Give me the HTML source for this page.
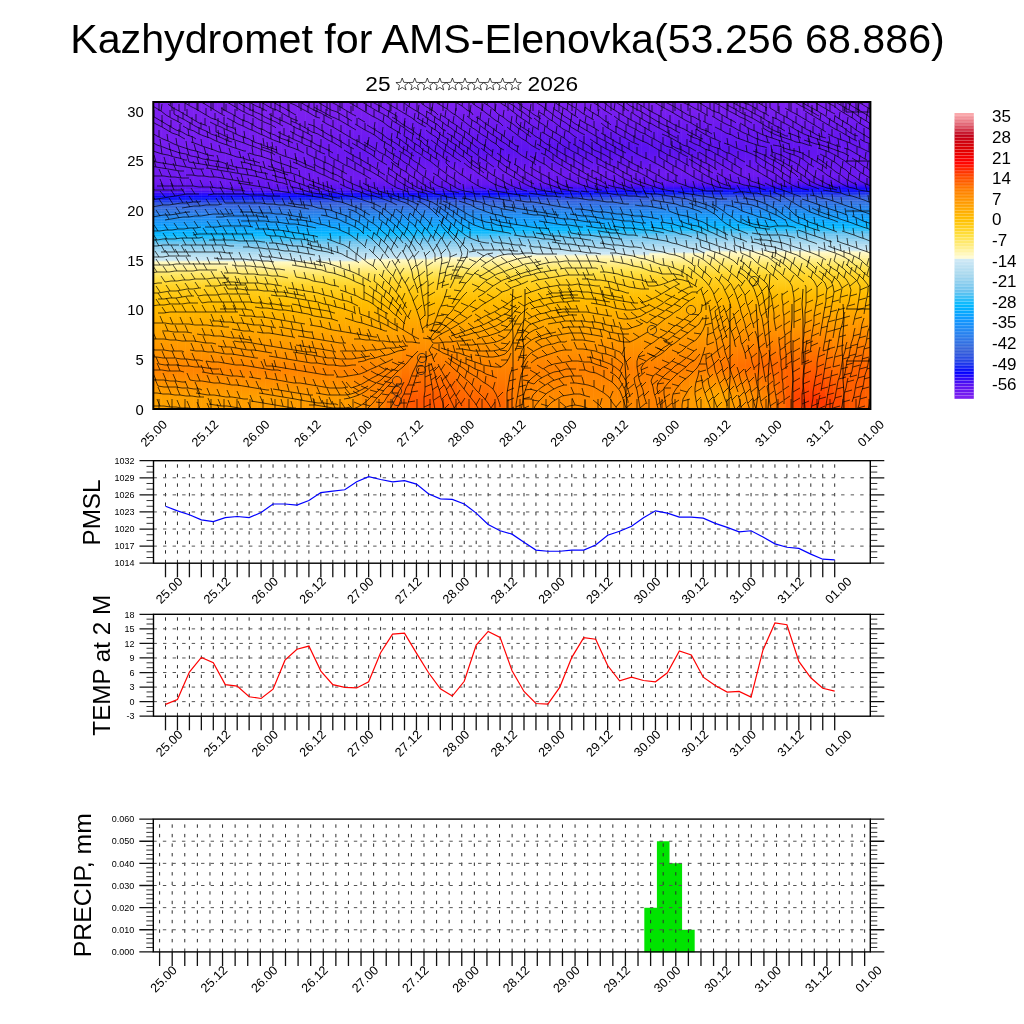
<!DOCTYPE html><html><head><meta charset="utf-8"><style>html,body{margin:0;padding:0;background:#fff;overflow:hidden}svg{display:block;will-change:transform;font-family:"Liberation Sans",sans-serif}</style></head><body><svg width="1024" height="1024" viewBox="0 0 1024 1024" font-family="Liberation Sans, sans-serif"><rect width="1024" height="1024" fill="#fff"/><text x="507.5" y="52.7" text-anchor="middle" font-size="41.2">Kazhydromet for AMS-Elenovka(53.256 68.886)</text><g transform="translate(365.3 91.3) scale(1.12 1)"><text x="0" y="0" font-size="20.3">25</text></g><g transform="translate(527.5 91.3) scale(1.12 1)"><text x="0" y="0" font-size="20.3">2026</text></g><g fill="#fff" stroke="#000" stroke-width="0.7"><polygon points="402.2,78 403.83,82.36 408.48,82.56 404.84,85.46 406.08,89.94 402.2,87.37 398.32,89.94 399.56,85.46 395.92,82.56 400.57,82.36"/><polygon points="414.75,78 416.38,82.36 421.03,82.56 417.39,85.46 418.63,89.94 414.75,87.37 410.87,89.94 412.11,85.46 408.47,82.56 413.12,82.36"/><polygon points="427.3,78 428.93,82.36 433.58,82.56 429.94,85.46 431.18,89.94 427.3,87.37 423.42,89.94 424.66,85.46 421.02,82.56 425.67,82.36"/><polygon points="439.85,78 441.48,82.36 446.13,82.56 442.49,85.46 443.73,89.94 439.85,87.37 435.97,89.94 437.21,85.46 433.57,82.56 438.22,82.36"/><polygon points="452.4,78 454.03,82.36 458.68,82.56 455.04,85.46 456.28,89.94 452.4,87.37 448.52,89.94 449.76,85.46 446.12,82.56 450.77,82.36"/><polygon points="464.95,78 466.58,82.36 471.23,82.56 467.59,85.46 468.83,89.94 464.95,87.37 461.07,89.94 462.31,85.46 458.67,82.56 463.32,82.36"/><polygon points="477.5,78 479.13,82.36 483.78,82.56 480.14,85.46 481.38,89.94 477.5,87.37 473.62,89.94 474.86,85.46 471.22,82.56 475.87,82.36"/><polygon points="490.05,78 491.68,82.36 496.33,82.56 492.69,85.46 493.93,89.94 490.05,87.37 486.17,89.94 487.41,85.46 483.77,82.56 488.42,82.36"/><polygon points="502.6,78 504.23,82.36 508.88,82.56 505.24,85.46 506.48,89.94 502.6,87.37 498.72,89.94 499.96,85.46 496.32,82.56 500.97,82.36"/><polygon points="515.15,78 516.78,82.36 521.43,82.56 517.79,85.46 519.03,89.94 515.15,87.37 511.27,89.94 512.51,85.46 508.87,82.56 513.52,82.36"/></g><defs><linearGradient id="c0" x2="0" y2="1"><stop offset=".000" stop-color="#7f21f0"/><stop offset=".261" stop-color="#701bf0"/><stop offset=".287" stop-color="#5b12f0"/><stop offset=".300" stop-color="#2f09f7"/><stop offset=".306" stop-color="#1204fc"/><stop offset=".313" stop-color="#060bfb"/><stop offset=".326" stop-color="#2446e5"/><stop offset=".339" stop-color="#3a65d9"/><stop offset=".404" stop-color="#0c9fff"/><stop offset=".430" stop-color="#02b4ff"/><stop offset=".436" stop-color="#09b9fe"/><stop offset=".463" stop-color="#75c6ee"/><stop offset=".502" stop-color="#bae0f1"/><stop offset=".515" stop-color="#cbe7f5"/><stop offset=".521" stop-color="#fff9c5"/><stop offset=".567" stop-color="#ffe559"/><stop offset=".599" stop-color="#ffd326"/><stop offset=".658" stop-color="#ffbe00"/><stop offset=".873" stop-color="#ff8400"/><stop offset=".958" stop-color="#ffa200"/><stop offset=".997" stop-color="#ffa000"/></linearGradient><linearGradient id="c1" x2="0" y2="1"><stop offset=".000" stop-color="#7f21f0"/><stop offset=".261" stop-color="#701bf0"/><stop offset=".287" stop-color="#5b12f0"/><stop offset=".300" stop-color="#2e09f7"/><stop offset=".306" stop-color="#1103fc"/><stop offset=".313" stop-color="#060cfb"/><stop offset=".326" stop-color="#2446e5"/><stop offset=".339" stop-color="#3965d9"/><stop offset=".404" stop-color="#0ca0ff"/><stop offset=".430" stop-color="#02b4ff"/><stop offset=".436" stop-color="#09b9fe"/><stop offset=".463" stop-color="#75c6ee"/><stop offset=".502" stop-color="#bae0f1"/><stop offset=".515" stop-color="#cbe7f5"/><stop offset=".521" stop-color="#fff9c5"/><stop offset=".567" stop-color="#ffe559"/><stop offset=".599" stop-color="#ffd326"/><stop offset=".658" stop-color="#ffbe00"/><stop offset=".873" stop-color="#ff8400"/><stop offset=".964" stop-color="#ffa200"/><stop offset=".997" stop-color="#ffa000"/></linearGradient><linearGradient id="c2" x2="0" y2="1"><stop offset=".000" stop-color="#7f21f0"/><stop offset=".261" stop-color="#701bf0"/><stop offset=".287" stop-color="#5b12f0"/><stop offset=".300" stop-color="#2d09f8"/><stop offset=".306" stop-color="#1003fc"/><stop offset=".313" stop-color="#070dfa"/><stop offset=".332" stop-color="#3259dd"/><stop offset=".345" stop-color="#356cde"/><stop offset=".410" stop-color="#0aa5ff"/><stop offset=".430" stop-color="#02b5ff"/><stop offset=".436" stop-color="#09b9fe"/><stop offset=".463" stop-color="#75c6ee"/><stop offset=".502" stop-color="#bae0f1"/><stop offset=".515" stop-color="#cbe7f5"/><stop offset=".521" stop-color="#fff9c5"/><stop offset=".567" stop-color="#ffe559"/><stop offset=".599" stop-color="#ffd326"/><stop offset=".658" stop-color="#ffbe00"/><stop offset=".873" stop-color="#ff8400"/><stop offset=".964" stop-color="#ffa100"/><stop offset=".997" stop-color="#ffa000"/></linearGradient><linearGradient id="c3" x2="0" y2="1"><stop offset=".000" stop-color="#7f21f0"/><stop offset=".261" stop-color="#6f1bf0"/><stop offset=".287" stop-color="#5a12f0"/><stop offset=".300" stop-color="#2c09f8"/><stop offset=".306" stop-color="#0f03fc"/><stop offset=".313" stop-color="#070efa"/><stop offset=".332" stop-color="#3259dd"/><stop offset=".345" stop-color="#356cde"/><stop offset=".410" stop-color="#0aa5ff"/><stop offset=".430" stop-color="#02b5ff"/><stop offset=".436" stop-color="#0ab9fe"/><stop offset=".463" stop-color="#75c6ee"/><stop offset=".502" stop-color="#bae0f1"/><stop offset=".515" stop-color="#cbe7f5"/><stop offset=".521" stop-color="#fff9c5"/><stop offset=".567" stop-color="#ffe559"/><stop offset=".599" stop-color="#ffd326"/><stop offset=".658" stop-color="#ffbe00"/><stop offset=".873" stop-color="#ff8400"/><stop offset=".964" stop-color="#ffa100"/><stop offset=".997" stop-color="#ffa000"/></linearGradient><linearGradient id="c4" x2="0" y2="1"><stop offset=".000" stop-color="#7f21f0"/><stop offset=".261" stop-color="#6f1bf0"/><stop offset=".287" stop-color="#5a12f0"/><stop offset=".306" stop-color="#0e03fd"/><stop offset=".313" stop-color="#080ffa"/><stop offset=".332" stop-color="#335adc"/><stop offset=".352" stop-color="#3173e4"/><stop offset=".410" stop-color="#09a5ff"/><stop offset=".430" stop-color="#02b5ff"/><stop offset=".436" stop-color="#0ab9fd"/><stop offset=".463" stop-color="#75c6ee"/><stop offset=".502" stop-color="#bae0f1"/><stop offset=".515" stop-color="#cbe7f5"/><stop offset=".521" stop-color="#fff9c5"/><stop offset=".567" stop-color="#ffe559"/><stop offset=".599" stop-color="#ffd326"/><stop offset=".658" stop-color="#ffbe00"/><stop offset=".873" stop-color="#ff8400"/><stop offset=".964" stop-color="#ffa100"/><stop offset=".997" stop-color="#ff9f00"/></linearGradient><linearGradient id="c5" x2="0" y2="1"><stop offset=".000" stop-color="#7f21f0"/><stop offset=".261" stop-color="#6f1bf0"/><stop offset=".287" stop-color="#5a12f0"/><stop offset=".306" stop-color="#0d03fd"/><stop offset=".313" stop-color="#0810f9"/><stop offset=".332" stop-color="#335bdc"/><stop offset=".352" stop-color="#3173e4"/><stop offset=".410" stop-color="#09a5ff"/><stop offset=".430" stop-color="#02b5ff"/><stop offset=".436" stop-color="#0bb9fd"/><stop offset=".463" stop-color="#76c6ee"/><stop offset=".502" stop-color="#bae0f1"/><stop offset=".515" stop-color="#cbe7f5"/><stop offset=".521" stop-color="#fff9c5"/><stop offset=".567" stop-color="#ffe559"/><stop offset=".599" stop-color="#ffd326"/><stop offset=".658" stop-color="#ffbe00"/><stop offset=".873" stop-color="#ff8400"/><stop offset=".964" stop-color="#ffa100"/><stop offset=".997" stop-color="#ff9f00"/></linearGradient><linearGradient id="c6" x2="0" y2="1"><stop offset=".000" stop-color="#7f21f0"/><stop offset=".261" stop-color="#6f1bf0"/><stop offset=".287" stop-color="#5912f0"/><stop offset=".306" stop-color="#0c02fd"/><stop offset=".313" stop-color="#0911f9"/><stop offset=".332" stop-color="#345bdc"/><stop offset=".358" stop-color="#2e7ae9"/><stop offset=".410" stop-color="#09a5ff"/><stop offset=".430" stop-color="#02b5ff"/><stop offset=".436" stop-color="#0bb9fd"/><stop offset=".463" stop-color="#76c6ee"/><stop offset=".502" stop-color="#bae0f1"/><stop offset=".515" stop-color="#cbe7f5"/><stop offset=".521" stop-color="#fff9c5"/><stop offset=".567" stop-color="#ffe559"/><stop offset=".599" stop-color="#ffd326"/><stop offset=".658" stop-color="#ffbe00"/><stop offset=".873" stop-color="#ff8400"/><stop offset=".964" stop-color="#ffa000"/><stop offset=".997" stop-color="#ff9f00"/></linearGradient><linearGradient id="c7" x2="0" y2="1"><stop offset=".000" stop-color="#7f21f0"/><stop offset=".261" stop-color="#6f1af0"/><stop offset=".287" stop-color="#5912f0"/><stop offset=".306" stop-color="#0b02fd"/><stop offset=".313" stop-color="#0912f9"/><stop offset=".332" stop-color="#345cdc"/><stop offset=".365" stop-color="#2a80ee"/><stop offset=".417" stop-color="#07aaff"/><stop offset=".430" stop-color="#02b5ff"/><stop offset=".436" stop-color="#0bb9fd"/><stop offset=".463" stop-color="#76c6ee"/><stop offset=".502" stop-color="#bae0f1"/><stop offset=".515" stop-color="#cbe7f5"/><stop offset=".521" stop-color="#fff9c5"/><stop offset=".567" stop-color="#ffe559"/><stop offset=".599" stop-color="#ffd326"/><stop offset=".658" stop-color="#ffbe00"/><stop offset=".873" stop-color="#ff8400"/><stop offset=".964" stop-color="#ffa000"/><stop offset=".997" stop-color="#ff9f00"/></linearGradient><linearGradient id="c8" x2="0" y2="1"><stop offset=".000" stop-color="#7f21f0"/><stop offset=".267" stop-color="#6d1af0"/><stop offset=".287" stop-color="#5812f0"/><stop offset=".306" stop-color="#0a02fd"/><stop offset=".313" stop-color="#0913f8"/><stop offset=".332" stop-color="#345cdc"/><stop offset=".365" stop-color="#2a80ee"/><stop offset=".417" stop-color="#07abff"/><stop offset=".430" stop-color="#02b5ff"/><stop offset=".436" stop-color="#0cb9fd"/><stop offset=".463" stop-color="#76c6ee"/><stop offset=".502" stop-color="#bae0f1"/><stop offset=".515" stop-color="#cbe7f5"/><stop offset=".521" stop-color="#fff9c5"/><stop offset=".567" stop-color="#ffe559"/><stop offset=".599" stop-color="#ffd326"/><stop offset=".658" stop-color="#ffbe00"/><stop offset=".873" stop-color="#ff8400"/><stop offset=".964" stop-color="#ffa000"/><stop offset=".997" stop-color="#ff9e00"/></linearGradient><linearGradient id="c9" x2="0" y2="1"><stop offset=".000" stop-color="#7f21f0"/><stop offset=".267" stop-color="#6d1af0"/><stop offset=".287" stop-color="#5812f0"/><stop offset=".306" stop-color="#0a02fd"/><stop offset=".313" stop-color="#0a14f8"/><stop offset=".332" stop-color="#355ddb"/><stop offset=".371" stop-color="#2485f2"/><stop offset=".423" stop-color="#04b0ff"/><stop offset=".436" stop-color="#0cb9fd"/><stop offset=".463" stop-color="#76c6ee"/><stop offset=".502" stop-color="#bae0f1"/><stop offset=".515" stop-color="#cbe7f5"/><stop offset=".521" stop-color="#fff9c5"/><stop offset=".567" stop-color="#ffe559"/><stop offset=".599" stop-color="#ffd326"/><stop offset=".658" stop-color="#ffbe00"/><stop offset=".873" stop-color="#ff8400"/><stop offset=".964" stop-color="#ffa000"/><stop offset=".997" stop-color="#ff9e00"/></linearGradient><linearGradient id="c10" x2="0" y2="1"><stop offset=".000" stop-color="#7f21f0"/><stop offset=".267" stop-color="#6d1af0"/><stop offset=".287" stop-color="#5711f0"/><stop offset=".306" stop-color="#0902fe"/><stop offset=".319" stop-color="#1932ed"/><stop offset=".332" stop-color="#355ddb"/><stop offset=".384" stop-color="#198ff9"/><stop offset=".430" stop-color="#01b5ff"/><stop offset=".436" stop-color="#0cb9fd"/><stop offset=".463" stop-color="#76c6ee"/><stop offset=".502" stop-color="#bae0f1"/><stop offset=".515" stop-color="#cbe7f5"/><stop offset=".521" stop-color="#fff9c5"/><stop offset=".567" stop-color="#ffe559"/><stop offset=".599" stop-color="#ffd326"/><stop offset=".658" stop-color="#ffbe00"/><stop offset=".873" stop-color="#ff8400"/><stop offset=".964" stop-color="#ff9f00"/><stop offset=".997" stop-color="#ff9e00"/></linearGradient><linearGradient id="c11" x2="0" y2="1"><stop offset=".000" stop-color="#7f21f0"/><stop offset=".267" stop-color="#6d1af0"/><stop offset=".287" stop-color="#5711f1"/><stop offset=".306" stop-color="#0802fe"/><stop offset=".319" stop-color="#1933ed"/><stop offset=".332" stop-color="#355edb"/><stop offset=".391" stop-color="#1495fd"/><stop offset=".430" stop-color="#01b5ff"/><stop offset=".436" stop-color="#0db9fd"/><stop offset=".463" stop-color="#76c6ee"/><stop offset=".502" stop-color="#bae0f1"/><stop offset=".515" stop-color="#cbe7f5"/><stop offset=".521" stop-color="#fff9c5"/><stop offset=".567" stop-color="#ffe559"/><stop offset=".599" stop-color="#ffd326"/><stop offset=".658" stop-color="#ffbe00"/><stop offset=".873" stop-color="#ff8400"/><stop offset=".964" stop-color="#ff9f00"/><stop offset=".997" stop-color="#ff9e00"/></linearGradient><linearGradient id="c12" x2="0" y2="1"><stop offset=".000" stop-color="#7f21f0"/><stop offset=".267" stop-color="#6d1af0"/><stop offset=".287" stop-color="#5611f1"/><stop offset=".306" stop-color="#0701fe"/><stop offset=".326" stop-color="#294ce3"/><stop offset=".339" stop-color="#3867da"/><stop offset=".404" stop-color="#0ca1ff"/><stop offset=".430" stop-color="#01b5ff"/><stop offset=".436" stop-color="#0db9fd"/><stop offset=".463" stop-color="#76c6ee"/><stop offset=".502" stop-color="#bae0f1"/><stop offset=".515" stop-color="#cbe7f5"/><stop offset=".521" stop-color="#fff9c5"/><stop offset=".567" stop-color="#ffe559"/><stop offset=".599" stop-color="#ffd326"/><stop offset=".658" stop-color="#ffbe00"/><stop offset=".873" stop-color="#ff8400"/><stop offset=".964" stop-color="#ff9f00"/><stop offset=".997" stop-color="#ff9d00"/></linearGradient><linearGradient id="c13" x2="0" y2="1"><stop offset=".000" stop-color="#7f21f0"/><stop offset=".208" stop-color="#761df0"/><stop offset=".274" stop-color="#6617f0"/><stop offset=".287" stop-color="#5511f1"/><stop offset=".306" stop-color="#0601fe"/><stop offset=".332" stop-color="#365edb"/><stop offset=".410" stop-color="#09a6ff"/><stop offset=".430" stop-color="#01b5ff"/><stop offset=".436" stop-color="#0db9fd"/><stop offset=".463" stop-color="#76c6ee"/><stop offset=".502" stop-color="#bae0f1"/><stop offset=".515" stop-color="#cbe7f5"/><stop offset=".521" stop-color="#fff9c5"/><stop offset=".567" stop-color="#ffe559"/><stop offset=".599" stop-color="#ffd326"/><stop offset=".658" stop-color="#ffbe00"/><stop offset=".873" stop-color="#ff8400"/><stop offset=".964" stop-color="#ff9f00"/><stop offset=".997" stop-color="#ff9d00"/></linearGradient><linearGradient id="c14" x2="0" y2="1"><stop offset=".000" stop-color="#7f21f0"/><stop offset=".202" stop-color="#761df0"/><stop offset=".274" stop-color="#6617f0"/><stop offset=".287" stop-color="#5511f1"/><stop offset=".306" stop-color="#0501fe"/><stop offset=".332" stop-color="#365fda"/><stop offset=".410" stop-color="#09a6ff"/><stop offset=".430" stop-color="#01b5ff"/><stop offset=".436" stop-color="#0eb9fd"/><stop offset=".463" stop-color="#77c6ee"/><stop offset=".502" stop-color="#bae0f1"/><stop offset=".515" stop-color="#cbe7f5"/><stop offset=".521" stop-color="#fff9c5"/><stop offset=".567" stop-color="#ffe559"/><stop offset=".599" stop-color="#ffd326"/><stop offset=".658" stop-color="#ffbe00"/><stop offset=".873" stop-color="#ff8400"/><stop offset=".964" stop-color="#ff9e00"/><stop offset=".997" stop-color="#ff9d00"/></linearGradient><linearGradient id="c15" x2="0" y2="1"><stop offset=".000" stop-color="#7f21f0"/><stop offset=".189" stop-color="#741cf0"/><stop offset=".267" stop-color="#6d1af0"/><stop offset=".287" stop-color="#5411f1"/><stop offset=".306" stop-color="#0401fe"/><stop offset=".332" stop-color="#365fda"/><stop offset=".404" stop-color="#0ca1ff"/><stop offset=".430" stop-color="#01b5ff"/><stop offset=".436" stop-color="#0ebafd"/><stop offset=".463" stop-color="#77c6ee"/><stop offset=".502" stop-color="#bae0f1"/><stop offset=".515" stop-color="#cbe7f5"/><stop offset=".521" stop-color="#fff9c5"/><stop offset=".567" stop-color="#ffe559"/><stop offset=".599" stop-color="#ffd326"/><stop offset=".658" stop-color="#ffbe00"/><stop offset=".873" stop-color="#ff8400"/><stop offset=".964" stop-color="#ff9e00"/><stop offset=".997" stop-color="#ff9d00"/></linearGradient><linearGradient id="c16" x2="0" y2="1"><stop offset=".000" stop-color="#7f21f0"/><stop offset=".189" stop-color="#741cf0"/><stop offset=".267" stop-color="#6d1af0"/><stop offset=".287" stop-color="#5411f1"/><stop offset=".306" stop-color="#0301ff"/><stop offset=".326" stop-color="#2a4ee2"/><stop offset=".339" stop-color="#3868db"/><stop offset=".404" stop-color="#0ca1ff"/><stop offset=".430" stop-color="#01b6ff"/><stop offset=".436" stop-color="#0ebafd"/><stop offset=".463" stop-color="#77c6ee"/><stop offset=".502" stop-color="#bae0f1"/><stop offset=".515" stop-color="#cbe7f5"/><stop offset=".521" stop-color="#fff9c5"/><stop offset=".567" stop-color="#ffe559"/><stop offset=".599" stop-color="#ffd326"/><stop offset=".658" stop-color="#ffbe00"/><stop offset=".873" stop-color="#ff8400"/><stop offset=".964" stop-color="#ff9e00"/><stop offset=".997" stop-color="#ff9c00"/></linearGradient><linearGradient id="c17" x2="0" y2="1"><stop offset=".000" stop-color="#7f21f0"/><stop offset=".182" stop-color="#721cf0"/><stop offset=".267" stop-color="#6d19f0"/><stop offset=".287" stop-color="#5311f1"/><stop offset=".306" stop-color="#0200ff"/><stop offset=".326" stop-color="#2b4fe1"/><stop offset=".339" stop-color="#3868db"/><stop offset=".404" stop-color="#0ba1ff"/><stop offset=".430" stop-color="#01b6ff"/><stop offset=".436" stop-color="#0fbafd"/><stop offset=".463" stop-color="#77c6ee"/><stop offset=".502" stop-color="#bae0f1"/><stop offset=".515" stop-color="#cbe7f5"/><stop offset=".521" stop-color="#fff9c5"/><stop offset=".567" stop-color="#ffe559"/><stop offset=".599" stop-color="#ffd326"/><stop offset=".658" stop-color="#ffbe00"/><stop offset=".873" stop-color="#ff8400"/><stop offset=".964" stop-color="#ff9e00"/><stop offset=".997" stop-color="#ff9c00"/></linearGradient><linearGradient id="c18" x2="0" y2="1"><stop offset=".000" stop-color="#7f21f0"/><stop offset=".176" stop-color="#711bf0"/><stop offset=".261" stop-color="#6e1af0"/><stop offset=".287" stop-color="#5311f1"/><stop offset=".306" stop-color="#0100ff"/><stop offset=".326" stop-color="#2b4fe1"/><stop offset=".339" stop-color="#3868db"/><stop offset=".404" stop-color="#0ba1ff"/><stop offset=".430" stop-color="#01b6ff"/><stop offset=".436" stop-color="#0fbafd"/><stop offset=".463" stop-color="#77c7ee"/><stop offset=".502" stop-color="#bae0f1"/><stop offset=".515" stop-color="#cbe7f5"/><stop offset=".521" stop-color="#fff9c5"/><stop offset=".567" stop-color="#ffe559"/><stop offset=".599" stop-color="#ffd326"/><stop offset=".658" stop-color="#ffbe00"/><stop offset=".873" stop-color="#ff8400"/><stop offset=".964" stop-color="#ff9d00"/><stop offset=".997" stop-color="#ff9c00"/></linearGradient><linearGradient id="c19" x2="0" y2="1"><stop offset=".000" stop-color="#7f21f0"/><stop offset=".176" stop-color="#701bf0"/><stop offset=".261" stop-color="#6e1af0"/><stop offset=".287" stop-color="#5210f1"/><stop offset=".306" stop-color="#0000ff"/><stop offset=".326" stop-color="#2b50e1"/><stop offset=".339" stop-color="#3868db"/><stop offset=".404" stop-color="#0ba1ff"/><stop offset=".430" stop-color="#01b6ff"/><stop offset=".443" stop-color="#2cbdf8"/><stop offset=".463" stop-color="#77c7ee"/><stop offset=".502" stop-color="#bae0f1"/><stop offset=".515" stop-color="#cbe7f5"/><stop offset=".521" stop-color="#fff9c5"/><stop offset=".567" stop-color="#ffe559"/><stop offset=".599" stop-color="#ffd326"/><stop offset=".658" stop-color="#ffbe00"/><stop offset=".873" stop-color="#ff8400"/><stop offset=".964" stop-color="#ff9d00"/><stop offset=".997" stop-color="#ff9b00"/></linearGradient><linearGradient id="c20" x2="0" y2="1"><stop offset=".000" stop-color="#7f21f0"/><stop offset=".176" stop-color="#6f1bf0"/><stop offset=".254" stop-color="#701bf0"/><stop offset=".280" stop-color="#5e13f0"/><stop offset=".293" stop-color="#390bf6"/><stop offset=".306" stop-color="#0001ff"/><stop offset=".326" stop-color="#2c50e1"/><stop offset=".339" stop-color="#3769dc"/><stop offset=".404" stop-color="#0ba1ff"/><stop offset=".430" stop-color="#01b6ff"/><stop offset=".443" stop-color="#2cbdf8"/><stop offset=".463" stop-color="#77c7ee"/><stop offset=".502" stop-color="#bae0f1"/><stop offset=".515" stop-color="#cbe7f5"/><stop offset=".521" stop-color="#fff9c5"/><stop offset=".567" stop-color="#ffe559"/><stop offset=".599" stop-color="#ffd326"/><stop offset=".658" stop-color="#ffbe00"/><stop offset=".873" stop-color="#ff8400"/><stop offset=".964" stop-color="#ff9d00"/><stop offset=".997" stop-color="#ff9b00"/></linearGradient><linearGradient id="c21" x2="0" y2="1"><stop offset=".000" stop-color="#7f21f0"/><stop offset=".169" stop-color="#6d1af0"/><stop offset=".254" stop-color="#701bf0"/><stop offset=".280" stop-color="#5d13f0"/><stop offset=".293" stop-color="#380bf6"/><stop offset=".306" stop-color="#0102fe"/><stop offset=".319" stop-color="#1f3ee9"/><stop offset=".332" stop-color="#3861d9"/><stop offset=".404" stop-color="#0ba1ff"/><stop offset=".430" stop-color="#01b6ff"/><stop offset=".443" stop-color="#2cbdf8"/><stop offset=".463" stop-color="#77c7ee"/><stop offset=".502" stop-color="#bae0f1"/><stop offset=".515" stop-color="#cbe7f5"/><stop offset=".521" stop-color="#fff9c5"/><stop offset=".567" stop-color="#ffe559"/><stop offset=".599" stop-color="#ffd326"/><stop offset=".658" stop-color="#ffbe00"/><stop offset=".873" stop-color="#ff8400"/><stop offset=".964" stop-color="#ff9d00"/><stop offset=".997" stop-color="#ff9b00"/></linearGradient><linearGradient id="c22" x2="0" y2="1"><stop offset=".000" stop-color="#7f21f0"/><stop offset=".169" stop-color="#6d19f0"/><stop offset=".248" stop-color="#711bf0"/><stop offset=".280" stop-color="#5d13f0"/><stop offset=".293" stop-color="#370bf6"/><stop offset=".306" stop-color="#0103fe"/><stop offset=".319" stop-color="#203fe8"/><stop offset=".332" stop-color="#3861d9"/><stop offset=".404" stop-color="#0ba2ff"/><stop offset=".430" stop-color="#01b6ff"/><stop offset=".443" stop-color="#2dbdf8"/><stop offset=".463" stop-color="#78c7ee"/><stop offset=".502" stop-color="#bbe0f2"/><stop offset=".515" stop-color="#cbe7f5"/><stop offset=".521" stop-color="#fff9c5"/><stop offset=".573" stop-color="#ffe24a"/><stop offset=".599" stop-color="#ffd326"/><stop offset=".658" stop-color="#ffbe00"/><stop offset=".873" stop-color="#ff8400"/><stop offset=".964" stop-color="#ff9c00"/><stop offset=".997" stop-color="#ff9b00"/></linearGradient><linearGradient id="c23" x2="0" y2="1"><stop offset=".000" stop-color="#7f21f0"/><stop offset=".169" stop-color="#6c19f0"/><stop offset=".248" stop-color="#711bf0"/><stop offset=".280" stop-color="#5d13f0"/><stop offset=".293" stop-color="#360bf6"/><stop offset=".306" stop-color="#0204fe"/><stop offset=".319" stop-color="#2040e8"/><stop offset=".332" stop-color="#3862d9"/><stop offset=".404" stop-color="#0ba2ff"/><stop offset=".430" stop-color="#01b6ff"/><stop offset=".463" stop-color="#79c7ee"/><stop offset=".502" stop-color="#bce0f2"/><stop offset=".515" stop-color="#cce7f5"/><stop offset=".521" stop-color="#fff8c2"/><stop offset=".573" stop-color="#ffe248"/><stop offset=".606" stop-color="#ffd020"/><stop offset=".658" stop-color="#ffbd00"/><stop offset=".873" stop-color="#ff8300"/><stop offset=".964" stop-color="#ff9c00"/><stop offset=".997" stop-color="#ff9a00"/></linearGradient><linearGradient id="c24" x2="0" y2="1"><stop offset=".000" stop-color="#7f21f0"/><stop offset=".163" stop-color="#6918f0"/><stop offset=".248" stop-color="#711bf0"/><stop offset=".280" stop-color="#5d13f0"/><stop offset=".293" stop-color="#350bf6"/><stop offset=".306" stop-color="#0205fd"/><stop offset=".319" stop-color="#2141e8"/><stop offset=".332" stop-color="#3962d9"/><stop offset=".404" stop-color="#0ba2ff"/><stop offset=".430" stop-color="#01b7ff"/><stop offset=".456" stop-color="#6bc3ef"/><stop offset=".495" stop-color="#b4ddf0"/><stop offset=".515" stop-color="#cde8f5"/><stop offset=".521" stop-color="#fff8c0"/><stop offset=".573" stop-color="#ffe147"/><stop offset=".606" stop-color="#ffd020"/><stop offset=".658" stop-color="#ffbd00"/><stop offset=".873" stop-color="#ff8300"/><stop offset=".964" stop-color="#ff9c00"/><stop offset=".997" stop-color="#ff9a00"/></linearGradient><linearGradient id="c25" x2="0" y2="1"><stop offset=".000" stop-color="#7f21f0"/><stop offset=".163" stop-color="#6818f0"/><stop offset=".248" stop-color="#711bf0"/><stop offset=".280" stop-color="#5c13f0"/><stop offset=".293" stop-color="#340af6"/><stop offset=".306" stop-color="#0306fd"/><stop offset=".319" stop-color="#2142e7"/><stop offset=".332" stop-color="#3963d9"/><stop offset=".404" stop-color="#0ba3ff"/><stop offset=".430" stop-color="#00b7ff"/><stop offset=".456" stop-color="#6dc4ee"/><stop offset=".495" stop-color="#b5def0"/><stop offset=".515" stop-color="#cee8f5"/><stop offset=".521" stop-color="#fff8be"/><stop offset=".573" stop-color="#ffe145"/><stop offset=".606" stop-color="#ffd01f"/><stop offset=".658" stop-color="#ffbd00"/><stop offset=".873" stop-color="#ff8300"/><stop offset=".977" stop-color="#ff9500"/><stop offset=".997" stop-color="#ff9400"/></linearGradient><linearGradient id="c26" x2="0" y2="1"><stop offset=".000" stop-color="#7f21f0"/><stop offset=".163" stop-color="#6717f0"/><stop offset=".248" stop-color="#711bf0"/><stop offset=".280" stop-color="#5c13f0"/><stop offset=".293" stop-color="#330af6"/><stop offset=".306" stop-color="#0307fd"/><stop offset=".319" stop-color="#2242e7"/><stop offset=".332" stop-color="#3963d8"/><stop offset=".404" stop-color="#0aa3ff"/><stop offset=".430" stop-color="#00b8ff"/><stop offset=".456" stop-color="#70c4ee"/><stop offset=".495" stop-color="#b6def1"/><stop offset=".508" stop-color="#c7e5f4"/><stop offset=".515" stop-color="#ffface"/><stop offset=".560" stop-color="#ffe65f"/><stop offset=".593" stop-color="#ffd428"/><stop offset=".658" stop-color="#ffbd00"/><stop offset=".879" stop-color="#ff8300"/><stop offset=".997" stop-color="#ff8e00"/></linearGradient><linearGradient id="c27" x2="0" y2="1"><stop offset=".000" stop-color="#7f21f0"/><stop offset=".163" stop-color="#6617f0"/><stop offset=".241" stop-color="#721cf0"/><stop offset=".280" stop-color="#5c13f0"/><stop offset=".293" stop-color="#320af7"/><stop offset=".306" stop-color="#0408fc"/><stop offset=".319" stop-color="#2243e7"/><stop offset=".332" stop-color="#3a64d8"/><stop offset=".404" stop-color="#0aa3ff"/><stop offset=".430" stop-color="#01b8ff"/><stop offset=".456" stop-color="#71c4ee"/><stop offset=".495" stop-color="#b7def1"/><stop offset=".508" stop-color="#c8e6f4"/><stop offset=".515" stop-color="#fffacc"/><stop offset=".560" stop-color="#ffe65e"/><stop offset=".593" stop-color="#ffd428"/><stop offset=".658" stop-color="#ffbc00"/><stop offset=".879" stop-color="#ff8200"/><stop offset=".997" stop-color="#ff8700"/></linearGradient><linearGradient id="c28" x2="0" y2="1"><stop offset=".000" stop-color="#7f21f0"/><stop offset=".117" stop-color="#6717f0"/><stop offset=".189" stop-color="#6d1af0"/><stop offset=".254" stop-color="#6f1af0"/><stop offset=".280" stop-color="#5c13f0"/><stop offset=".293" stop-color="#310af7"/><stop offset=".306" stop-color="#0409fc"/><stop offset=".319" stop-color="#2344e6"/><stop offset=".332" stop-color="#3a64d8"/><stop offset=".404" stop-color="#0aa4ff"/><stop offset=".430" stop-color="#03b8fe"/><stop offset=".456" stop-color="#72c5ee"/><stop offset=".495" stop-color="#b8dff1"/><stop offset=".508" stop-color="#c9e6f4"/><stop offset=".515" stop-color="#fffaca"/><stop offset=".560" stop-color="#ffe65c"/><stop offset=".593" stop-color="#ffd427"/><stop offset=".658" stop-color="#ffbc00"/><stop offset=".886" stop-color="#ff8100"/><stop offset=".997" stop-color="#ff8000"/></linearGradient><linearGradient id="c29" x2="0" y2="1"><stop offset=".000" stop-color="#7f21f0"/><stop offset=".111" stop-color="#6818f0"/><stop offset=".176" stop-color="#6818f0"/><stop offset=".248" stop-color="#711bf0"/><stop offset=".280" stop-color="#5c13f0"/><stop offset=".293" stop-color="#300af7"/><stop offset=".306" stop-color="#050afc"/><stop offset=".319" stop-color="#2344e6"/><stop offset=".332" stop-color="#3a64d8"/><stop offset=".397" stop-color="#0d9fff"/><stop offset=".430" stop-color="#06b9fe"/><stop offset=".456" stop-color="#74c5ee"/><stop offset=".495" stop-color="#b9dff1"/><stop offset=".508" stop-color="#c9e6f4"/><stop offset=".515" stop-color="#fff9c8"/><stop offset=".560" stop-color="#ffe55a"/><stop offset=".593" stop-color="#ffd327"/><stop offset=".658" stop-color="#ffbc00"/><stop offset=".899" stop-color="#ff7d00"/><stop offset=".997" stop-color="#ff7300"/></linearGradient><linearGradient id="c30" x2="0" y2="1"><stop offset=".000" stop-color="#7f21f0"/><stop offset=".104" stop-color="#6918f0"/><stop offset=".163" stop-color="#6316f0"/><stop offset=".241" stop-color="#721bf0"/><stop offset=".274" stop-color="#6215f0"/><stop offset=".287" stop-color="#4c0ff2"/><stop offset=".300" stop-color="#1304fc"/><stop offset=".306" stop-color="#050bfb"/><stop offset=".319" stop-color="#2445e6"/><stop offset=".332" stop-color="#3a65d8"/><stop offset=".397" stop-color="#0c9fff"/><stop offset=".423" stop-color="#02b4ff"/><stop offset=".430" stop-color="#08b9fe"/><stop offset=".456" stop-color="#75c6ee"/><stop offset=".495" stop-color="#bae0f1"/><stop offset=".508" stop-color="#cae7f5"/><stop offset=".515" stop-color="#fff9c6"/><stop offset=".560" stop-color="#ffe559"/><stop offset=".593" stop-color="#ffd326"/><stop offset=".651" stop-color="#ffbe00"/><stop offset=".984" stop-color="#ff6400"/><stop offset=".997" stop-color="#ff6500"/></linearGradient><linearGradient id="c31" x2="0" y2="1"><stop offset=".000" stop-color="#7f21f0"/><stop offset=".104" stop-color="#6918f0"/><stop offset=".163" stop-color="#6215f0"/><stop offset=".241" stop-color="#721bf0"/><stop offset=".274" stop-color="#6215f0"/><stop offset=".287" stop-color="#4b0ff3"/><stop offset=".300" stop-color="#1103fc"/><stop offset=".306" stop-color="#060cfb"/><stop offset=".319" stop-color="#2446e5"/><stop offset=".332" stop-color="#3965d9"/><stop offset=".397" stop-color="#0ca0ff"/><stop offset=".423" stop-color="#02b5ff"/><stop offset=".430" stop-color="#0bb9fd"/><stop offset=".456" stop-color="#76c6ee"/><stop offset=".495" stop-color="#bbe0f2"/><stop offset=".508" stop-color="#cbe7f5"/><stop offset=".515" stop-color="#fff9c3"/><stop offset=".567" stop-color="#ffe249"/><stop offset=".599" stop-color="#ffd021"/><stop offset=".651" stop-color="#ffbe00"/><stop offset=".925" stop-color="#ff6700"/><stop offset=".997" stop-color="#ff5d00"/></linearGradient><linearGradient id="c32" x2="0" y2="1"><stop offset=".000" stop-color="#7f21f0"/><stop offset=".104" stop-color="#6818f0"/><stop offset=".163" stop-color="#6215f0"/><stop offset=".241" stop-color="#711bf0"/><stop offset=".274" stop-color="#6215f0"/><stop offset=".287" stop-color="#490ff3"/><stop offset=".300" stop-color="#1003fc"/><stop offset=".306" stop-color="#070efa"/><stop offset=".326" stop-color="#325add"/><stop offset=".339" stop-color="#356cdf"/><stop offset=".397" stop-color="#0ca0ff"/><stop offset=".423" stop-color="#01b5ff"/><stop offset=".430" stop-color="#0eb9fd"/><stop offset=".456" stop-color="#77c7ee"/><stop offset=".495" stop-color="#bce0f2"/><stop offset=".508" stop-color="#cce8f5"/><stop offset=".515" stop-color="#fff8c1"/><stop offset=".567" stop-color="#ffe248"/><stop offset=".599" stop-color="#ffd020"/><stop offset=".651" stop-color="#ffbd00"/><stop offset=".912" stop-color="#ff6c00"/><stop offset=".977" stop-color="#ff5700"/><stop offset=".997" stop-color="#ff5900"/></linearGradient><linearGradient id="c33" x2="0" y2="1"><stop offset=".000" stop-color="#7f21f0"/><stop offset=".104" stop-color="#6818f0"/><stop offset=".163" stop-color="#6115f0"/><stop offset=".241" stop-color="#711bf0"/><stop offset=".274" stop-color="#6115f0"/><stop offset=".287" stop-color="#470ef3"/><stop offset=".300" stop-color="#0e03fd"/><stop offset=".306" stop-color="#080ffa"/><stop offset=".326" stop-color="#335bdc"/><stop offset=".345" stop-color="#3174e4"/><stop offset=".404" stop-color="#09a6ff"/><stop offset=".423" stop-color="#01b6ff"/><stop offset=".436" stop-color="#2dbdf8"/><stop offset=".456" stop-color="#79c7ee"/><stop offset=".495" stop-color="#bde1f2"/><stop offset=".508" stop-color="#cde8f5"/><stop offset=".515" stop-color="#fff8bf"/><stop offset=".567" stop-color="#ffe146"/><stop offset=".599" stop-color="#ffd020"/><stop offset=".651" stop-color="#ffbd00"/><stop offset=".912" stop-color="#ff6b00"/><stop offset=".977" stop-color="#ff5500"/><stop offset=".997" stop-color="#ff5700"/></linearGradient><linearGradient id="c34" x2="0" y2="1"><stop offset=".000" stop-color="#7f21f0"/><stop offset=".098" stop-color="#6b19f0"/><stop offset=".156" stop-color="#5f14f0"/><stop offset=".241" stop-color="#711bf0"/><stop offset=".274" stop-color="#6115f0"/><stop offset=".287" stop-color="#460ef3"/><stop offset=".300" stop-color="#0d03fd"/><stop offset=".306" stop-color="#0811f9"/><stop offset=".326" stop-color="#345cdc"/><stop offset=".358" stop-color="#2a80ee"/><stop offset=".410" stop-color="#06acff"/><stop offset=".423" stop-color="#01b6ff"/><stop offset=".436" stop-color="#30bdf8"/><stop offset=".450" stop-color="#69c3ef"/><stop offset=".489" stop-color="#b5def0"/><stop offset=".508" stop-color="#cee8f5"/><stop offset=".515" stop-color="#fff8bd"/><stop offset=".567" stop-color="#ffe144"/><stop offset=".606" stop-color="#ffcd1a"/><stop offset=".651" stop-color="#ffbd00"/><stop offset=".906" stop-color="#ff6e00"/><stop offset=".977" stop-color="#ff5500"/><stop offset=".997" stop-color="#ff5700"/></linearGradient><linearGradient id="c35" x2="0" y2="1"><stop offset=".000" stop-color="#7f21f0"/><stop offset=".098" stop-color="#6b19f0"/><stop offset=".156" stop-color="#5f14f0"/><stop offset=".241" stop-color="#711bf0"/><stop offset=".274" stop-color="#6115f0"/><stop offset=".287" stop-color="#440ef4"/><stop offset=".300" stop-color="#0b02fd"/><stop offset=".306" stop-color="#0912f8"/><stop offset=".326" stop-color="#355ddb"/><stop offset=".371" stop-color="#1e8bf6"/><stop offset=".423" stop-color="#01b7ff"/><stop offset=".450" stop-color="#6cc4ef"/><stop offset=".489" stop-color="#b6def1"/><stop offset=".502" stop-color="#c7e5f4"/><stop offset=".508" stop-color="#fffacd"/><stop offset=".554" stop-color="#ffe65f"/><stop offset=".586" stop-color="#ffd428"/><stop offset=".651" stop-color="#ffbc00"/><stop offset=".912" stop-color="#ff6b00"/><stop offset=".984" stop-color="#ff5700"/><stop offset=".997" stop-color="#ff5700"/></linearGradient><linearGradient id="c36" x2="0" y2="1"><stop offset=".000" stop-color="#7f21f0"/><stop offset=".098" stop-color="#6a19f0"/><stop offset=".156" stop-color="#5f14f0"/><stop offset=".235" stop-color="#721cf0"/><stop offset=".274" stop-color="#6014f0"/><stop offset=".287" stop-color="#430df4"/><stop offset=".300" stop-color="#0a02fd"/><stop offset=".306" stop-color="#0a14f8"/><stop offset=".326" stop-color="#365edb"/><stop offset=".397" stop-color="#0ba2ff"/><stop offset=".423" stop-color="#00b7ff"/><stop offset=".450" stop-color="#6fc4ee"/><stop offset=".489" stop-color="#b7def1"/><stop offset=".502" stop-color="#c8e6f4"/><stop offset=".508" stop-color="#fffacb"/><stop offset=".554" stop-color="#ffe65d"/><stop offset=".586" stop-color="#ffd427"/><stop offset=".651" stop-color="#ffbc00"/><stop offset=".912" stop-color="#ff6c00"/><stop offset=".990" stop-color="#ff5a00"/><stop offset=".997" stop-color="#ff5a00"/></linearGradient><linearGradient id="c37" x2="0" y2="1"><stop offset=".000" stop-color="#7f21f0"/><stop offset=".098" stop-color="#6a18f0"/><stop offset=".156" stop-color="#5e14f0"/><stop offset=".235" stop-color="#721cf0"/><stop offset=".267" stop-color="#6717f0"/><stop offset=".280" stop-color="#5711f1"/><stop offset=".300" stop-color="#0802fe"/><stop offset=".313" stop-color="#1a34ec"/><stop offset=".326" stop-color="#365fda"/><stop offset=".397" stop-color="#0ba2ff"/><stop offset=".423" stop-color="#00b8ff"/><stop offset=".450" stop-color="#71c4ee"/><stop offset=".489" stop-color="#b8dff1"/><stop offset=".502" stop-color="#c9e6f4"/><stop offset=".508" stop-color="#fff9c9"/><stop offset=".554" stop-color="#ffe55b"/><stop offset=".586" stop-color="#ffd327"/><stop offset=".651" stop-color="#ffbc00"/><stop offset=".932" stop-color="#ff6500"/><stop offset=".997" stop-color="#ff5d00"/></linearGradient><linearGradient id="c38" x2="0" y2="1"><stop offset=".000" stop-color="#7f21f0"/><stop offset=".098" stop-color="#6a18f0"/><stop offset=".156" stop-color="#5e14f0"/><stop offset=".235" stop-color="#721bf0"/><stop offset=".267" stop-color="#6617f0"/><stop offset=".280" stop-color="#5611f1"/><stop offset=".300" stop-color="#0701fe"/><stop offset=".326" stop-color="#375fda"/><stop offset=".397" stop-color="#0ba3ff"/><stop offset=".423" stop-color="#01b8ff"/><stop offset=".450" stop-color="#72c5ee"/><stop offset=".489" stop-color="#b9dff1"/><stop offset=".502" stop-color="#cae7f4"/><stop offset=".508" stop-color="#fff9c7"/><stop offset=".554" stop-color="#ffe55a"/><stop offset=".586" stop-color="#ffd326"/><stop offset=".645" stop-color="#ffbe00"/><stop offset=".984" stop-color="#ff5f00"/><stop offset=".997" stop-color="#ff5f00"/></linearGradient><linearGradient id="c39" x2="0" y2="1"><stop offset=".000" stop-color="#7f21f0"/><stop offset=".098" stop-color="#6a18f0"/><stop offset=".156" stop-color="#5e13f0"/><stop offset=".235" stop-color="#721bf0"/><stop offset=".267" stop-color="#6617f0"/><stop offset=".280" stop-color="#5511f1"/><stop offset=".300" stop-color="#0501fe"/><stop offset=".319" stop-color="#2b4fe1"/><stop offset=".332" stop-color="#3768dc"/><stop offset=".397" stop-color="#0aa3ff"/><stop offset=".423" stop-color="#03b8fe"/><stop offset=".450" stop-color="#74c5ee"/><stop offset=".489" stop-color="#bae0f1"/><stop offset=".502" stop-color="#cbe7f5"/><stop offset=".508" stop-color="#fff9c5"/><stop offset=".560" stop-color="#ffe24a"/><stop offset=".586" stop-color="#ffd326"/><stop offset=".645" stop-color="#ffbe00"/><stop offset=".984" stop-color="#ff6100"/><stop offset=".997" stop-color="#ff6000"/></linearGradient><linearGradient id="c40" x2="0" y2="1"><stop offset=".000" stop-color="#7f21f0"/><stop offset=".098" stop-color="#6a18f0"/><stop offset=".156" stop-color="#5d13f0"/><stop offset=".235" stop-color="#711bf0"/><stop offset=".267" stop-color="#6617f0"/><stop offset=".280" stop-color="#5411f1"/><stop offset=".300" stop-color="#0401fe"/><stop offset=".319" stop-color="#2b50e1"/><stop offset=".332" stop-color="#3769dc"/><stop offset=".397" stop-color="#0aa4ff"/><stop offset=".423" stop-color="#06b9fe"/><stop offset=".450" stop-color="#75c6ee"/><stop offset=".489" stop-color="#bbe0f2"/><stop offset=".502" stop-color="#cce7f5"/><stop offset=".508" stop-color="#fff8c2"/><stop offset=".560" stop-color="#ffe248"/><stop offset=".593" stop-color="#ffd020"/><stop offset=".645" stop-color="#ffbd00"/><stop offset=".984" stop-color="#ff6200"/><stop offset=".997" stop-color="#ff6100"/></linearGradient><linearGradient id="c41" x2="0" y2="1"><stop offset=".000" stop-color="#7f21f0"/><stop offset=".098" stop-color="#6918f0"/><stop offset=".156" stop-color="#5d13f0"/><stop offset=".235" stop-color="#711bf0"/><stop offset=".267" stop-color="#6516f0"/><stop offset=".280" stop-color="#5311f1"/><stop offset=".300" stop-color="#0200ff"/><stop offset=".319" stop-color="#2c51e0"/><stop offset=".332" stop-color="#3769dc"/><stop offset=".397" stop-color="#0aa4ff"/><stop offset=".417" stop-color="#02b4ff"/><stop offset=".423" stop-color="#09b9fe"/><stop offset=".450" stop-color="#76c6ee"/><stop offset=".489" stop-color="#bce0f2"/><stop offset=".502" stop-color="#cde8f5"/><stop offset=".508" stop-color="#fff8c0"/><stop offset=".560" stop-color="#ffe147"/><stop offset=".593" stop-color="#ffd020"/><stop offset=".645" stop-color="#ffbd00"/><stop offset=".984" stop-color="#ff6300"/><stop offset=".997" stop-color="#ff6200"/></linearGradient><linearGradient id="c42" x2="0" y2="1"><stop offset=".000" stop-color="#7f21f0"/><stop offset=".098" stop-color="#6918f0"/><stop offset=".156" stop-color="#5d13f0"/><stop offset=".235" stop-color="#711bf0"/><stop offset=".267" stop-color="#6516f0"/><stop offset=".280" stop-color="#5210f1"/><stop offset=".300" stop-color="#0000ff"/><stop offset=".313" stop-color="#1f3fe8"/><stop offset=".326" stop-color="#3962d9"/><stop offset=".397" stop-color="#0aa5ff"/><stop offset=".417" stop-color="#02b5ff"/><stop offset=".423" stop-color="#0bb9fd"/><stop offset=".450" stop-color="#78c7ee"/><stop offset=".489" stop-color="#bde1f2"/><stop offset=".502" stop-color="#cee8f5"/><stop offset=".508" stop-color="#fff8be"/><stop offset=".560" stop-color="#ffe145"/><stop offset=".593" stop-color="#ffd01f"/><stop offset=".645" stop-color="#ffbd00"/><stop offset=".984" stop-color="#ff6400"/><stop offset=".997" stop-color="#ff6300"/></linearGradient><linearGradient id="c43" x2="0" y2="1"><stop offset=".000" stop-color="#7f21f0"/><stop offset=".098" stop-color="#6918f0"/><stop offset=".156" stop-color="#5d13f0"/><stop offset=".235" stop-color="#711bf0"/><stop offset=".267" stop-color="#6416f0"/><stop offset=".280" stop-color="#5110f1"/><stop offset=".300" stop-color="#0102fe"/><stop offset=".313" stop-color="#2040e8"/><stop offset=".326" stop-color="#3963d9"/><stop offset=".391" stop-color="#0ca0ff"/><stop offset=".417" stop-color="#01b5ff"/><stop offset=".423" stop-color="#0eb9fd"/><stop offset=".443" stop-color="#66c3f0"/><stop offset=".482" stop-color="#b5def0"/><stop offset=".495" stop-color="#c6e5f4"/><stop offset=".502" stop-color="#ffface"/><stop offset=".547" stop-color="#ffe660"/><stop offset=".580" stop-color="#ffd428"/><stop offset=".645" stop-color="#ffbd00"/><stop offset=".977" stop-color="#ff6700"/><stop offset=".997" stop-color="#ff6500"/></linearGradient><linearGradient id="c44" x2="0" y2="1"><stop offset=".000" stop-color="#7f21f0"/><stop offset=".098" stop-color="#6918f0"/><stop offset=".156" stop-color="#5c13f0"/><stop offset=".235" stop-color="#711bf0"/><stop offset=".267" stop-color="#6416f0"/><stop offset=".280" stop-color="#5010f2"/><stop offset=".300" stop-color="#0203fe"/><stop offset=".313" stop-color="#2141e7"/><stop offset=".326" stop-color="#3a63d8"/><stop offset=".391" stop-color="#0ca0ff"/><stop offset=".417" stop-color="#01b5ff"/><stop offset=".423" stop-color="#10bafd"/><stop offset=".443" stop-color="#68c3ef"/><stop offset=".482" stop-color="#b5def1"/><stop offset=".495" stop-color="#c7e5f4"/><stop offset=".502" stop-color="#fffacd"/><stop offset=".547" stop-color="#ffe65f"/><stop offset=".580" stop-color="#ffd428"/><stop offset=".645" stop-color="#ffbc00"/><stop offset=".886" stop-color="#ff7e00"/><stop offset=".997" stop-color="#ff7000"/></linearGradient><linearGradient id="c45" x2="0" y2="1"><stop offset=".000" stop-color="#7f21f0"/><stop offset=".098" stop-color="#6918f0"/><stop offset=".156" stop-color="#5c13f0"/><stop offset=".235" stop-color="#711bf0"/><stop offset=".267" stop-color="#6416f0"/><stop offset=".280" stop-color="#4f10f2"/><stop offset=".300" stop-color="#0205fd"/><stop offset=".313" stop-color="#2242e7"/><stop offset=".326" stop-color="#3a64d8"/><stop offset=".391" stop-color="#0ca0ff"/><stop offset=".417" stop-color="#01b6ff"/><stop offset=".430" stop-color="#2ebdf8"/><stop offset=".443" stop-color="#69c3ef"/><stop offset=".482" stop-color="#b6def1"/><stop offset=".495" stop-color="#c7e5f4"/><stop offset=".502" stop-color="#fffacc"/><stop offset=".547" stop-color="#ffe65e"/><stop offset=".580" stop-color="#ffd428"/><stop offset=".645" stop-color="#ffbc00"/><stop offset=".873" stop-color="#ff8000"/><stop offset=".997" stop-color="#ff7b00"/></linearGradient><linearGradient id="c46" x2="0" y2="1"><stop offset=".000" stop-color="#7f21f0"/><stop offset=".098" stop-color="#6918f0"/><stop offset=".156" stop-color="#5c13f0"/><stop offset=".235" stop-color="#711bf0"/><stop offset=".267" stop-color="#6316f0"/><stop offset=".280" stop-color="#4e10f2"/><stop offset=".300" stop-color="#0306fd"/><stop offset=".313" stop-color="#2343e6"/><stop offset=".326" stop-color="#3a64d8"/><stop offset=".391" stop-color="#0ca1ff"/><stop offset=".417" stop-color="#01b6ff"/><stop offset=".430" stop-color="#30bdf8"/><stop offset=".443" stop-color="#6bc3ef"/><stop offset=".482" stop-color="#b6def1"/><stop offset=".495" stop-color="#c8e6f4"/><stop offset=".502" stop-color="#fffacb"/><stop offset=".547" stop-color="#ffe65d"/><stop offset=".580" stop-color="#ffd428"/><stop offset=".645" stop-color="#ffbc00"/><stop offset=".873" stop-color="#ff8100"/><stop offset=".997" stop-color="#ff8300"/></linearGradient><linearGradient id="c47" x2="0" y2="1"><stop offset=".000" stop-color="#7f21f0"/><stop offset=".098" stop-color="#6818f0"/><stop offset=".156" stop-color="#5c13f0"/><stop offset=".235" stop-color="#711bf0"/><stop offset=".267" stop-color="#6316f0"/><stop offset=".280" stop-color="#4d0ff2"/><stop offset=".300" stop-color="#0408fc"/><stop offset=".313" stop-color="#2344e6"/><stop offset=".326" stop-color="#3a65d9"/><stop offset=".391" stop-color="#0ca1ff"/><stop offset=".417" stop-color="#01b6ff"/><stop offset=".436" stop-color="#4fc0f3"/><stop offset=".450" stop-color="#7cc8ee"/><stop offset=".489" stop-color="#bfe2f2"/><stop offset=".495" stop-color="#c8e6f4"/><stop offset=".502" stop-color="#fffaca"/><stop offset=".547" stop-color="#ffe65d"/><stop offset=".580" stop-color="#ffd427"/><stop offset=".645" stop-color="#ffbc00"/><stop offset=".873" stop-color="#ff8100"/><stop offset=".997" stop-color="#ff8800"/></linearGradient><linearGradient id="c48" x2="0" y2="1"><stop offset=".000" stop-color="#7f21f0"/><stop offset=".098" stop-color="#6818f0"/><stop offset=".156" stop-color="#5c13f0"/><stop offset=".235" stop-color="#711bf0"/><stop offset=".267" stop-color="#6315f0"/><stop offset=".280" stop-color="#4c0ff2"/><stop offset=".293" stop-color="#1404fc"/><stop offset=".300" stop-color="#050afc"/><stop offset=".313" stop-color="#2445e6"/><stop offset=".326" stop-color="#3965d9"/><stop offset=".391" stop-color="#0ba1ff"/><stop offset=".417" stop-color="#01b7ff"/><stop offset=".443" stop-color="#6ec4ee"/><stop offset=".482" stop-color="#b7dff1"/><stop offset=".495" stop-color="#c8e6f4"/><stop offset=".502" stop-color="#fffac9"/><stop offset=".547" stop-color="#ffe65c"/><stop offset=".580" stop-color="#ffd427"/><stop offset=".645" stop-color="#ffbc00"/><stop offset=".866" stop-color="#ff8100"/><stop offset=".997" stop-color="#ff8d00"/></linearGradient><linearGradient id="c49" x2="0" y2="1"><stop offset=".000" stop-color="#7f21f0"/><stop offset=".091" stop-color="#6c19f0"/><stop offset=".150" stop-color="#5a12f0"/><stop offset=".235" stop-color="#711bf0"/><stop offset=".267" stop-color="#6215f0"/><stop offset=".280" stop-color="#4b0ff2"/><stop offset=".293" stop-color="#1204fc"/><stop offset=".300" stop-color="#060bfb"/><stop offset=".313" stop-color="#2546e5"/><stop offset=".326" stop-color="#3965d9"/><stop offset=".391" stop-color="#0ba1ff"/><stop offset=".417" stop-color="#01b7ff"/><stop offset=".443" stop-color="#6fc4ee"/><stop offset=".482" stop-color="#b8dff1"/><stop offset=".495" stop-color="#c9e6f4"/><stop offset=".502" stop-color="#fff9c8"/><stop offset=".547" stop-color="#ffe55b"/><stop offset=".580" stop-color="#ffd327"/><stop offset=".645" stop-color="#ffbc00"/><stop offset=".866" stop-color="#ff8100"/><stop offset=".997" stop-color="#ff8d00"/></linearGradient><linearGradient id="c50" x2="0" y2="1"><stop offset=".000" stop-color="#7f21f0"/><stop offset=".091" stop-color="#6b19f0"/><stop offset=".150" stop-color="#5a12f0"/><stop offset=".235" stop-color="#701bf0"/><stop offset=".267" stop-color="#6215f0"/><stop offset=".280" stop-color="#4a0ff3"/><stop offset=".293" stop-color="#1103fc"/><stop offset=".300" stop-color="#060dfa"/><stop offset=".313" stop-color="#2547e5"/><stop offset=".326" stop-color="#3966d9"/><stop offset=".391" stop-color="#0ba2ff"/><stop offset=".417" stop-color="#00b7ff"/><stop offset=".443" stop-color="#70c4ee"/><stop offset=".482" stop-color="#b8dff1"/><stop offset=".495" stop-color="#c9e6f4"/><stop offset=".502" stop-color="#fff9c7"/><stop offset=".547" stop-color="#ffe55a"/><stop offset=".580" stop-color="#ffd327"/><stop offset=".645" stop-color="#ffbc00"/><stop offset=".866" stop-color="#ff8100"/><stop offset=".997" stop-color="#ff8d00"/></linearGradient><linearGradient id="c51" x2="0" y2="1"><stop offset=".000" stop-color="#7f21f0"/><stop offset=".091" stop-color="#6b19f0"/><stop offset=".150" stop-color="#5a12f0"/><stop offset=".235" stop-color="#701bf0"/><stop offset=".267" stop-color="#6115f0"/><stop offset=".280" stop-color="#480ef3"/><stop offset=".293" stop-color="#0f03fc"/><stop offset=".300" stop-color="#070efa"/><stop offset=".319" stop-color="#345bdc"/><stop offset=".345" stop-color="#2d7bea"/><stop offset=".397" stop-color="#08a7ff"/><stop offset=".417" stop-color="#00b7ff"/><stop offset=".443" stop-color="#71c4ee"/><stop offset=".482" stop-color="#b9dff1"/><stop offset=".495" stop-color="#cae7f4"/><stop offset=".502" stop-color="#fff9c7"/><stop offset=".547" stop-color="#ffe55a"/><stop offset=".580" stop-color="#ffd326"/><stop offset=".638" stop-color="#ffbe00"/><stop offset=".866" stop-color="#ff8100"/><stop offset=".997" stop-color="#ff8d00"/></linearGradient><linearGradient id="c52" x2="0" y2="1"><stop offset=".000" stop-color="#7f21f0"/><stop offset=".091" stop-color="#6b19f0"/><stop offset=".150" stop-color="#5912f0"/><stop offset=".235" stop-color="#701bf0"/><stop offset=".267" stop-color="#6115f0"/><stop offset=".280" stop-color="#470ef3"/><stop offset=".293" stop-color="#0e03fd"/><stop offset=".300" stop-color="#0810f9"/><stop offset=".319" stop-color="#345cdb"/><stop offset=".358" stop-color="#2386f2"/><stop offset=".417" stop-color="#00b8ff"/><stop offset=".443" stop-color="#72c5ee"/><stop offset=".482" stop-color="#b9dff1"/><stop offset=".495" stop-color="#cae7f5"/><stop offset=".502" stop-color="#fff9c6"/><stop offset=".547" stop-color="#ffe559"/><stop offset=".580" stop-color="#ffd326"/><stop offset=".638" stop-color="#ffbe00"/><stop offset=".866" stop-color="#ff8100"/><stop offset=".997" stop-color="#ff8d00"/></linearGradient><linearGradient id="c53" x2="0" y2="1"><stop offset=".000" stop-color="#7f21f0"/><stop offset=".091" stop-color="#6b19f0"/><stop offset=".150" stop-color="#5912f0"/><stop offset=".235" stop-color="#701bf0"/><stop offset=".267" stop-color="#6115f0"/><stop offset=".280" stop-color="#450ef3"/><stop offset=".293" stop-color="#0c02fd"/><stop offset=".300" stop-color="#0912f9"/><stop offset=".319" stop-color="#355ddb"/><stop offset=".371" stop-color="#1891fa"/><stop offset=".417" stop-color="#00b8ff"/><stop offset=".443" stop-color="#73c5ee"/><stop offset=".482" stop-color="#bae0f1"/><stop offset=".495" stop-color="#cbe7f5"/><stop offset=".502" stop-color="#fff9c5"/><stop offset=".554" stop-color="#ffe24a"/><stop offset=".580" stop-color="#ffd326"/><stop offset=".638" stop-color="#ffbe00"/><stop offset=".866" stop-color="#ff8100"/><stop offset=".997" stop-color="#ff8d00"/></linearGradient><linearGradient id="c54" x2="0" y2="1"><stop offset=".000" stop-color="#7f21f0"/><stop offset=".091" stop-color="#6b19f0"/><stop offset=".150" stop-color="#5912f0"/><stop offset=".235" stop-color="#701bf0"/><stop offset=".267" stop-color="#6015f0"/><stop offset=".280" stop-color="#440ef4"/><stop offset=".293" stop-color="#0b02fd"/><stop offset=".300" stop-color="#0a13f8"/><stop offset=".319" stop-color="#365edb"/><stop offset=".391" stop-color="#0ba3ff"/><stop offset=".417" stop-color="#02b8ff"/><stop offset=".443" stop-color="#73c5ee"/><stop offset=".482" stop-color="#bae0f1"/><stop offset=".495" stop-color="#cbe7f5"/><stop offset=".502" stop-color="#fff9c4"/><stop offset=".554" stop-color="#ffe249"/><stop offset=".586" stop-color="#ffd021"/><stop offset=".638" stop-color="#ffbe00"/><stop offset=".866" stop-color="#ff8100"/><stop offset=".997" stop-color="#ff8d00"/></linearGradient><linearGradient id="c55" x2="0" y2="1"><stop offset=".000" stop-color="#7f21f0"/><stop offset=".091" stop-color="#6b19f0"/><stop offset=".150" stop-color="#5912f0"/><stop offset=".235" stop-color="#701bf0"/><stop offset=".267" stop-color="#6014f0"/><stop offset=".280" stop-color="#420df4"/><stop offset=".293" stop-color="#0902fd"/><stop offset=".306" stop-color="#1a33ed"/><stop offset=".319" stop-color="#365fda"/><stop offset=".391" stop-color="#0aa3ff"/><stop offset=".417" stop-color="#03b8fe"/><stop offset=".443" stop-color="#74c5ee"/><stop offset=".482" stop-color="#bbe0f2"/><stop offset=".495" stop-color="#cce7f5"/><stop offset=".502" stop-color="#fff8c3"/><stop offset=".554" stop-color="#ffe249"/><stop offset=".586" stop-color="#ffd021"/><stop offset=".638" stop-color="#ffbd00"/><stop offset=".866" stop-color="#ff8100"/><stop offset=".997" stop-color="#ff8d00"/></linearGradient><linearGradient id="c56" x2="0" y2="1"><stop offset=".000" stop-color="#7f21f0"/><stop offset=".091" stop-color="#6b19f0"/><stop offset=".150" stop-color="#5912f0"/><stop offset=".235" stop-color="#701bf0"/><stop offset=".267" stop-color="#6014f0"/><stop offset=".280" stop-color="#410df4"/><stop offset=".293" stop-color="#0802fe"/><stop offset=".306" stop-color="#1a35ec"/><stop offset=".319" stop-color="#375fda"/><stop offset=".391" stop-color="#0aa3ff"/><stop offset=".417" stop-color="#05b9fe"/><stop offset=".443" stop-color="#75c6ee"/><stop offset=".482" stop-color="#bbe0f2"/><stop offset=".495" stop-color="#cce7f5"/><stop offset=".502" stop-color="#fff8c2"/><stop offset=".554" stop-color="#ffe248"/><stop offset=".586" stop-color="#ffd020"/><stop offset=".638" stop-color="#ffbd00"/><stop offset=".866" stop-color="#ff8100"/><stop offset=".997" stop-color="#ff8d00"/></linearGradient><linearGradient id="c57" x2="0" y2="1"><stop offset=".000" stop-color="#7f21f0"/><stop offset=".091" stop-color="#6b19f0"/><stop offset=".150" stop-color="#5912f0"/><stop offset=".235" stop-color="#701bf0"/><stop offset=".267" stop-color="#5f14f0"/><stop offset=".280" stop-color="#3f0df4"/><stop offset=".293" stop-color="#0601fe"/><stop offset=".319" stop-color="#3760da"/><stop offset=".391" stop-color="#0aa4ff"/><stop offset=".417" stop-color="#07b9fe"/><stop offset=".443" stop-color="#75c6ee"/><stop offset=".482" stop-color="#bbe0f2"/><stop offset=".495" stop-color="#cde8f5"/><stop offset=".502" stop-color="#fff8c1"/><stop offset=".554" stop-color="#ffe147"/><stop offset=".586" stop-color="#ffd020"/><stop offset=".638" stop-color="#ffbd00"/><stop offset=".866" stop-color="#ff8100"/><stop offset=".997" stop-color="#ff8d00"/></linearGradient><linearGradient id="c58" x2="0" y2="1"><stop offset=".000" stop-color="#7f21f0"/><stop offset=".091" stop-color="#6b19f0"/><stop offset=".150" stop-color="#5912f0"/><stop offset=".235" stop-color="#701bf0"/><stop offset=".267" stop-color="#5f14f0"/><stop offset=".280" stop-color="#3e0cf5"/><stop offset=".293" stop-color="#0501fe"/><stop offset=".313" stop-color="#2b4fe1"/><stop offset=".326" stop-color="#3769dc"/><stop offset=".391" stop-color="#0aa4ff"/><stop offset=".417" stop-color="#08b9fe"/><stop offset=".443" stop-color="#76c6ee"/><stop offset=".482" stop-color="#bce1f2"/><stop offset=".495" stop-color="#cde8f5"/><stop offset=".502" stop-color="#fff8c0"/><stop offset=".554" stop-color="#ffe147"/><stop offset=".586" stop-color="#ffd020"/><stop offset=".638" stop-color="#ffbd00"/><stop offset=".866" stop-color="#ff8100"/><stop offset=".997" stop-color="#ff8d00"/></linearGradient><linearGradient id="c59" x2="0" y2="1"><stop offset=".000" stop-color="#7f21f0"/><stop offset=".091" stop-color="#6b19f0"/><stop offset=".150" stop-color="#5912f0"/><stop offset=".235" stop-color="#701bf0"/><stop offset=".267" stop-color="#5e14f0"/><stop offset=".280" stop-color="#3c0cf5"/><stop offset=".293" stop-color="#0301fe"/><stop offset=".313" stop-color="#2c50e1"/><stop offset=".326" stop-color="#3769dc"/><stop offset=".391" stop-color="#0aa4ff"/><stop offset=".410" stop-color="#02b4ff"/><stop offset=".417" stop-color="#0ab9fe"/><stop offset=".443" stop-color="#77c6ee"/><stop offset=".482" stop-color="#bce1f2"/><stop offset=".495" stop-color="#cee8f5"/><stop offset=".502" stop-color="#fff8bf"/><stop offset=".554" stop-color="#ffe146"/><stop offset=".586" stop-color="#ffd020"/><stop offset=".638" stop-color="#ffbd00"/><stop offset=".866" stop-color="#ff8000"/><stop offset=".997" stop-color="#ff8a00"/></linearGradient><linearGradient id="c60" x2="0" y2="1"><stop offset=".000" stop-color="#7f21f0"/><stop offset=".091" stop-color="#6b19f0"/><stop offset=".150" stop-color="#5912f0"/><stop offset=".235" stop-color="#701bf0"/><stop offset=".267" stop-color="#5e14f0"/><stop offset=".280" stop-color="#3b0cf5"/><stop offset=".293" stop-color="#0100ff"/><stop offset=".313" stop-color="#2d51e0"/><stop offset=".326" stop-color="#376adc"/><stop offset=".391" stop-color="#0aa5ff"/><stop offset=".410" stop-color="#02b5ff"/><stop offset=".417" stop-color="#0bb9fd"/><stop offset=".443" stop-color="#78c7ee"/><stop offset=".482" stop-color="#bde1f2"/><stop offset=".495" stop-color="#cee8f5"/><stop offset=".502" stop-color="#fff8be"/><stop offset=".554" stop-color="#ffe145"/><stop offset=".586" stop-color="#ffd01f"/><stop offset=".638" stop-color="#ffbd00"/><stop offset=".866" stop-color="#ff8000"/><stop offset=".997" stop-color="#ff8800"/></linearGradient><linearGradient id="c61" x2="0" y2="1"><stop offset=".000" stop-color="#7f21f0"/><stop offset=".091" stop-color="#6b19f0"/><stop offset=".150" stop-color="#5a12f0"/><stop offset=".235" stop-color="#6f1bf0"/><stop offset=".267" stop-color="#5e13f0"/><stop offset=".280" stop-color="#390bf5"/><stop offset=".293" stop-color="#0000ff"/><stop offset=".306" stop-color="#203fe8"/><stop offset=".319" stop-color="#3962d9"/><stop offset=".384" stop-color="#0c9fff"/><stop offset=".410" stop-color="#02b5ff"/><stop offset=".417" stop-color="#0db9fd"/><stop offset=".436" stop-color="#65c3f0"/><stop offset=".476" stop-color="#b5ddf0"/><stop offset=".495" stop-color="#cee8f5"/><stop offset=".502" stop-color="#fff7bd"/><stop offset=".554" stop-color="#ffe144"/><stop offset=".593" stop-color="#ffcd1a"/><stop offset=".638" stop-color="#ffbd00"/><stop offset=".866" stop-color="#ff8000"/><stop offset=".997" stop-color="#ff8500"/></linearGradient><linearGradient id="c62" x2="0" y2="1"><stop offset=".000" stop-color="#7f21f0"/><stop offset=".098" stop-color="#6818f0"/><stop offset=".156" stop-color="#5b13f0"/><stop offset=".235" stop-color="#6f1bf0"/><stop offset=".267" stop-color="#5d13f0"/><stop offset=".280" stop-color="#380bf6"/><stop offset=".293" stop-color="#0102fe"/><stop offset=".306" stop-color="#2141e8"/><stop offset=".319" stop-color="#3963d8"/><stop offset=".384" stop-color="#0ca0ff"/><stop offset=".410" stop-color="#01b5ff"/><stop offset=".417" stop-color="#0fbafd"/><stop offset=".436" stop-color="#67c3ef"/><stop offset=".476" stop-color="#b5def1"/><stop offset=".489" stop-color="#c7e5f4"/><stop offset=".495" stop-color="#fffacd"/><stop offset=".541" stop-color="#ffe65f"/><stop offset=".573" stop-color="#ffd428"/><stop offset=".638" stop-color="#ffbc00"/><stop offset=".866" stop-color="#ff8000"/><stop offset=".997" stop-color="#ff8300"/></linearGradient><linearGradient id="c63" x2="0" y2="1"><stop offset=".000" stop-color="#7f21f0"/><stop offset=".098" stop-color="#6818f0"/><stop offset=".156" stop-color="#5b13f0"/><stop offset=".235" stop-color="#6f1bf0"/><stop offset=".267" stop-color="#5d13f0"/><stop offset=".280" stop-color="#360bf6"/><stop offset=".293" stop-color="#0204fe"/><stop offset=".306" stop-color="#2142e7"/><stop offset=".319" stop-color="#3a64d8"/><stop offset=".384" stop-color="#0ca0ff"/><stop offset=".410" stop-color="#01b6ff"/><stop offset=".423" stop-color="#30bdf8"/><stop offset=".436" stop-color="#6bc3ef"/><stop offset=".476" stop-color="#b7def1"/><stop offset=".489" stop-color="#c8e6f4"/><stop offset=".495" stop-color="#fffacb"/><stop offset=".541" stop-color="#ffe65d"/><stop offset=".573" stop-color="#ffd427"/><stop offset=".638" stop-color="#ffbc00"/><stop offset=".866" stop-color="#ff8000"/><stop offset=".997" stop-color="#ff8200"/></linearGradient><linearGradient id="c64" x2="0" y2="1"><stop offset=".000" stop-color="#7f21f0"/><stop offset=".098" stop-color="#6818f0"/><stop offset=".156" stop-color="#5c13f0"/><stop offset=".228" stop-color="#701bf0"/><stop offset=".261" stop-color="#6316f0"/><stop offset=".274" stop-color="#4f10f2"/><stop offset=".293" stop-color="#0305fd"/><stop offset=".306" stop-color="#2243e7"/><stop offset=".319" stop-color="#3a64d8"/><stop offset=".384" stop-color="#0ca1ff"/><stop offset=".410" stop-color="#01b7ff"/><stop offset=".436" stop-color="#6ec4ee"/><stop offset=".476" stop-color="#b8dff1"/><stop offset=".489" stop-color="#c9e6f4"/><stop offset=".495" stop-color="#fff9c8"/><stop offset=".541" stop-color="#ffe55b"/><stop offset=".573" stop-color="#ffd327"/><stop offset=".638" stop-color="#ffbc00"/><stop offset=".866" stop-color="#ff8000"/><stop offset=".997" stop-color="#ff8800"/></linearGradient><linearGradient id="c65" x2="0" y2="1"><stop offset=".000" stop-color="#7f21f0"/><stop offset=".098" stop-color="#6818f0"/><stop offset=".156" stop-color="#5c13f0"/><stop offset=".228" stop-color="#701bf0"/><stop offset=".261" stop-color="#6316f0"/><stop offset=".274" stop-color="#4e10f2"/><stop offset=".293" stop-color="#0307fd"/><stop offset=".306" stop-color="#2344e6"/><stop offset=".319" stop-color="#3a65d9"/><stop offset=".384" stop-color="#0ba1ff"/><stop offset=".410" stop-color="#00b7ff"/><stop offset=".436" stop-color="#71c4ee"/><stop offset=".476" stop-color="#b9dff1"/><stop offset=".489" stop-color="#cae7f5"/><stop offset=".495" stop-color="#fff9c6"/><stop offset=".541" stop-color="#ffe559"/><stop offset=".573" stop-color="#ffd326"/><stop offset=".632" stop-color="#ffbe00"/><stop offset=".866" stop-color="#ff8000"/><stop offset=".997" stop-color="#ff8e00"/></linearGradient><linearGradient id="c66" x2="0" y2="1"><stop offset=".000" stop-color="#7f21f0"/><stop offset=".098" stop-color="#6918f0"/><stop offset=".156" stop-color="#5c13f0"/><stop offset=".228" stop-color="#701bf0"/><stop offset=".261" stop-color="#6315f0"/><stop offset=".274" stop-color="#4d0ff2"/><stop offset=".287" stop-color="#1504fb"/><stop offset=".293" stop-color="#0409fc"/><stop offset=".306" stop-color="#2445e6"/><stop offset=".319" stop-color="#3965d9"/><stop offset=".384" stop-color="#0ba2ff"/><stop offset=".410" stop-color="#00b8ff"/><stop offset=".436" stop-color="#72c5ee"/><stop offset=".476" stop-color="#bae0f1"/><stop offset=".489" stop-color="#cbe7f5"/><stop offset=".495" stop-color="#fff9c3"/><stop offset=".547" stop-color="#ffe249"/><stop offset=".580" stop-color="#ffd021"/><stop offset=".632" stop-color="#ffbd00"/><stop offset=".860" stop-color="#ff8000"/><stop offset=".977" stop-color="#ff9500"/><stop offset=".997" stop-color="#ff9500"/></linearGradient><linearGradient id="c67" x2="0" y2="1"><stop offset=".000" stop-color="#7f21f0"/><stop offset=".098" stop-color="#6918f0"/><stop offset=".156" stop-color="#5c13f0"/><stop offset=".228" stop-color="#701bf0"/><stop offset=".261" stop-color="#6215f0"/><stop offset=".274" stop-color="#4c0ff2"/><stop offset=".287" stop-color="#1404fc"/><stop offset=".293" stop-color="#050afb"/><stop offset=".306" stop-color="#2546e5"/><stop offset=".319" stop-color="#3966d9"/><stop offset=".384" stop-color="#0ba2ff"/><stop offset=".410" stop-color="#01b8ff"/><stop offset=".436" stop-color="#74c5ee"/><stop offset=".476" stop-color="#bbe0f2"/><stop offset=".489" stop-color="#cde8f5"/><stop offset=".495" stop-color="#fff8c0"/><stop offset=".547" stop-color="#ffe147"/><stop offset=".580" stop-color="#ffd020"/><stop offset=".632" stop-color="#ffbd00"/><stop offset=".860" stop-color="#ff8000"/><stop offset=".964" stop-color="#ff9c00"/><stop offset=".997" stop-color="#ff9b00"/></linearGradient><linearGradient id="c68" x2="0" y2="1"><stop offset=".000" stop-color="#7f21f0"/><stop offset=".098" stop-color="#6918f0"/><stop offset=".156" stop-color="#5c13f0"/><stop offset=".228" stop-color="#701bf0"/><stop offset=".261" stop-color="#6215f0"/><stop offset=".274" stop-color="#4b0ff2"/><stop offset=".287" stop-color="#1204fc"/><stop offset=".293" stop-color="#060cfb"/><stop offset=".306" stop-color="#2548e5"/><stop offset=".319" stop-color="#3966da"/><stop offset=".384" stop-color="#0ba3ff"/><stop offset=".410" stop-color="#05b8fe"/><stop offset=".436" stop-color="#76c6ee"/><stop offset=".476" stop-color="#bce1f2"/><stop offset=".489" stop-color="#cee8f5"/><stop offset=".495" stop-color="#fff8be"/><stop offset=".547" stop-color="#ffe145"/><stop offset=".580" stop-color="#ffd01f"/><stop offset=".632" stop-color="#ffbd00"/><stop offset=".860" stop-color="#ff7f00"/><stop offset=".964" stop-color="#ffa200"/><stop offset=".997" stop-color="#ffa100"/></linearGradient><linearGradient id="c69" x2="0" y2="1"><stop offset=".000" stop-color="#7f21f0"/><stop offset=".098" stop-color="#6918f0"/><stop offset=".156" stop-color="#5d13f0"/><stop offset=".228" stop-color="#701bf0"/><stop offset=".261" stop-color="#6215f0"/><stop offset=".274" stop-color="#4a0ff3"/><stop offset=".287" stop-color="#1103fc"/><stop offset=".293" stop-color="#060dfa"/><stop offset=".306" stop-color="#2648e4"/><stop offset=".319" stop-color="#3966da"/><stop offset=".384" stop-color="#0aa3ff"/><stop offset=".410" stop-color="#07b9fe"/><stop offset=".436" stop-color="#77c7ee"/><stop offset=".476" stop-color="#bee1f2"/><stop offset=".482" stop-color="#c6e5f4"/><stop offset=".489" stop-color="#fffacd"/><stop offset=".534" stop-color="#ffe65f"/><stop offset=".567" stop-color="#ffd428"/><stop offset=".632" stop-color="#ffbc00"/><stop offset=".860" stop-color="#ff7d00"/><stop offset=".958" stop-color="#ffa700"/><stop offset=".997" stop-color="#ffa600"/></linearGradient><linearGradient id="c70" x2="0" y2="1"><stop offset=".000" stop-color="#7f21f0"/><stop offset=".098" stop-color="#6918f0"/><stop offset=".156" stop-color="#5d13f0"/><stop offset=".228" stop-color="#701bf0"/><stop offset=".261" stop-color="#6215f0"/><stop offset=".274" stop-color="#4a0ff3"/><stop offset=".287" stop-color="#1103fc"/><stop offset=".293" stop-color="#070dfa"/><stop offset=".313" stop-color="#345cdc"/><stop offset=".345" stop-color="#2882ef"/><stop offset=".391" stop-color="#07a9ff"/><stop offset=".404" stop-color="#02b4ff"/><stop offset=".410" stop-color="#0ab9fd"/><stop offset=".430" stop-color="#65c3f0"/><stop offset=".463" stop-color="#addaef"/><stop offset=".482" stop-color="#c8e6f4"/><stop offset=".489" stop-color="#fffacb"/><stop offset=".534" stop-color="#ffe65d"/><stop offset=".567" stop-color="#ffd427"/><stop offset=".632" stop-color="#ffbc00"/><stop offset=".860" stop-color="#ff7a00"/><stop offset=".958" stop-color="#ffa900"/><stop offset=".997" stop-color="#ffa800"/></linearGradient><linearGradient id="c71" x2="0" y2="1"><stop offset=".000" stop-color="#7f21f0"/><stop offset=".098" stop-color="#6918f0"/><stop offset=".156" stop-color="#5d13f0"/><stop offset=".235" stop-color="#6f1af0"/><stop offset=".267" stop-color="#5a12f0"/><stop offset=".280" stop-color="#2d09f8"/><stop offset=".287" stop-color="#1003fc"/><stop offset=".293" stop-color="#070efa"/><stop offset=".313" stop-color="#355ddb"/><stop offset=".352" stop-color="#2287f3"/><stop offset=".397" stop-color="#04afff"/><stop offset=".410" stop-color="#0bb9fd"/><stop offset=".430" stop-color="#66c3f0"/><stop offset=".463" stop-color="#aedaef"/><stop offset=".482" stop-color="#c8e6f4"/><stop offset=".489" stop-color="#fffaca"/><stop offset=".534" stop-color="#ffe65c"/><stop offset=".567" stop-color="#ffd427"/><stop offset=".632" stop-color="#ffbc00"/><stop offset=".860" stop-color="#ff7700"/><stop offset=".958" stop-color="#ffa300"/><stop offset=".997" stop-color="#ffa200"/></linearGradient><linearGradient id="c72" x2="0" y2="1"><stop offset=".000" stop-color="#7f21f0"/><stop offset=".098" stop-color="#6918f0"/><stop offset=".156" stop-color="#5d13f0"/><stop offset=".235" stop-color="#6f1af0"/><stop offset=".267" stop-color="#5a12f0"/><stop offset=".280" stop-color="#2c09f8"/><stop offset=".287" stop-color="#0f03fc"/><stop offset=".293" stop-color="#070ffa"/><stop offset=".313" stop-color="#355ddb"/><stop offset=".358" stop-color="#1c8df7"/><stop offset=".404" stop-color="#02b5ff"/><stop offset=".410" stop-color="#0cb9fd"/><stop offset=".430" stop-color="#66c3ef"/><stop offset=".463" stop-color="#aedaef"/><stop offset=".482" stop-color="#c8e6f4"/><stop offset=".489" stop-color="#fffaca"/><stop offset=".534" stop-color="#ffe65c"/><stop offset=".567" stop-color="#ffd427"/><stop offset=".632" stop-color="#ffbc00"/><stop offset=".860" stop-color="#ff7400"/><stop offset=".958" stop-color="#ff9d00"/><stop offset=".997" stop-color="#ff9c00"/></linearGradient><linearGradient id="c73" x2="0" y2="1"><stop offset=".000" stop-color="#7f21f0"/><stop offset=".098" stop-color="#6a18f0"/><stop offset=".156" stop-color="#5e13f0"/><stop offset=".235" stop-color="#6f1af0"/><stop offset=".267" stop-color="#5a12f0"/><stop offset=".287" stop-color="#0f03fd"/><stop offset=".293" stop-color="#080ff9"/><stop offset=".313" stop-color="#355ddb"/><stop offset=".365" stop-color="#1692fb"/><stop offset=".404" stop-color="#02b5ff"/><stop offset=".410" stop-color="#0cb9fd"/><stop offset=".430" stop-color="#66c3ef"/><stop offset=".463" stop-color="#aedaef"/><stop offset=".482" stop-color="#c8e6f4"/><stop offset=".489" stop-color="#fffaca"/><stop offset=".534" stop-color="#ffe65c"/><stop offset=".567" stop-color="#ffd427"/><stop offset=".632" stop-color="#ffbc00"/><stop offset=".860" stop-color="#ff7000"/><stop offset=".958" stop-color="#ff9700"/><stop offset=".997" stop-color="#ff9600"/></linearGradient><linearGradient id="c74" x2="0" y2="1"><stop offset=".000" stop-color="#7f21f0"/><stop offset=".098" stop-color="#6a18f0"/><stop offset=".156" stop-color="#5e14f0"/><stop offset=".235" stop-color="#6f1af0"/><stop offset=".267" stop-color="#5a12f0"/><stop offset=".287" stop-color="#0e03fd"/><stop offset=".293" stop-color="#0810f9"/><stop offset=".313" stop-color="#365edb"/><stop offset=".365" stop-color="#1692fb"/><stop offset=".404" stop-color="#02b5ff"/><stop offset=".410" stop-color="#0cb9fd"/><stop offset=".430" stop-color="#67c3ef"/><stop offset=".463" stop-color="#aedaef"/><stop offset=".482" stop-color="#c8e6f4"/><stop offset=".489" stop-color="#fffaca"/><stop offset=".534" stop-color="#ffe65c"/><stop offset=".567" stop-color="#ffd427"/><stop offset=".632" stop-color="#ffbc00"/><stop offset=".860" stop-color="#ff6d00"/><stop offset=".958" stop-color="#ff9100"/><stop offset=".997" stop-color="#ff9100"/></linearGradient><linearGradient id="c75" x2="0" y2="1"><stop offset=".000" stop-color="#7f21f0"/><stop offset=".098" stop-color="#6a18f0"/><stop offset=".156" stop-color="#5e14f0"/><stop offset=".235" stop-color="#6f1af0"/><stop offset=".267" stop-color="#5a12f0"/><stop offset=".287" stop-color="#0d03fd"/><stop offset=".293" stop-color="#0811f9"/><stop offset=".313" stop-color="#365edb"/><stop offset=".365" stop-color="#1692fb"/><stop offset=".404" stop-color="#02b5ff"/><stop offset=".410" stop-color="#0db9fd"/><stop offset=".430" stop-color="#67c3ef"/><stop offset=".463" stop-color="#aedaef"/><stop offset=".482" stop-color="#c8e6f4"/><stop offset=".489" stop-color="#fffaca"/><stop offset=".534" stop-color="#ffe65c"/><stop offset=".567" stop-color="#ffd427"/><stop offset=".632" stop-color="#ffbc00"/><stop offset=".860" stop-color="#ff6a00"/><stop offset=".958" stop-color="#ff8c00"/><stop offset=".997" stop-color="#ff8b00"/></linearGradient><linearGradient id="c76" x2="0" y2="1"><stop offset=".000" stop-color="#7f21f0"/><stop offset=".098" stop-color="#6a19f0"/><stop offset=".156" stop-color="#5f14f0"/><stop offset=".235" stop-color="#6f1af0"/><stop offset=".267" stop-color="#5912f0"/><stop offset=".287" stop-color="#0d03fd"/><stop offset=".293" stop-color="#0912f9"/><stop offset=".313" stop-color="#365edb"/><stop offset=".384" stop-color="#0aa4ff"/><stop offset=".404" stop-color="#02b5ff"/><stop offset=".410" stop-color="#0db9fd"/><stop offset=".430" stop-color="#67c3ef"/><stop offset=".463" stop-color="#aedaef"/><stop offset=".482" stop-color="#c8e6f4"/><stop offset=".489" stop-color="#fffaca"/><stop offset=".534" stop-color="#ffe65c"/><stop offset=".567" stop-color="#ffd427"/><stop offset=".632" stop-color="#ffbc00"/><stop offset=".860" stop-color="#ff6800"/><stop offset=".958" stop-color="#ff8600"/><stop offset=".997" stop-color="#ff8500"/></linearGradient><linearGradient id="c77" x2="0" y2="1"><stop offset=".000" stop-color="#7f21f0"/><stop offset=".104" stop-color="#6817f0"/><stop offset=".163" stop-color="#6115f0"/><stop offset=".235" stop-color="#6f1af0"/><stop offset=".267" stop-color="#5912f0"/><stop offset=".287" stop-color="#0c02fd"/><stop offset=".293" stop-color="#0912f8"/><stop offset=".313" stop-color="#365fda"/><stop offset=".384" stop-color="#0aa4ff"/><stop offset=".404" stop-color="#02b5ff"/><stop offset=".410" stop-color="#0db9fd"/><stop offset=".430" stop-color="#67c3ef"/><stop offset=".463" stop-color="#aedaef"/><stop offset=".482" stop-color="#c8e6f4"/><stop offset=".489" stop-color="#fffaca"/><stop offset=".534" stop-color="#ffe65c"/><stop offset=".567" stop-color="#ffd427"/><stop offset=".632" stop-color="#ffbc00"/><stop offset=".860" stop-color="#ff6700"/><stop offset=".971" stop-color="#ff7c00"/><stop offset=".997" stop-color="#ff7c00"/></linearGradient><linearGradient id="c78" x2="0" y2="1"><stop offset=".000" stop-color="#7f21f0"/><stop offset=".104" stop-color="#6818f0"/><stop offset=".163" stop-color="#6115f0"/><stop offset=".235" stop-color="#6f1af0"/><stop offset=".267" stop-color="#5812f0"/><stop offset=".287" stop-color="#0b02fd"/><stop offset=".293" stop-color="#0a13f8"/><stop offset=".313" stop-color="#365fda"/><stop offset=".384" stop-color="#0aa4ff"/><stop offset=".404" stop-color="#02b5ff"/><stop offset=".410" stop-color="#0db9fd"/><stop offset=".430" stop-color="#67c3ef"/><stop offset=".463" stop-color="#aedaef"/><stop offset=".482" stop-color="#c8e6f4"/><stop offset=".489" stop-color="#fffaca"/><stop offset=".534" stop-color="#ffe65c"/><stop offset=".567" stop-color="#ffd427"/><stop offset=".632" stop-color="#ffbc00"/><stop offset=".860" stop-color="#ff6600"/><stop offset=".997" stop-color="#ff6c00"/></linearGradient><linearGradient id="c79" x2="0" y2="1"><stop offset=".000" stop-color="#7f21f0"/><stop offset=".104" stop-color="#6818f0"/><stop offset=".163" stop-color="#6115f0"/><stop offset=".235" stop-color="#6f1af0"/><stop offset=".267" stop-color="#5812f0"/><stop offset=".287" stop-color="#0b02fd"/><stop offset=".293" stop-color="#0a14f8"/><stop offset=".313" stop-color="#365fda"/><stop offset=".384" stop-color="#0aa5ff"/><stop offset=".404" stop-color="#01b5ff"/><stop offset=".410" stop-color="#0eb9fd"/><stop offset=".430" stop-color="#68c3ef"/><stop offset=".463" stop-color="#aedaef"/><stop offset=".482" stop-color="#c8e6f4"/><stop offset=".489" stop-color="#fffaca"/><stop offset=".534" stop-color="#ffe65c"/><stop offset=".567" stop-color="#ffd427"/><stop offset=".632" stop-color="#ffbc00"/><stop offset=".866" stop-color="#ff6500"/><stop offset=".997" stop-color="#ff5b00"/></linearGradient><linearGradient id="c80" x2="0" y2="1"><stop offset=".000" stop-color="#7f21f0"/><stop offset=".104" stop-color="#6818f0"/><stop offset=".163" stop-color="#6215f0"/><stop offset=".235" stop-color="#6f1af0"/><stop offset=".261" stop-color="#6014f0"/><stop offset=".274" stop-color="#430df4"/><stop offset=".287" stop-color="#0a02fd"/><stop offset=".293" stop-color="#0a14f8"/><stop offset=".313" stop-color="#375fda"/><stop offset=".384" stop-color="#0aa5ff"/><stop offset=".404" stop-color="#01b5ff"/><stop offset=".410" stop-color="#0eb9fd"/><stop offset=".430" stop-color="#68c3ef"/><stop offset=".463" stop-color="#aedaef"/><stop offset=".482" stop-color="#c8e6f4"/><stop offset=".489" stop-color="#fffaca"/><stop offset=".534" stop-color="#ffe65c"/><stop offset=".567" stop-color="#ffd427"/><stop offset=".632" stop-color="#ffbc00"/><stop offset=".958" stop-color="#ff4600"/><stop offset=".997" stop-color="#ff4800"/></linearGradient><linearGradient id="c81" x2="0" y2="1"><stop offset=".000" stop-color="#7f21f0"/><stop offset=".104" stop-color="#6918f0"/><stop offset=".163" stop-color="#6215f0"/><stop offset=".235" stop-color="#6f1af0"/><stop offset=".261" stop-color="#6014f0"/><stop offset=".274" stop-color="#420df4"/><stop offset=".287" stop-color="#0902fd"/><stop offset=".293" stop-color="#0b15f7"/><stop offset=".313" stop-color="#375fda"/><stop offset=".384" stop-color="#0aa5ff"/><stop offset=".404" stop-color="#01b5ff"/><stop offset=".410" stop-color="#0ebafd"/><stop offset=".430" stop-color="#68c3ef"/><stop offset=".463" stop-color="#aedbef"/><stop offset=".482" stop-color="#c8e6f4"/><stop offset=".489" stop-color="#fffaca"/><stop offset=".534" stop-color="#ffe65c"/><stop offset=".567" stop-color="#ffd427"/><stop offset=".632" stop-color="#ffbc00"/><stop offset=".919" stop-color="#ff4b00"/><stop offset=".977" stop-color="#ff3700"/><stop offset=".997" stop-color="#ff3c00"/></linearGradient><linearGradient id="c82" x2="0" y2="1"><stop offset=".000" stop-color="#7f21f0"/><stop offset=".104" stop-color="#6918f0"/><stop offset=".163" stop-color="#6315f0"/><stop offset=".235" stop-color="#6f1af0"/><stop offset=".261" stop-color="#6014f0"/><stop offset=".274" stop-color="#420df4"/><stop offset=".287" stop-color="#0902fe"/><stop offset=".300" stop-color="#1a35ec"/><stop offset=".313" stop-color="#3760da"/><stop offset=".384" stop-color="#0aa5ff"/><stop offset=".404" stop-color="#01b5ff"/><stop offset=".410" stop-color="#0ebafd"/><stop offset=".430" stop-color="#68c3ef"/><stop offset=".463" stop-color="#aedbef"/><stop offset=".482" stop-color="#c8e6f4"/><stop offset=".489" stop-color="#fffaca"/><stop offset=".534" stop-color="#ffe65c"/><stop offset=".567" stop-color="#ffd427"/><stop offset=".632" stop-color="#ffbc00"/><stop offset=".912" stop-color="#ff4e00"/><stop offset=".971" stop-color="#ff3300"/><stop offset=".997" stop-color="#ff3a00"/></linearGradient><linearGradient id="c83" x2="0" y2="1"><stop offset=".000" stop-color="#7f21f0"/><stop offset=".104" stop-color="#6918f0"/><stop offset=".169" stop-color="#6516f0"/><stop offset=".235" stop-color="#6f1af0"/><stop offset=".261" stop-color="#6014f0"/><stop offset=".274" stop-color="#410df4"/><stop offset=".287" stop-color="#0802fe"/><stop offset=".300" stop-color="#1b36ec"/><stop offset=".313" stop-color="#3760da"/><stop offset=".384" stop-color="#0aa5ff"/><stop offset=".404" stop-color="#01b5ff"/><stop offset=".410" stop-color="#0fbafd"/><stop offset=".430" stop-color="#68c3ef"/><stop offset=".463" stop-color="#aedbef"/><stop offset=".482" stop-color="#c8e6f4"/><stop offset=".489" stop-color="#fffaca"/><stop offset=".534" stop-color="#ffe65c"/><stop offset=".567" stop-color="#ffd427"/><stop offset=".632" stop-color="#ffbc00"/><stop offset=".912" stop-color="#ff5000"/><stop offset=".977" stop-color="#ff3800"/><stop offset=".997" stop-color="#ff3d00"/></linearGradient><linearGradient id="c84" x2="0" y2="1"><stop offset=".000" stop-color="#7f21f0"/><stop offset=".111" stop-color="#6717f0"/><stop offset=".176" stop-color="#6717f0"/><stop offset=".241" stop-color="#6e1af0"/><stop offset=".267" stop-color="#5611f1"/><stop offset=".287" stop-color="#0701fe"/><stop offset=".300" stop-color="#1b36eb"/><stop offset=".313" stop-color="#3760da"/><stop offset=".384" stop-color="#0aa5ff"/><stop offset=".404" stop-color="#01b5ff"/><stop offset=".410" stop-color="#0fbafd"/><stop offset=".430" stop-color="#69c3ef"/><stop offset=".463" stop-color="#aedbef"/><stop offset=".482" stop-color="#c8e6f4"/><stop offset=".489" stop-color="#fffaca"/><stop offset=".534" stop-color="#ffe65c"/><stop offset=".567" stop-color="#ffd427"/><stop offset=".632" stop-color="#ffbc00"/><stop offset=".977" stop-color="#ff4100"/><stop offset=".997" stop-color="#ff4500"/></linearGradient><linearGradient id="c85" x2="0" y2="1"><stop offset=".000" stop-color="#7f21f0"/><stop offset=".111" stop-color="#6717f0"/><stop offset=".176" stop-color="#6817f0"/><stop offset=".241" stop-color="#6e1af0"/><stop offset=".267" stop-color="#5611f1"/><stop offset=".287" stop-color="#0701fe"/><stop offset=".313" stop-color="#3760da"/><stop offset=".384" stop-color="#0aa5ff"/><stop offset=".404" stop-color="#01b5ff"/><stop offset=".410" stop-color="#0fbafd"/><stop offset=".430" stop-color="#69c3ef"/><stop offset=".469" stop-color="#b7def1"/><stop offset=".482" stop-color="#c8e6f4"/><stop offset=".489" stop-color="#fffaca"/><stop offset=".534" stop-color="#ffe65c"/><stop offset=".567" stop-color="#ffd427"/><stop offset=".632" stop-color="#ffbc00"/><stop offset=".971" stop-color="#ff4b00"/><stop offset=".997" stop-color="#ff4d00"/></linearGradient><linearGradient id="c86" x2="0" y2="1"><stop offset=".000" stop-color="#7f21f0"/><stop offset=".111" stop-color="#6818f0"/><stop offset=".176" stop-color="#6818f0"/><stop offset=".248" stop-color="#6c19f0"/><stop offset=".267" stop-color="#5511f1"/><stop offset=".287" stop-color="#0601fe"/><stop offset=".306" stop-color="#2b4fe1"/><stop offset=".319" stop-color="#3769dc"/><stop offset=".378" stop-color="#0ca0ff"/><stop offset=".404" stop-color="#01b5ff"/><stop offset=".410" stop-color="#10bafd"/><stop offset=".430" stop-color="#69c3ef"/><stop offset=".469" stop-color="#b7def1"/><stop offset=".482" stop-color="#c8e6f4"/><stop offset=".489" stop-color="#fffaca"/><stop offset=".534" stop-color="#ffe65c"/><stop offset=".567" stop-color="#ffd327"/><stop offset=".632" stop-color="#ffbb00"/><stop offset=".899" stop-color="#ff6100"/><stop offset=".997" stop-color="#ff5300"/></linearGradient><linearGradient id="c87" x2="0" y2="1"><stop offset=".000" stop-color="#7f21f0"/><stop offset=".117" stop-color="#6617f0"/><stop offset=".189" stop-color="#6c19f0"/><stop offset=".248" stop-color="#6c19f0"/><stop offset=".267" stop-color="#5511f1"/><stop offset=".287" stop-color="#0501fe"/><stop offset=".306" stop-color="#2b50e1"/><stop offset=".319" stop-color="#3769dc"/><stop offset=".378" stop-color="#0ca0ff"/><stop offset=".404" stop-color="#01b5ff"/><stop offset=".410" stop-color="#10bafd"/><stop offset=".430" stop-color="#69c3ef"/><stop offset=".469" stop-color="#b7def1"/><stop offset=".482" stop-color="#c8e6f4"/><stop offset=".489" stop-color="#fffaca"/><stop offset=".534" stop-color="#ffe65c"/><stop offset=".567" stop-color="#ffd327"/><stop offset=".625" stop-color="#ffbd00"/><stop offset=".873" stop-color="#ff6400"/><stop offset=".997" stop-color="#ff5800"/></linearGradient><linearGradient id="c88" x2="0" y2="1"><stop offset=".000" stop-color="#7f21f0"/><stop offset=".117" stop-color="#6617f0"/><stop offset=".189" stop-color="#6d19f0"/><stop offset=".248" stop-color="#6c19f0"/><stop offset=".267" stop-color="#5411f1"/><stop offset=".287" stop-color="#0501fe"/><stop offset=".306" stop-color="#2c50e1"/><stop offset=".319" stop-color="#3769dc"/><stop offset=".378" stop-color="#0ca0ff"/><stop offset=".404" stop-color="#01b5ff"/><stop offset=".410" stop-color="#10bafd"/><stop offset=".430" stop-color="#69c3ef"/><stop offset=".469" stop-color="#b7def1"/><stop offset=".482" stop-color="#c8e6f4"/><stop offset=".489" stop-color="#fffaca"/><stop offset=".534" stop-color="#ffe65c"/><stop offset=".567" stop-color="#ffd326"/><stop offset=".625" stop-color="#ffbd00"/><stop offset=".866" stop-color="#ff6200"/><stop offset=".997" stop-color="#ff5b00"/></linearGradient><linearGradient id="c89" x2="0" y2="1"><stop offset=".000" stop-color="#7f21f0"/><stop offset=".163" stop-color="#6517f0"/><stop offset=".235" stop-color="#6f1af0"/><stop offset=".261" stop-color="#5f14f0"/><stop offset=".274" stop-color="#3d0cf5"/><stop offset=".287" stop-color="#0401fe"/><stop offset=".306" stop-color="#2c51e1"/><stop offset=".319" stop-color="#376adc"/><stop offset=".378" stop-color="#0ca0ff"/><stop offset=".404" stop-color="#01b6ff"/><stop offset=".410" stop-color="#10bafd"/><stop offset=".430" stop-color="#6ac3ef"/><stop offset=".469" stop-color="#b7def1"/><stop offset=".482" stop-color="#c8e6f4"/><stop offset=".489" stop-color="#fffaca"/><stop offset=".534" stop-color="#ffe65c"/><stop offset=".567" stop-color="#ffd327"/><stop offset=".625" stop-color="#ffbd00"/><stop offset=".866" stop-color="#ff6500"/><stop offset=".997" stop-color="#ff6000"/></linearGradient><clipPath id="fc"><rect x="153.3" y="102.0" width="717.0999999999999" height="307.0"/></clipPath></defs><g clip-path="url(#fc)"><rect x="153.3" y="102.0" width="8.6" height="307" fill="url(#c0)"/><rect x="161.3" y="102.0" width="8.6" height="307" fill="url(#c1)"/><rect x="169.3" y="102.0" width="8.6" height="307" fill="url(#c2)"/><rect x="177.3" y="102.0" width="8.6" height="307" fill="url(#c3)"/><rect x="185.3" y="102.0" width="8.6" height="307" fill="url(#c4)"/><rect x="193.3" y="102.0" width="8.6" height="307" fill="url(#c5)"/><rect x="201.3" y="102.0" width="8.6" height="307" fill="url(#c6)"/><rect x="209.3" y="102.0" width="8.6" height="307" fill="url(#c7)"/><rect x="217.3" y="102.0" width="8.6" height="307" fill="url(#c8)"/><rect x="225.3" y="102.0" width="8.6" height="307" fill="url(#c9)"/><rect x="233.3" y="102.0" width="8.6" height="307" fill="url(#c10)"/><rect x="241.3" y="102.0" width="8.6" height="307" fill="url(#c11)"/><rect x="249.3" y="102.0" width="8.6" height="307" fill="url(#c12)"/><rect x="257.3" y="102.0" width="8.6" height="307" fill="url(#c13)"/><rect x="265.3" y="102.0" width="8.6" height="307" fill="url(#c14)"/><rect x="273.3" y="102.0" width="8.6" height="307" fill="url(#c15)"/><rect x="281.3" y="102.0" width="8.6" height="307" fill="url(#c16)"/><rect x="289.3" y="102.0" width="8.6" height="307" fill="url(#c17)"/><rect x="297.3" y="102.0" width="8.6" height="307" fill="url(#c18)"/><rect x="305.3" y="102.0" width="8.6" height="307" fill="url(#c19)"/><rect x="313.3" y="102.0" width="8.6" height="307" fill="url(#c20)"/><rect x="321.3" y="102.0" width="8.6" height="307" fill="url(#c21)"/><rect x="329.3" y="102.0" width="8.6" height="307" fill="url(#c22)"/><rect x="337.3" y="102.0" width="8.6" height="307" fill="url(#c23)"/><rect x="345.3" y="102.0" width="8.6" height="307" fill="url(#c24)"/><rect x="353.3" y="102.0" width="8.6" height="307" fill="url(#c25)"/><rect x="361.3" y="102.0" width="8.6" height="307" fill="url(#c26)"/><rect x="369.3" y="102.0" width="8.6" height="307" fill="url(#c27)"/><rect x="377.3" y="102.0" width="8.6" height="307" fill="url(#c28)"/><rect x="385.3" y="102.0" width="8.6" height="307" fill="url(#c29)"/><rect x="393.3" y="102.0" width="8.6" height="307" fill="url(#c30)"/><rect x="401.3" y="102.0" width="8.6" height="307" fill="url(#c31)"/><rect x="409.3" y="102.0" width="8.6" height="307" fill="url(#c32)"/><rect x="417.3" y="102.0" width="8.6" height="307" fill="url(#c33)"/><rect x="425.3" y="102.0" width="8.6" height="307" fill="url(#c34)"/><rect x="433.3" y="102.0" width="8.6" height="307" fill="url(#c35)"/><rect x="441.3" y="102.0" width="8.6" height="307" fill="url(#c36)"/><rect x="449.3" y="102.0" width="8.6" height="307" fill="url(#c37)"/><rect x="457.3" y="102.0" width="8.6" height="307" fill="url(#c38)"/><rect x="465.3" y="102.0" width="8.6" height="307" fill="url(#c39)"/><rect x="473.3" y="102.0" width="8.6" height="307" fill="url(#c40)"/><rect x="481.3" y="102.0" width="8.6" height="307" fill="url(#c41)"/><rect x="489.3" y="102.0" width="8.6" height="307" fill="url(#c42)"/><rect x="497.3" y="102.0" width="8.6" height="307" fill="url(#c43)"/><rect x="505.3" y="102.0" width="8.6" height="307" fill="url(#c44)"/><rect x="513.3" y="102.0" width="8.6" height="307" fill="url(#c45)"/><rect x="521.3" y="102.0" width="8.6" height="307" fill="url(#c46)"/><rect x="529.3" y="102.0" width="8.6" height="307" fill="url(#c47)"/><rect x="537.3" y="102.0" width="8.6" height="307" fill="url(#c48)"/><rect x="545.3" y="102.0" width="8.6" height="307" fill="url(#c49)"/><rect x="553.3" y="102.0" width="8.6" height="307" fill="url(#c50)"/><rect x="561.3" y="102.0" width="8.6" height="307" fill="url(#c51)"/><rect x="569.3" y="102.0" width="8.6" height="307" fill="url(#c52)"/><rect x="577.3" y="102.0" width="8.6" height="307" fill="url(#c53)"/><rect x="585.3" y="102.0" width="8.6" height="307" fill="url(#c54)"/><rect x="593.3" y="102.0" width="8.6" height="307" fill="url(#c55)"/><rect x="601.3" y="102.0" width="8.6" height="307" fill="url(#c56)"/><rect x="609.3" y="102.0" width="8.6" height="307" fill="url(#c57)"/><rect x="617.3" y="102.0" width="8.6" height="307" fill="url(#c58)"/><rect x="625.3" y="102.0" width="8.6" height="307" fill="url(#c59)"/><rect x="633.3" y="102.0" width="8.6" height="307" fill="url(#c60)"/><rect x="641.3" y="102.0" width="8.6" height="307" fill="url(#c61)"/><rect x="649.3" y="102.0" width="8.6" height="307" fill="url(#c62)"/><rect x="657.3" y="102.0" width="8.6" height="307" fill="url(#c63)"/><rect x="665.3" y="102.0" width="8.6" height="307" fill="url(#c64)"/><rect x="673.3" y="102.0" width="8.6" height="307" fill="url(#c65)"/><rect x="681.3" y="102.0" width="8.6" height="307" fill="url(#c66)"/><rect x="689.3" y="102.0" width="8.6" height="307" fill="url(#c67)"/><rect x="697.3" y="102.0" width="8.6" height="307" fill="url(#c68)"/><rect x="705.3" y="102.0" width="8.6" height="307" fill="url(#c69)"/><rect x="713.3" y="102.0" width="8.6" height="307" fill="url(#c70)"/><rect x="721.3" y="102.0" width="8.6" height="307" fill="url(#c71)"/><rect x="729.3" y="102.0" width="8.6" height="307" fill="url(#c72)"/><rect x="737.3" y="102.0" width="8.6" height="307" fill="url(#c73)"/><rect x="745.3" y="102.0" width="8.6" height="307" fill="url(#c74)"/><rect x="753.3" y="102.0" width="8.6" height="307" fill="url(#c75)"/><rect x="761.3" y="102.0" width="8.6" height="307" fill="url(#c76)"/><rect x="769.3" y="102.0" width="8.6" height="307" fill="url(#c77)"/><rect x="777.3" y="102.0" width="8.6" height="307" fill="url(#c78)"/><rect x="785.3" y="102.0" width="8.6" height="307" fill="url(#c79)"/><rect x="793.3" y="102.0" width="8.6" height="307" fill="url(#c80)"/><rect x="801.3" y="102.0" width="8.6" height="307" fill="url(#c81)"/><rect x="809.3" y="102.0" width="8.6" height="307" fill="url(#c82)"/><rect x="817.3" y="102.0" width="8.6" height="307" fill="url(#c83)"/><rect x="825.3" y="102.0" width="8.6" height="307" fill="url(#c84)"/><rect x="833.3" y="102.0" width="8.6" height="307" fill="url(#c85)"/><rect x="841.3" y="102.0" width="8.6" height="307" fill="url(#c86)"/><rect x="849.3" y="102.0" width="8.6" height="307" fill="url(#c87)"/><rect x="857.3" y="102.0" width="8.6" height="307" fill="url(#c88)"/><rect x="865.3" y="102.0" width="8.6" height="307" fill="url(#c89)"/><path d="M153 190.0H871M153 192.6H871M153 195.2H871M153 197.8H871M153 200.4H871M153 203.0H871M153 205.6H871M153 208.2H871M153 210.8H871M153 213.4H871M153 216.0H871M153 218.6H871M153 221.2H871M153 223.8H871M153 226.4H871M153 229.0H871M153 231.6H871M153 234.2H871M153 236.8H871M153 239.4H871M153 242.0H871M153 244.6H871M153 247.2H871M153 249.8H871M153 252.4H871M153 255.0H871M153 257.6H871" stroke="#fff" stroke-opacity="0.16" stroke-width="0.8"/><g fill="none" stroke="#222" stroke-width="0.8"><path d="M512 409L512 394L513 379L513 364L513 349L513 334L512 319L512 304L513 289M524 409L523 394L522 379L523 364L524 349L522 334L524 319L525 304L525 289M627 409L626 394L626 379L625 364L624 349L623 334M729 409L729 394L730 379L730 364L730 349L730 334L730 319L730 304M756 409L758 394L758 379L759 364L759 349L758 334L757 319L756 304M768 409L769 394L768 379L769 364L770 349L769 334L768 319L769 304L769 289L770 274M792 409L792 394L793 379L792 364L791 349L791 334L792 319L792 304M805 409L804 394L803 379L804 364L803 349L803 334L803 319L802 304L803 289M844 409L844 394L843 379L843 364L842 349L843 334L844 319L843 304M846 161H871M846 211H871M846 309H871M846 361H871M846 112H871M846 102V112M858 102V112" fill="none" stroke="#000" stroke-width="0.8"/><circle cx="397" cy="381" r="4.6"/><circle cx="397" cy="391" r="4.6"/><circle cx="397" cy="401" r="4.6"/><circle cx="422" cy="358" r="4.6"/><circle cx="421" cy="370" r="4.6"/><circle cx="652" cy="330" r="4.6"/><circle cx="691" cy="310" r="4.6"/><circle cx="754" cy="281" r="4.6"/></g><path d="M314 107l5 3 6 3 5 3 5 2 6 3 5 3 5 3 5 3M321 111l0-7M330 116l0-7M339 120l0-7M348 125l0-7M817 262l4 4 5 4 4 4 5 4 4 4 3 6-1 6-1 5 0 4M821 266l2-7M829 273l2-7M837 279l2-7M842 288l6-4M841 297l7-2M296 277l6 1 6 1 5 2 6 1 6 1 6 2 6 1 2 1M296 277l-2-7M306 279l-2-7M315 281l-2-7M325 283l-2-7M335 286l-1-7M805 111l5 3 5 3 5 3 5 3 5 3 5 3 6 3 5 3 5 3 6 3M812 115l0-7M820 120l1-7M829 125l1-7M837 130l0-7M846 135l0-7M855 140l0-7M811 410l1-6 1-6 0-6 1-6 1-6 1-5 1-6 0-6 1-6 1-6 1-4M812 406l7-3M813 396l7-3M814 386l7-3M815 377l7-3M817 367l7-3M818 357l7-3M452 304l3-5 3-5 4-5 3-5 4-4 4-5 4-4 2-1M455 299l-7-1M461 291l-7-1M466 283l-7-1M473 275l-7-2M278 132l6 3 5 2 6 3 5 2 5 3 6 2 5 3 6 3 3 1M284 135l0-7M293 139l0-7M302 143l0-7M311 147l0-7M320 152l0-7M833 367l1-6 1-6 2-6 1-6 1-6 1-6 2-6 1-5 1-6 1-2M833 367l7-2M835 357l7-2M837 347l7-2M839 337l7-2M841 327l7-2M843 318l7-2M687 134l5 3 6 2 5 3 6 3 5 2 6 2 5 3 6 2 5 3 5 3 4 2M692 137l0-7M701 141l0-7M711 145l-1-7M720 149l-1-7M729 153l0-7M738 158l0-7M221 99l6 3 5 3 5 3 5 3 6 3 5 2 5 3 6 3 5 2 6 3 1 1M227 102l0-7M235 107l0-7M244 112l0-7M253 116l0-7M262 121l0-7M271 125l0-7M151 273l6-1 6 0 6 0 6-1 6 0 6 0 6 0 6-1 6 0 6 0 6 0M157 272l-4-6M167 272l-4-6M177 271l-4-6M187 271l-4-6M197 270l-4-7M207 270l-4-7M340 184l6 3 5 2 6 2 6 2 5 2 6 1 6 2 6 2 5 2 6 3M344 186l-1-7M353 190l-1-7M363 193l-2-7M372 196l-2-7M382 198l-1-7M391 202l0-7M182 245l6 0 6 0 6 0 6 0 6 0 6 0 6 0 6 1 4 0M186 245l-4-7M196 245l-4-7M206 245l-3-7M216 245l-3-7M226 245l-3-7M771 265l4 4 5 4 4 4 5 4 3 5 1 6 1 6 0 6 0 6 0 6 0 6 0 6M775 269l2-7M783 275l2-7M790 282l4-7M793 292l6-4M794 302l7-4M794 312l7-3M794 322l7-3M466 99l5 3 5 4 5 3 5 4 4 3 5 4 5 3 3 3M466 99l1-7M474 105l1-7M482 111l1-7M490 116l1-7M498 122l1-7M575 209l6 0 6 1 6 1 6 1 6 0 6 1 6 1 6 0 6 1 6 1 6 0 6 1 6 1 6 1M583 210l-3-7M593 211l-3-7M603 212l-3-7M613 213l-3-7M623 214l-3-7M633 216l-3-7M643 217l-3-7M653 218l-2-7M392 117l5 3 5 4 5 3 5 3 5 4 5 3 5 4 1 1M395 119l1-7M404 125l1-7M412 130l1-7M420 136l1-7M432 347l6 3 5 3 5 2 6 3 5 3 5 2 6 3 5 3 6 2 5 3 6 2 5 2M439 351l0-7M448 355l0-7M457 360l0-7M466 364l0-7M475 369l0-7M484 373l0-7M493 377l-1-7M255 229l6 0 6 0 6 1 6 0 6 1 6 1 6 1 6 1 6 1 6 1 3 1M259 229l-3-7M269 230l-3-7M279 230l-3-7M289 232l-3-7M299 233l-2-7M309 235l-2-7M289 219l6 1 6 0 6 1 6 1 6 2 6 1 5 2 6 1 6 3 5 2 5 3 5 4 5 4 4 4M291 219l-3-7M301 220l-2-7M311 222l-2-7M321 224l-2-7M330 227l-1-7M340 230l-1-7M349 234l0-7M357 240l1-7M365 246l2-7M151 393l6 0 6 1 6 0 6 1 5 0 6 1 6 0 6 1 6 0M151 393l-3-7M161 394l-3-7M171 394l-3-7M180 395l-3-7M190 396l-3-7M200 397l-3-7M673 180l5 3 6 2 5 2 6 1 6 2 6 1 6 0 6 0 4 0M676 182l0-7M686 186l-1-7M695 188l-2-7M705 190l-3-7M715 191l-3-7M152 217l6-1 6-1 6 0 6-1 6-1 6-1 2 0M160 216l-4-6M170 215l-4-6M180 213l-4-6M669 211l5 2 6 2 6 1 6 2 5 2 6 2 5 3 6 3 5 2 5 3 4 2M669 211l-2-7M678 214l-2-7M688 217l-1-7M697 220l-1-7M707 224l0-7M715 228l0-7M724 233l0-7M524 306l5-3 6-2 6-2 6-1 6-1 6-1 6-1 5 0 6 0 2 0M524 306l-6-4M533 302l-5-5M543 299l-5-6M553 297l-5-6M563 296l-4-6M572 295l-4-7M424 252l2 6 0 6 1 6 0 6 1 6 0 6 0 6 0 6 0 6 0 6 0 6-1 6 0 4M425 256l5-5M427 266l6-4M427 276l6-4M428 286l6-4M428 296l7-4M428 306l7-3M428 316l7-3M427 326l7-3M674 412l-1-6-1-6 1-6 3-5 4-5 4-4 5-4 4-4 4-4 3-5 2-6 2-6 1-4M673 404l6-4M673 394l7-1M679 386l-7-2M686 379l-7-3M693 372l-7-2M699 364l7 0M703 355l7-2M357 99l5 3 5 3 5 3 5 3 6 3 5 3 5 4 5 3 5 3 5 4 5 3 1 1M362 102l0-7M371 107l0-7M379 112l0-7M388 117l1-7M396 123l1-7M404 128l1-7M413 134l1-7M266 366l6 0 6 1 6 1 6 1 6 1 6 1 6 1 6 1 6 1 6 1 6 0 2 0M266 366l-2-7M276 367l-2-7M286 369l-2-7M296 370l-2-7M306 372l-2-7M316 373l-3-7M326 375l-3-7M784 205l5 4 4 4 5 4 6 2 5 3 6 2 5 2 6 2 6 2 5 2M789 209l2-7M796 216l0-7M805 220l-1-7M815 224l-1-7M824 227l-1-7M834 231l-1-7M472 312l5-3 5-4 5-3 5-3 5-3 5-4 6-2 5-3 6-2 5-2 4-2M477 309l-7-3M486 303l-7-4M494 298l-7-4M502 292l-6-4M511 288l-6-5M521 284l-6-5M650 330l5-3 5-4 5-4 5-3 5-4 5-3 4-4 5-4 5-3 1-1M657 325l-7-3M665 319l-7-3M673 313l-7-3M681 307l-7-3M689 301l-7-3M793 340l0 6 0 6 0 6 0 6 0 6 0 6 0 6 0 6 0 6 0 6 0 6 0 6M793 342l7-4M793 352l7-4M793 362l7-4M793 372l7-4M793 382l7-4M793 392l7-4M793 402l7-4M397 99l6 3 5 4 5 3 5 3 5 3 5 4 5 3 5 3 4 4 4 2M401 101l0-7M409 107l1-7M418 112l1-7M426 118l1-7M434 123l1-7M442 129l1-7M255 307l6 1 6 0 6 1 6 1 6 0 6 1 6 1 5 1 6 1 6 2 6 1 6 1 6 1 6 2M263 308l-3-7M273 309l-3-7M283 310l-3-7M293 312l-2-7M302 313l-2-7M312 315l-2-7M322 317l-2-7M332 319l-2-7M825 411l1-6 1-6 1-6 1-5 1-6 1-6 1-6M826 405l7-2M827 395l7-2M829 386l7-2M831 376l7-2M152 133l5 3 6 3 5 2 6 3 5 2 6 2 6 2 5 1 6 2 6 2 6 1M159 137l0-7M168 141l-1-7M177 145l-1-7M187 148l-1-7M196 151l-2-7M206 154l-2-7M537 144l5 3 5 3 5 3 5 4 5 3 5 3 5 3 6 3 5 3 5 3 5 3 6 2 5 3 2 1M540 146l1-7M549 151l1-7M557 157l0-7M566 162l0-7M574 167l0-7M583 172l0-7M592 177l0-7M601 181l0-7M516 411l0-6 1-6 1-6 1-6 1-6 1-6 2-5 3-6 2-3M516 407l7-3M517 397l7-3M519 387l7-2M521 377l7-2M524 368l7 0M755 373l1 6 1 6 2 6 1 6 1 6 2 6 0 2M757 381l6-5M759 391l6-5M761 401l6-5M835 116l6 4 5 3 5 3 5 4 5 3 5 3 5 3 2 1M839 119l1-7M847 124l1-7M856 130l1-7M864 135l0-7M154 231l6 0 6-1 6 0 6-1 6 0 6-1 6 0 5-1M158 231l-4-6M168 230l-4-6M178 229l-4-6M188 228l-4-6M198 227l-4-6M755 331l2 5 1 6 1 6 2 6 1 6 1 6 1 6 1 6 1 4M757 338l6-5M759 348l6-5M761 358l6-5M763 368l6-5M765 378l6-5M150 115l6 3 5 3 5 3 5 3 5 3 6 2 5 3 6 2 3 2M154 117l0-7M162 122l0-7M171 127l0-7M180 131l0-7M189 136l-1-7M309 184l5 2 6 2 5 2 6 2 6 1 6 2 6 1 5 1 6 2 6 2 6 2 5 2 4 2M314 186l-1-7M324 189l-1-7M333 192l-2-7M343 195l-2-7M353 197l-2-7M362 199l-1-7M372 203l-1-7M388 168l5 3 5 4 5 3 5 4 5 3 5 3 6 2 6 2 5 2 6 1 6 2 6 1 4 1M392 170l1-7M400 176l1-7M408 182l1-7M417 187l0-7M426 191l-1-7M435 194l-2-7M445 196l-2-7M455 199l-2-7M834 261l5 4 5 4 4 4 5 4 4 4 3 5 0 6-1 6-1 6-1 6-2 6-1 5-1 4M834 261l2-7M842 268l2-7M850 274l2-7M857 281l3-7M860 290l7-3M859 300l7-2M857 310l7-2M855 319l7-2M340 351l6 0 6 0 6 0 6 0 6-1 6 0 6-1 6-1 6 0 6-1 6-1 2 0M346 351l-3-7M356 351l-4-7M366 351l-4-6M376 350l-4-6M386 348l-4-6M396 347l-4-6M406 346l-4-6M543 369l5-3 6-2 6-1 6-1 6-1 6 0 6 1 6 0 5 2 6 2 6 2 1 1M543 369l-6-4M552 365l-5-5M562 362l-5-6M572 361l-4-6M582 361l-3-7M592 363l-2-7M601 366l-1-7M210 122l6 3 5 2 6 3 5 2 6 3 5 2 6 2 5 3 6 2 5 2 6 2 6 2M218 125l0-7M227 130l0-7M236 134l-1-7M245 138l-1-7M254 142l-1-7M264 145l-1-7M273 149l-1-7M514 164l5 3 5 4 5 3 5 3 5 3 5 3 6 2 6 2 5 2 6 1 6 1 6 1M515 165l1-7M524 171l1-7M532 176l0-7M541 181l0-7M550 185l-1-7M559 188l-2-7M569 191l-2-7M802 365l0-6 0-6 1-6 0-6 1-6 0-6 1-6 0-6 0-6 1-6 0-6 0-6 0-6-1-2M802 363l7-3M802 353l7-3M803 343l7-3M804 333l7-3M805 323l7-3M805 313l7-3M806 303l7-3M806 293l6-4M724 143l6 2 6 3 5 2 6 2 5 2 6 3 5 3 5 3 5 3 5 3 5 4 5 3 3 2M728 145l-1-7M737 148l-1-7M747 152l-1-7M756 156l0-7M765 161l0-7M773 166l1-7M781 172l1-7M790 177l1-7M409 195l6 1 5 2 6 2 6 2 5 3 5 4 4 3 5 4 5 4 5 4 5 3 5 3M409 195l-2-7M419 198l-1-7M428 201l-1-7M437 205l1-7M445 211l1-7M453 217l1-7M461 224l1-7M469 229l0-7M658 394l-1-6 1-5 4-5 4-4 5-4 4-4 5-3 5-4 5-4 4-4 3-2M658 394l6-5M657 384l7-1M663 377l-7-3M671 370l-7-3M679 364l-7-3M686 358l-7-3M694 351l-7-3M227 118l6 3 5 3 5 2 6 3 5 2 6 3 5 2 6 3 5 2 6 2 5 3 6 2 5 2 6 3M234 122l0-7M243 126l0-7M252 130l0-7M262 135l-1-7M271 139l-1-7M280 143l-1-7M289 146l-1-7M298 150l-1-7M536 233l6 1 6 1 5 1 6 0 6 1 6 1 6 0 6 1 6 1 2 0M542 234l-3-7M551 235l-3-7M561 237l-3-7M571 238l-3-7M581 239l-3-7M481 267l5-4 5-3 5-3 6-2 6-1 5 0 6 0 6-1 6 0 6 1 6 0 6 0 6 0 2 0M486 263l-6-4M494 258l-6-4M504 255l-5-6M513 254l-4-6M523 253l-4-7M533 254l-3-7M543 254l-3-7M553 254l-3-7M518 361l2-5 2-6 3-5 5-4 5-3 6-2 5-2 6-1 4-1M520 356l7-1M524 347l-7-1M531 340l-6-4M541 336l-5-5M550 333l-5-6M345 318l6 2 6 2 5 1 6 2 6 2 6 2 5 2 2 0M353 320l-1-7M362 323l-1-7M372 326l-1-7M381 330l-1-7M742 219l5 3 6 2 6 1 5 1 6 1 6-1 6 0 6 0 6 1 2 1M749 223l-1-7M759 225l-2-7M768 227l-3-7M778 226l-4-6M788 226l-3-7M720 360l2 6 1 6 2 6 2 5 2 6 2 6 1 5 2 6 2 6M720 362l5-5M723 372l5-5M726 381l5-5M729 391l5-5M732 400l5-5M735 410l5-5M441 115l5 3 5 4 5 3 5 4 5 3 5 4 4 3 5 4 5 3 5 4 3 2M445 117l1-7M453 123l1-7M461 129l1-7M469 135l1-7M477 141l1-7M485 146l1-7M193 235l6-1 6 0 6 0 6 0 6 0 6 0 6 0 6 0 6 0 6 0M197 234l-4-6M207 234l-4-6M217 234l-4-7M227 234l-4-7M237 234l-3-7M247 234l-3-7M779 337l0 5 1 6 0 6 1 6 0 6 1 6 0 6 1 6 0 6 1 6 0 6 0 2M779 340l6-4M780 350l6-4M781 360l6-4M782 370l6-4M782 380l6-4M783 390l6-4M784 400l6-4M570 383l6 0 6 1 6 1 6 2 5 3 5 3 5 4 3 5 4 5 1 3M574 383l-3-7M584 384l-2-7M594 387l0-7M603 392l1-7M610 398l3-7M616 407l5-6M615 126l6 3 5 3 5 3 5 3 6 3 5 2 5 3 5 3 6 3 5 3 5 2 6 3 5 3 5 3M617 127l0-7M626 132l0-7M635 137l0-7M643 142l0-7M652 146l0-7M661 151l0-7M670 156l0-7M679 160l0-7M687 165l0-7M346 101l6 3 5 3 5 3 5 3 5 3 6 3 5 3 5 4 5 3 5 3 3 2M348 102l0-7M357 107l0-7M366 112l0-7M374 117l0-7M383 122l1-7M391 128l1-7M399 133l1-7M442 288l1-6 2-6 1-6 2-5 2-6 0-6-3-6-3-5-3-5-4-4-3-3M442 286l7-2M445 276l7-2M447 267l7-1M450 257l7-3M447 247l4-6M442 239l3-7M436 231l3-7M671 145l5 3 6 2 5 3 5 3 6 3 5 3 5 2 5 3 4 3M671 145l0-7M680 149l0-7M689 154l0-7M698 159l0-7M706 163l0-7M715 169l0-7M752 233l6 1 6 1 6 0 6 0 6 0 6 1 5 1 2 1M758 234l-3-7M768 235l-3-7M778 235l-3-7M788 236l-2-7M541 153l6 3 5 4 5 3 5 3 5 3 5 3 5 3 6 3 5 2 6 3 5 2 6 2 4 1M545 155l1-7M553 161l0-7M562 166l0-7M571 171l0-7M579 176l0-7M588 180l0-7M597 184l-1-7M607 188l-2-7M746 165l6 3 5 3 5 3 5 3 5 3 5 3 6 3 4 1M750 167l0-7M758 172l0-7M767 177l0-7M776 182l0-7M785 187l-1-7M392 260l3 5 3 5 3 6 3 5 3 5 2 5 3 6 2 6 2 5 2 6 2 6 1 5 2 6 0 2M395 265l4-6M400 274l4-6M405 283l4-6M409 291l5-6M413 301l5-6M417 310l5-5M420 320l5-5M422 329l6-5M294 193l6 1 6 1 6 1 5 1 6 1 6 1 6 2 6 1 6 2 5 2 6 2 5 3 5 3 2 1M294 193l-2-7M304 195l-2-7M313 197l-2-7M323 198l-2-7M333 200l-2-7M343 203l-2-7M352 206l-1-7M361 210l0-7M546 295l6-2 6 0 6-1 6 0 6-1 6 1 6 0 6 1 6 1 6 1 6 1 6 1 4 1M552 293l-5-6M562 292l-4-6M572 292l-4-7M582 292l-3-7M592 292l-3-7M602 294l-2-7M612 296l-2-7M740 260l5 4 4 4 5 4 4 4 5 4 4 4 2 6 2 5 1 6 1 6 1 6 0 6 1 6 1 6M741 262l2-7M749 268l2-7M757 274l2-7M764 281l3-7M769 290l5-5M772 299l6-5M773 309l6-4M774 319l6-4M776 329l6-4M733 193l6-1 6 0 6 1 6 0 6 2 6 1 5 2 6 3 1 1M741 192l-4-7M751 193l-3-7M761 194l-2-7M771 197l-1-7M780 201l1-7M259 393l6 1 6 1 6 1 6 1 6 1 6 1 5 1 6 1 6 1 6 1 6 0 6 1 6 0 2 1M263 394l-3-7M273 395l-2-7M283 397l-2-7M293 399l-2-7M302 400l-2-7M312 402l-2-7M322 403l-3-7M332 404l-3-7M610 253l6 0 5 1 6 1 6 1 6 2 6 1 6 2 5 2 6 2 6 1 6 2 5 2 5 3 5 3 4 3M616 253l-3-7M625 255l-2-7M635 257l-2-7M645 259l-1-7M654 262l-1-7M664 265l-1-7M674 268l-2-7M683 272l1-7M691 278l1-7M384 148l5 4 5 3 5 3 5 4 5 3 5 4 4 3 5 4 5 3 5 4 5 3 6 2 5 3 6 1 4 1M384 148l1-7M392 154l1-7M400 160l1-7M409 165l1-7M417 171l1-7M425 177l1-7M433 183l1-7M442 188l0-7M451 191l-1-7M462 198l6 1 6 2 6 1 5 2 6 2 6 1 6 2 6 1 5 1 2 1M466 199l-2-7M476 201l-2-7M485 204l-2-7M495 207l-2-7M505 209l-2-7M514 211l-2-7M416 138l5 3 4 4 5 3 5 4 5 3 5 4 5 3M419 140l1-7M427 146l1-7M435 152l1-7M443 158l1-7M432 99l5 4 5 3 5 3 5 4 5 3 5 4 4 3 5 4 5 3 5 4 5 3 5 4 5 3 4 4 4 2M439 104l1-7M447 109l1-7M455 115l1-7M463 121l1-7M471 127l1-7M479 133l1-7M487 138l1-7M496 144l1-7M763 128l5 3 6 3 5 2 6 2 6 2 5 2 6 1 6 2 4 1M763 128l0-7M772 133l0-7M781 137l-1-7M791 140l-1-7M800 143l-2-7M810 145l-2-7M525 294l6-2 6-2 6-2 5-1 6-1 6-1 6 0 6 0 6-1 6 1 6 0 6 1 4 0M531 292l-5-5M541 289l-5-6M550 287l-5-6M560 285l-4-6M570 285l-4-6M580 285l-3-7M590 285l-3-7M637 103l5 3 5 3 5 3 6 3 5 3 5 3 5 3 6 3 5 2 5 3 6 3 5 3 3 1M644 107l0-7M652 112l0-7M661 117l0-7M670 122l0-7M679 127l0-7M687 131l0-7M696 136l0-7M617 161l5 3 6 3 5 3 5 2 6 3 5 3 5 3 6 2 3 2M621 163l0-7M629 168l0-7M638 172l0-7M647 177l0-7M656 182l0-7M344 150l5 3 5 3 6 3 5 3 5 3 5 3 5 4 5 3M351 154l0-7M360 159l0-7M368 164l0-7M377 169l1-7M396 209l5 4 4 4 4 4 5 4 4 5 4 4 3 5 4 5 3 5 3 5 0 6 0 2M401 213l2-7M408 220l2-7M415 227l2-7M422 234l3-7M428 242l3-7M433 251l4-6M435 260l7-3M158 313l6 0 6-1 6 0 6 0 6 0 6 0 6 0 6 0 6 0 6 0 6 0 6 0 6 0 2 0M166 313l-4-6M176 312l-4-7M186 312l-4-7M196 312l-4-7M206 312l-4-7M216 312l-3-7M226 312l-3-7M236 312l-3-7M152 265l6 0 6 0 6 0 6-1 6 0 6 0 6 0 6 0 6 0 6 0 6 0 6 0 4 0M160 265l-4-6M170 265l-4-6M180 264l-4-7M190 264l-4-7M200 264l-4-7M210 264l-3-7M220 264l-3-7M798 230l6 2 5 2 6 2 6 2 5 2 6 2M806 232l-1-7M815 236l-1-7M825 239l-1-7M722 276l5 4 4 4 3 6 2 5 2 6 2 6 1 5 2 6 2 6 1 6 2 5 1 6M728 281l3-7M734 290l5-6M737 299l5-5M740 308l5-5M743 318l5-5M746 328l5-5M748 337l5-5M355 124l5 3 5 3 6 3 5 3 5 4 5 3 5 3 5 4M357 125l0-7M365 130l0-7M374 135l1-7M382 141l1-7M391 146l1-7M183 126l5 3 6 2 5 3 5 2 6 2 6 3 5 2 6 2 5 2 6 2 6 2 2 0M190 129l0-7M199 134l0-7M208 138l-1-7M217 141l-1-7M227 145l-1-7M236 148l-1-7M377 411l3-5 4-4 3-5 4-5 4-5 2-3M377 411l-7-1M383 403l-7-1M389 395l-7-1M395 387l-7-1M197 100l6 3 5 3 5 3 5 3 5 3 2 1M204 104l0-7M213 109l0-7M222 114l0-7M515 200l6 1 6 1 6 0 6 1 6 1 5 1 6 1 6 1 6 1 4 0M521 201l-2-7M531 202l-2-7M541 204l-3-7M550 205l-3-7M560 206l-3-7M570 208l-3-7M677 354l5-3 4-4 5-4 5-3 4-5 3-5 2-5 1-6 0-4M679 353l-7-3M686 347l-7-3M694 341l-7-3M701 334l-7-1M705 325l7-2M438 364l3 6 3 5 3 5 3 5 3 5 3 6 3 5 3 5M441 370l4-6M446 378l4-6M451 387l4-6M456 396l4-6M461 404l4-6M735 245l5 2 6 2 6 2 5 2 6 2 5 2 5 4 5 4 3 2M735 245l-1-7M744 249l-1-7M753 252l-1-7M763 255l-1-7M772 259l1-7M779 266l2-7M696 238l5 2 6 2 6 2 5 2 6 2 6 2 5 2 2 1M698 239l-1-7M707 242l-1-7M717 245l-1-7M726 249l-1-7M735 252l-1-7M206 168l6 1 6 1 6 1 6 1 6 1 6 1 6 1 6 1 5 1 6 2 6 1 6 2 6 1 5 2M208 168l-3-7M218 170l-2-7M228 171l-2-7M238 173l-2-7M248 175l-2-7M257 177l-2-7M267 179l-2-7M277 182l-2-7M287 184l-2-7M532 99l5 4 5 3 5 4 4 3 5 4 5 3 5 3 5 4 5 3 5 3 4 2M537 103l1-7M545 109l1-7M553 114l1-7M561 120l1-7M570 126l1-7M578 131l1-7M594 192l6 1 6 0 6 1 6 1 5 0 6 1 6 0 6 1 6 0 2 1M598 192l-3-7M608 194l-3-7M618 195l-3-7M627 195l-3-7M637 196l-3-7M647 197l-3-7M269 356l6 1 6 1 6 1 6 1 6 1 6 1 6 1 6 0 6 1 5 1 6 0 6 1 6 0 6-1 4 0M277 357l-2-7M287 359l-2-7M297 360l-2-7M307 362l-2-7M317 363l-3-7M326 365l-3-7M336 366l-3-7M346 366l-4-6M715 311l1 6 2 6 1 6 2 5 1 6 2 6 1 6 2 6 2 5 1 6 2 6 2 5 2 6 2 6M715 311l6-5M717 321l6-5M720 331l6-5M722 340l5-5M725 350l5-5M728 359l5-5M730 369l5-5M733 379l5-5M736 388l5-5M433 343l6 0 6-1 6 0 6-1 6 0 6-1 2 0M433 343l-4-6M443 343l-4-6M453 342l-4-6M463 341l-4-6M507 411l0-6 0-6 0-6 1-6 1-6 1-6 2-6 0-2M507 411l7-4M507 401l7-3M507 391l7-3M509 381l7-2M511 371l7-2M738 272l5 3 4 4 4 5 3 5 2 6 2 6 1 5 1 6 2 6 1 6 1 6 1 6 1 6 1 6M739 273l2-7M747 279l2-7M753 287l4-6M757 297l5-5M759 306l6-5M761 316l6-5M763 326l6-5M765 336l6-5M767 346l6-5M151 121l5 3 6 3 5 3 5 3 6 2 5 3 2 1M153 122l0-7M162 127l0-7M170 132l0-7M179 136l0-7M818 247l5 2 6 2 6 2 5 2 6 3 4 3 5 4 5 4 4 4 5 4M825 249l-1-7M835 253l-1-7M844 257l0-7M852 263l2-7M860 269l2-7M867 275l2-7M152 142l5 3 6 2 5 2 6 2 6 2 6 1 5 2 6 1 6 2 6 1 6 1 6 1 6 2M152 142l0-7M161 146l-1-7M170 150l-1-7M180 153l-2-7M189 155l-2-7M199 158l-2-7M209 160l-2-7M219 162l-2-7M298 336l6 1 6 1 6 1 6 1 6 1 6 1 6 1 6 0M304 337l-2-7M314 339l-2-7M324 340l-2-7M334 342l-3-7M344 343l-3-7M382 100l5 3 5 3 5 3 5 3 5 3 5 3 5 4 5 3 4 2M389 104l0-7M397 109l0-7M406 114l1-7M414 120l1-7M422 125l1-7M727 99l5 3 5 3 6 3 5 2 5 3 6 3 5 3 5 3 5 3 6 3 5 3M729 100l0-7M737 105l0-7M746 109l0-7M755 114l0-7M764 119l0-7M773 124l0-7M781 129l0-7M151 160l5 2 6 1 6 1 6 1 6 1 6 1 6 1 6 1 6 0M156 162l-2-7M166 164l-2-7M176 165l-2-7M186 167l-3-7M196 168l-3-7M733 313l2 6 1 5 2 6 2 6 1 6 2 5 2 6 1 6M734 315l5-5M736 324l5-5M739 334l5-5M742 344l5-5M745 353l5-5M823 190l6 1 6 1 6 1 5 2 6 1 6 2 6 2 5 2 4 1M831 191l-2-7M841 193l-2-7M850 196l-2-7M860 198l-1-7M869 202l-1-7M645 249l6 1 6 1 6 1 6 2 6 1 6 2 5 3 5 3 3 3M645 249l-3-7M655 251l-2-7M665 253l-2-7M675 255l-1-7M684 259l0-7M692 264l1-7M712 116l5 3 5 3 6 3 5 2 5 3 6 3 5 2 6 3 5 2 6 2 4 1M714 117l0-7M722 122l0-7M731 126l0-7M740 131l0-7M749 135l-1-7M758 139l-1-7M768 142l-2-7M197 334l6 1 6 0 5 1 6 0 6 1 6 1 6 0 6 1 6 1 2 0M205 335l-3-7M214 336l-3-7M224 337l-3-7M234 338l-3-7M244 339l-3-7M327 239l6 2 5 2 6 2 5 3 5 4 4 3 5 4 5 4 5 3 4 4M331 240l-1-7M340 243l0-7M349 248l1-7M357 254l1-7M365 260l1-7M373 266l2-7M842 231l6 2 6 2 5 2 6 2 5 2 2 1M844 231l-1-7M854 235l-1-7M863 238l-1-7M209 240l6 0 6 0 6 0 6 0 6 1 6 0 6 0 6 0 6 1 2 0M215 240l-4-7M225 240l-3-7M235 240l-3-7M245 241l-3-7M255 241l-3-7M165 282l6-1 6 0 6-1 6 0 6-1 6 0 6 0 6-1 6 0 6 0 4 0M165 282l-4-6M175 281l-4-6M185 280l-4-6M195 279l-4-6M205 279l-4-6M215 278l-4-7M225 278l-4-7M643 351l-4 4-2 6 0 6 1 6 1 6 2 6 2 5 1 6 2 6 1 2M638 357l7-2M637 367l6-4M639 377l6-5M641 387l5-5M644 396l5-5M531 363l5-4 5-2 6-2 6-2 6-2 5-1 6 0 2 0M538 358l-6-4M547 355l-5-5M557 352l-5-6M566 350l-4-6M823 100l5 3 6 3 5 4 5 3 5 3 5 3 5 4 5 3 5 3 3 3M827 102l0-7M835 108l0-7M844 113l1-7M852 118l1-7M860 124l1-7M869 129l1-7M577 349l6 0 6 1 6 1 5 2 6 1 6 2 5 3 5 4 1 1M577 349l-3-7M587 350l-3-7M597 351l-2-7M606 354l-1-7M615 358l0-7M257 332l6 1 6 0 6 1 6 1 6 1 6 1 2 1M263 333l-3-7M273 334l-2-7M283 336l-2-7M293 337l-2-7M772 152l6 2 5 2 5 3 6 3 5 3 5 4 4 3 5 4 5 3 5 3 6 3 5 2 4 1M772 152l-1-7M781 155l0-7M790 160l0-7M799 165l1-7M807 171l1-7M815 177l1-7M823 182l0-7M832 187l-1-7M165 220l6-1 6-1 6-1 6 0 6-1 6 0 6-1 6-1 6 0 6 0 6 0 2-1M169 219l-4-6M179 218l-4-6M189 217l-4-6M199 216l-4-6M209 215l-4-6M219 214l-4-6M229 214l-4-6M645 193l6 1 6 0 6 1 6 1 6 1 6 1 6 1 5 2 6 1 6 2 6 2 5 3 3 2M645 193l-3-7M655 194l-3-7M665 195l-3-7M675 197l-2-7M685 199l-2-7M694 201l-2-7M704 204l-1-7M713 208l0-7M521 367l3-5 3-5 4-4 5-3 6-3 5-2 6-1 6-2 6 0 2-1M521 367l7-1M525 358l-7-1M533 351l-6-4M542 347l-6-5M551 344l-5-6M561 342l-4-6M346 157l5 3 5 3 5 3 5 3 6 3 5 3 5 3 5 4 5 3 5 3 6 2 5 2M353 161l0-7M361 166l0-7M370 171l0-7M378 176l1-7M387 182l0-7M395 187l0-7M405 191l-1-7M804 140l6 2 6 2 5 1 6 2 6 2 5 2 6 2 5 3M810 142l-2-7M819 145l-2-7M829 148l-1-7M838 151l-1-7M847 155l0-7M773 145l6 1 5 2 6 2 6 1 6 2 5 3 5 3 5 3 5 3 5 4M781 147l-2-7M790 150l-1-7M800 153l-1-7M809 157l0-7M817 162l1-7M826 168l1-7M751 242l6 1 5 2 6 1 6 1 6 2 6 2 5 2 6 2 5 3 5 3 5 4 4 4M753 243l-2-7M762 245l-2-7M772 247l-2-7M782 249l-1-7M791 253l-1-7M800 257l0-7M808 263l2-7M711 353l1 5 2 6 1 6 2 6 2 6 2 5 2 6 2 6 2 5 0 2M712 355l6-5M714 364l5-5M717 374l5-5M720 383l5-5M723 393l5-5M726 402l5-5M570 214l6 1 6 1 6 0 6 1 6 1 6 1 6 0 6 1 6 1 6 0 6 1 6 1 4 0M574 215l-3-7M584 216l-3-7M594 217l-3-7M604 218l-3-7M614 220l-3-7M624 221l-3-7M634 222l-3-7M644 223l-3-7M534 118l5 4 5 3 5 4 5 3 5 3 5 3 5 4 2 1M539 122l1-7M547 127l1-7M556 133l1-7M564 138l1-7M772 117l5 2 5 3 6 3 5 3 5 3 6 3 5 2 6 2 5 2 6 2 6 2 5 2 4 1M776 119l0-7M784 123l0-7M793 128l0-7M802 133l0-7M811 137l-1-7M820 140l-1-7M830 143l-1-7M839 146l-1-7M238 183l6 1 6 1 6 1 6 1 6 1 5 2 6 1 6 1 6 1M240 184l-3-7M250 185l-2-7M260 187l-2-7M270 189l-2-7M279 191l-2-7M289 193l-2-7M585 107l5 4 5 3 5 3 5 4 5 3 1 1M590 111l1-7M598 116l1-7M606 122l0-7M353 409l5-2 5-3 5-4 4-4 5-4 4-4 4-5 5-4 4-4 4-4 5-4 4-4 4-5 4-4 3-3M353 409l-5-5M361 405l-7-3M369 398l-7-3M377 392l-7-2M384 385l-7-2M391 378l-7-2M398 371l-7-2M405 364l-7-2M413 357l-7-2M770 108l5 3 5 3 6 3 5 3 5 3 5 3 5 3 6 3 5 3 5 2 4 1M770 108l0-7M779 113l0-7M787 118l0-7M796 123l0-7M805 128l0-7M813 133l0-7M822 137l-1-7M717 173l5 3 5 3 6 3 5 1 6 2 6 1 6 1 6 2 4 1M722 176l0-7M731 181l-1-7M740 184l-2-7M750 186l-2-7M760 188l-2-7M802 199l6 2 6 2 5 2 6 2 5 2 6 2 6 2 5 2M808 201l-1-7M817 204l-1-7M827 208l-1-7M836 211l-1-7M846 215l-1-7M648 286l6 0 6-1 6-2 5-2 6-2 6 1 6 2 5 3 3 2M648 286l-3-7M658 285l-5-6M668 282l-6-5M677 279l-4-6M687 281l0-7M695 286l2-7M497 100l5 4 5 3 5 4 4 3 5 4 5 3 5 4 5 3 3 2M497 100l1-7M505 106l1-7M513 112l1-7M521 118l1-7M529 124l1-7M538 129l1-7M151 200l6-1 6-1 6-1 6-1 6-1 6-1 6 0 6 0M155 199l-5-6M165 197l-5-6M175 196l-4-6M185 194l-4-6M195 194l-4-6M288 203l6 1 6 1 6 0 6 1 6 2 6 1 6 1 5 2 6 2 6 2 5 3 5 2 6 4 4 3 4 3M292 203l-3-7M302 205l-2-7M312 206l-2-7M322 208l-2-7M332 211l-2-7M341 214l-1-7M350 218l0-7M359 222l1-7M367 228l1-7M765 183l6 3 5 2 6 2 6 2 5 2 6 2 2 1M773 187l-1-7M782 190l-1-7M792 193l-1-7M358 362l6-1 5-2 6-1 6-2 6-1 6-2 5-2 6-1 2-1M366 360l-5-6M375 358l-5-5M385 355l-5-5M395 353l-5-5M404 350l-5-5M196 393l6 1 6 1 6 0 6 1 6 1 6 0 6 1 6 1 4 0M200 394l-3-7M210 395l-3-7M220 396l-3-7M230 397l-3-7M240 398l-3-7M591 303l6 1 5 1 6 1 6 2 6 1 6 1 6 0 6-1 6-2 5-2M597 304l-2-7M606 306l-2-7M616 308l-2-7M626 310l-3-7M636 309l-5-6M646 306l-6-5M153 323l6 0 6 0 6 1 6 0 6 0 6 0 6 1 6 0 6 0 6 1 6 0 6 1 4 0M153 323l-3-7M163 323l-3-7M173 324l-3-7M183 324l-3-7M193 324l-3-7M203 325l-3-7M213 326l-3-7M223 326l-3-7M544 411l4-5 4-4 5-3 5-3 6-1 6-1 6 0 6 2 4 1M548 406l-7-2M555 400l-6-4M564 396l-5-5M574 394l-3-7M584 395l-2-7M241 162l6 1 6 2 6 1 6 2 5 2 6 1 6 2 6 2M245 163l-2-7M255 165l-2-7M265 168l-2-7M274 171l-2-7M284 174l-1-7M159 364l6 1 6 0 6 0 6 1 6 0 6 1 6 0 6 1 6 1 6 0M159 364l-3-7M169 365l-3-7M179 366l-3-7M189 366l-3-7M199 367l-3-7M209 368l-3-7M601 133l5 3 5 3 5 3 6 3 5 3 5 3 5 3 6 3 5 2 5 3 6 3 5 3 5 3 5 3 4 2M603 134l0-7M611 139l0-7M620 144l0-7M629 149l0-7M637 154l0-7M646 159l0-7M655 163l0-7M664 168l0-7M673 173l0-7M600 272l6 0 6 1 6 1 5 2 6 1 6 2 6 1 6 2 6 0 4 0M604 272l-3-7M614 274l-2-7M623 276l-2-7M633 278l-2-7M643 281l-2-7M653 282l-3-7M460 345l6 0 6 0 6-1 6 0 6-1 6-1 5-2 5-3 4-5 3-5 3-6 3-5 4-4 5-4M466 345l-4-7M476 345l-4-6M486 344l-4-6M496 342l-5-5M505 338l-7-3M511 330l-7 0M516 321l-7 0M521 313l-7-2M475 355l6 1 6 1 6 0 6-1 6-2 4-4 3-6 2-5 3-6 2-5 3-5 4-5M479 356l-3-7M489 357l-3-7M499 356l-5-5M507 351l-7-1M513 343l7 0M517 333l7-1M521 324l-7 0M284 100l6 3 5 2 5 3 6 3 5 3 5 3 4 1M290 103l0-7M299 107l0-7M308 112l0-7M316 117l0-7M478 297l5-3 5-4 5-4 5-3 5-3 6-2 5-2 6-2 6-2 5-1 6-2 6-1M485 292l-7-3M493 286l-7-4M501 281l-6-4M510 277l-6-5M520 274l-5-5M530 271l-5-6M539 269l-5-6M701 289l2 6 2 6 1 5 0 4M703 295l5-5M705 304l6-4M479 100l5 3 5 3 5 4 4 4 5 3 5 4 5 3 5 4 5 3 5 4 3 2M479 100l1-7M487 105l1-7M495 111l1-7M503 117l1-7M511 123l1-7M520 129l1-7M528 135l1-7M810 195l6 1 5 2 6 1 6 2 6 2 5 2 6 2 6 2 5 2 6 2 5 2M814 196l-2-7M823 198l-2-7M833 201l-1-7M842 204l-1-7M852 208l-1-7M861 211l-1-7M871 215l-1-7M329 156l5 3 6 3 5 3 5 2 5 3 6 3 5 3 5 3M329 156l0-7M338 161l0-7M347 165l0-7M355 170l0-7M364 175l0-7M433 173l5 3 5 4 5 3 5 3 5 3 6 2 6 1 6 2 4 0M438 176l1-7M446 182l1-7M455 187l0-7M464 191l-1-7M474 193l-2-7M531 400l2-5 4-4 5-4 5-3 5-3 6-2 6-2 6-1 6 0 6 0M531 399l-7 0M537 391l-7-2M545 385l-6-4M554 380l-6-5M564 377l-5-6M574 376l-4-7M464 163l5 4 5 3 5 4 5 3 5 4 5 3 5 2 6 2 4 2M471 168l1-7M479 174l1-7M487 179l1-7M496 185l0-7M505 188l-1-7M708 379l1 6 2 5 2 6 2 6 2 5 1 4M708 379l5-5M711 388l5-5M714 398l5-5M717 407l5-5M249 153l6 2 5 1 6 2 6 2 5 2 6 2 6 2 5 2 4 1M253 154l-1-7M262 157l-1-7M272 160l-1-7M281 163l-1-7M291 167l-1-7M642 237l6 1 6 1 6 1 6 1 6 2 5 1 6 2 6 2 6 1 5 2 4 2M648 238l-3-7M658 240l-2-7M668 242l-2-7M677 244l-2-7M687 247l-1-7M697 250l-1-7M473 292l5-4 4-4 5-4 5-3 5-3 6-2 5-2 6-2 6-2 5-2 6-1 6-1 4-1M479 287l-7-3M487 280l-7-3M495 275l-6-4M504 271l-6-5M514 268l-5-5M523 265l-5-6M533 262l-5-6M659 397l1 6 1 6 1 2M660 405l6-5M374 233l5 4 4 4 4 4 4 5 3 5 4 5 2 3M377 235l2-7M384 242l3-7M391 250l3-7M397 258l4-6M150 190l6 0 6 0 6 0 6 0 6 0 4 0M154 190l-3-7M164 190l-3-7M174 190l-3-7M601 123l5 4 5 3 5 3 5 3 6 3 5 3 5 2 2 1M608 128l0-7M616 133l0-7M625 138l0-7M634 142l0-7M699 370l-1 6-2 6-1 6 0 6 1 6 1 6 2 5M699 372l7-2M696 382l7-2M695 392l7-4M696 402l5-5M608 185l6 2 6 1 6 2 6 1 6 1 4 0M614 187l-1-7M624 189l-2-7M634 191l-3-7M216 132l5 2 6 3 5 2 6 2 6 2 5 2 6 2 5 2 6 2 6 2 3 2M216 132l0-7M225 136l-1-7M234 140l-1-7M244 143l-1-7M253 147l-1-7M262 150l-1-7M272 153l-1-7M557 313l6-1 6 0 6 0 6 0 6 0 5 1 6 1 6 1 6 1 2 0M559 313l-4-6M569 312l-4-6M579 312l-3-7M589 312l-3-7M598 314l-2-7M608 316l-2-7M191 142l6 2 5 2 6 2 6 2 5 2 6 1 6 2 6 2 6 1 5 2 6 1 6 2M193 143l-1-7M202 146l-1-7M212 150l-1-7M221 152l-2-7M231 155l-2-7M241 158l-2-7M250 160l-2-7M664 342l5-3 5-4 5-4 4-3 5-4 5-4 4-4 4-4 1-6 0-2M667 340l-7-3M675 334l-7-3M683 328l-7-3M691 322l-7-3M699 315l-7-1M702 306l7-3M715 127l6 3 5 3 6 2 5 3 6 2 5 2 6 2 6 2 5 1 2 1M721 130l0-7M730 135l0-7M739 139l-1-7M748 142l-1-7M758 145l-1-7M232 265l6 1 6 0 6 0 6 1 5 0 6 1 6 1 6 0 6 1M236 265l-3-7M246 266l-3-7M256 267l-3-7M265 268l-3-7M275 269l-3-7M202 303l6-1 6 0 6 0 6 0 6 0 6 0 6 0 6 0 6 1 6 0 6 1 6 0 6 1 6 1 4 0M202 303l-4-6M212 302l-4-7M222 302l-4-7M232 302l-3-7M242 302l-3-7M252 303l-3-7M262 303l-3-7M272 304l-3-7M282 305l-3-7M631 112l6 4 5 3 5 3 5 2 5 3 6 3 5 3 5 3 4 2M633 113l0-7M642 119l0-7M650 124l0-7M659 128l0-7M668 133l0-7M607 338l6 1 5 2 6 1 6 0 6-3 5-3 5-3 2-1M611 339l-2-7M620 341l-2-7M630 342l-6-5M639 337l-6-4M810 352l1-6 0-6 1-6 1-6 1-6 0-6 1-6 1-6 1-5 0-6 0-6-3-6-4-4-2-1M811 346l7-3M812 336l7-3M813 326l7-3M814 316l7-3M816 306l7-3M817 297l7-3M817 287l5-5M811 278l2-7M437 290l1-6 1-6 1-6 1-6 1-6-1-6-2-5-3-5M438 284l7-3M439 274l7-2M441 264l7-2M441 254l5-5M437 245l4-7M256 99l5 3 5 3 5 3 6 2 5 3 5 3 6 3 5 2M263 103l0-7M271 108l0-7M280 112l0-7M289 117l0-7M364 292l5 3 5 3 5 4 5 3 5 4 4 4 5 4 4 4 3 3M364 292l0-7M373 297l1-7M381 303l1-7M389 309l2-7M396 316l2-7M404 323l2-7M371 207l5 3 5 3 4 4 5 4 5 4 4 4 4 5 4 4 4 5 3 4 2 4M374 209l0-7M382 215l1-7M390 221l2-7M397 228l2-7M404 235l3-7M411 243l3-7M472 160l4 3 5 4 5 3 5 4 5 3 5 3 5 3 6 3 5 2 6 2 4 1M478 164l1-7M486 170l1-7M494 176l1-7M503 181l0-7M512 186l-1-7M521 189l-2-7M216 217l6 0 6-1 6 0 6 0 6 0 6 0 6 0 6 1 4 0M224 216l-4-6M234 216l-4-7M244 216l-3-7M254 216l-3-7M264 217l-3-7M430 339l3-5 4-4 4-5 3-5 4-5 4-4 3-5 4-5 4-5 4-4M430 339l-7-1M436 331l-7-1M442 323l-7-1M448 315l-7-1M454 307l-7-1M460 300l-7-1M823 351l1-6 1-5 1-6 1-6 1-6 2-6 1-6 1-6 1-6 1-6-1-6-2-5-5-4-4-4-3-2M823 351l7-2M825 342l7-2M827 332l7-2M828 322l7-2M830 312l7-2M832 302l7-2M834 292l7-3M832 283l3-7M825 276l2-7M649 99l5 3 5 3 5 3 6 3 5 3 5 3 5 3 6 3 5 3 5 3 6 2 5 3M656 103l0-7M664 108l0-7M673 113l0-7M682 118l0-7M691 123l0-7M700 128l0-7M708 132l0-7M850 377l2-6 1-6 1-6 2-5 1-6 1-6 2-6 1-6 1-6 2-6M850 377l7-2M853 367l7-2M855 357l7-2M857 348l7-2M859 338l7-2M861 328l7-2M307 244l6 2 6 1 6 1 5 2 6 2 6 2 5 3 5 2 6 3 1 1M309 245l-2-7M319 247l-2-7M329 249l-1-7M338 253l-1-7M347 257l0-7M356 261l0-7M439 220l4 4 4 4 5 5 4 4 4 4 4 5 4 4-1 6-3 5-3 5-3 5-3 6-2 5-3 6M442 223l2-7M449 230l2-7M456 237l2-7M463 244l2-7M469 252l7-1M464 261l-7-1M459 270l-7 0M454 278l7 0M271 295l6 1 6 0 6 1 5 1 6 1 6 1 6 1 6 1 6 2 6 1 6 2 5 1 6 2 6 2 3 2M277 296l-3-7M287 297l-3-7M296 298l-2-7M306 300l-2-7M316 302l-2-7M326 304l-2-7M336 307l-2-7M345 310l-1-7M355 313l-1-7M769 350l1 6 1 6 1 6 1 6 1 6 0 6 1 5 1 6 1 6 0 6 0 2M770 356l6-4M772 366l6-4M773 376l6-4M774 386l6-4M776 395l6-4M777 405l6-4M190 380l6 1 6 0 6 1 6 1 6 0 6 1 6 1 5 0 6 1 6 1 6 1 6 1 6 1 2 0M190 380l-3-7M200 381l-3-7M210 382l-3-7M220 383l-3-7M230 384l-3-7M239 386l-3-7M249 387l-3-7M259 388l-3-7M363 183l5 3 6 2 5 3 6 2 6 1 5 2 6 2 6 2 5 2 6 3M366 185l0-7M375 189l-1-7M385 193l-1-7M394 195l-2-7M404 198l-1-7M413 202l0-7M212 321l6 0 6 1 6 0 6 1 6 0 6 1 6 1 6 0 6 1 6 1 4 1M214 321l-3-7M224 322l-3-7M234 323l-3-7M244 324l-3-7M254 325l-3-7M264 326l-3-7M274 327l-3-7M152 406l6 0 6 0 6 1 6 0 6 1 6 0 6 1 6 0 6 1 6 0 6 1 6 1M160 406l-3-7M170 407l-3-7M180 407l-3-7M190 408l-3-7M200 409l-3-7M210 410l-3-7M220 411l-3-7M467 116l5 4 5 3 5 4 4 3 5 4 5 3 5 4 5 3 5 4 5 3 5 4 5 3 5 3 5 4M469 117l1-7M477 123l1-7M485 129l1-7M493 135l1-7M501 141l1-7M509 147l1-7M517 152l1-7M526 158l1-7M534 163l1-7M241 221l6 0 6 0 6 0 6 0 6 1 6 0 6 1 6 1 6 0 6 1 5 1 6 1 4 1M249 221l-3-7M259 221l-3-7M269 222l-3-7M279 223l-3-7M289 224l-3-7M299 225l-2-7M308 227l-2-7M445 361l5 4 4 4 5 4 4 4 5 4 4 4 4 5 4 4 4 4 4 5 3 5 1 2M450 365l2-7M457 372l2-7M465 378l2-7M472 385l2-7M479 392l2-7M485 400l3-7M491 408l4-6M498 167l5 4 5 3 5 3 5 3 5 3 6 3 5 2 6 2 6 1 6 1 6 1 6 1M498 167l1-7M506 173l1-7M514 178l1-7M523 183l0-7M532 187l-1-7M542 190l-2-7M552 192l-2-7M562 193l-3-7M542 132l5 3 5 3 5 3 5 4 5 3 5 3 6 3 5 3 5 3 5 3M544 133l1-7M552 138l1-7M560 144l1-7M569 149l0-7M578 154l0-7M586 159l0-7M843 379l2-6 1-6 1-6 2-5 1-6 1-6 2-6 1-6 1-4M844 375l7-2M846 365l7-2M849 356l7-2M851 346l7-2M853 336l7-2M222 283l6-1 6 0 6 1 6 0 6 0 6 0 6 1 6 0 6 1 6 1M228 282l-4-7M238 283l-3-7M248 283l-3-7M258 283l-3-7M268 284l-3-7M278 285l-3-7M474 322l6-3 5-3 5-2 6-3 5-3 5-3 5-4 5-3 6-2M481 318l-6-4M490 314l-6-4M499 309l-6-4M508 304l-7-4M516 298l-6-4M571 233l6 1 6 1 6 0 6 1 6 1 6 0 6 1 6 1 3 0M571 233l-3-7M581 234l-3-7M591 236l-3-7M601 237l-3-7M611 238l-3-7M620 239l-3-7M206 361l6 1 6 0 6 1 6 1 6 1 6 0 6 1 6 1 6 1 6 1 6 1 6 0 3 1M214 362l-3-7M224 363l-3-7M234 364l-3-7M244 366l-3-7M254 367l-3-7M264 368l-3-7M274 370l-2-7M529 246l6 1 6 0 6 1 6 1 6 0 6 1 6 1 6 0 6 1 6 1 6 0 6 1M531 246l-3-7M541 247l-3-7M551 249l-3-7M561 250l-3-7M571 251l-3-7M581 252l-3-7M591 253l-3-7M426 111l5 3 5 4 5 3 5 4 5 3 5 4 5 3 5 4 4 3 5 4 3 2M431 114l1-7M440 120l1-7M448 126l1-7M456 132l1-7M464 138l1-7M472 144l1-7M852 402l2-6 1-6 1-6 2-6 1-6 1-5 2-6 1-6 1-6 2-6 1-6 1-6 2-5 1-6M853 398l7-2M856 388l7-2M858 378l7-2M860 369l7-2M862 359l7-2M864 349l7-2M867 339l7-2M869 330l7-2M225 203l6 0 6 0 6 0 6 0 6 0 6 0 6 1 6 0 6 1 6 0 6 1 6 1 6 1 6 1M225 203l-4-7M235 203l-4-7M245 203l-3-7M255 203l-3-7M265 204l-3-7M275 204l-3-7M285 205l-3-7M295 207l-3-7M305 208l-2-7M208 195l6-1 6 0 6 0 6 0 6 0 6 0 6 1 6 0 6 0 6 1 6 0 6 0M214 194l-4-7M224 194l-4-7M234 194l-3-7M244 194l-3-7M254 195l-3-7M264 195l-3-7M274 196l-3-7M417 201l5 2 5 3 5 4 4 4 3 3M420 202l0-7M429 208l1-7M436 214l2-7M152 176l6 0 6 0 6 1 5 0 6 1 6 0 2 0M152 176l-3-7M162 176l-3-7M171 177l-3-7M181 178l-3-7M321 215l6 1 6 2 5 1 6 3 5 2 6 3 5 3 4 4M327 216l-2-7M337 219l-1-7M346 222l0-7M355 227l1-7M363 233l1-7M396 410l3-5 2-6 3-5 2-6 3-5 2-6 2-5 3-6 2-5 3-5M400 403l7 0M404 394l7 0M408 385l7 0M412 376l7 0M416 366l7 0M420 357l7 0M396 137l5 3 5 4 4 3 5 4 5 3 5 4 5 3 5 4 5 4 4 3 5 4 5 3 5 4 2 1M397 138l1-7M406 144l1-7M414 150l1-7M422 155l1-7M430 161l1-7M438 167l1-7M446 173l1-7M454 179l1-7M269 114l5 3 6 3 5 2 6 3 5 3 5 2 6 3 5 3M273 116l0-7M282 121l0-7M291 125l0-7M300 130l0-7M308 134l0-7M198 296l6-1 6 0 6 0 6-1 6 0 6 0 6 0 6 0 4 1M198 296l-4-6M208 295l-4-6M218 294l-4-7M228 294l-4-7M238 294l-3-7M248 294l-3-7M399 151l5 3 5 3 5 4 5 3 5 4 2 1M403 153l1-7M411 159l1-7M419 164l1-7M832 410l1-6 2-6 1-6 1-5 1-6 2-6 1-6 1-6 1-6 2-6 1-6 1-3M833 408l7-2M835 398l7-2M837 389l7-2M839 379l7-2M841 369l7-2M843 359l7-2M845 349l7-2M593 400l5 4 4 4 3 3M600 405l2-7M582 279l6 0 6 1 6 0 6 1 6 1 6 2 5 1 6 2 6 1 6 1 6 0 2 0M586 279l-3-7M596 280l-3-7M606 281l-2-7M616 283l-2-7M625 286l-2-7M635 288l-2-7M645 289l-3-7M152 339l6 0 6 0 6 1 6 0 6 1 6 0 6 0 6 1 6 1 6 0 4 1M156 339l-3-7M166 339l-3-7M176 340l-3-7M186 341l-3-7M196 342l-3-7M206 343l-3-7M239 315l6 1 6 0 6 1 6 0 6 1 6 1 6 1 6 1 6 1 6 1 6 1M245 316l-3-7M255 317l-3-7M265 318l-3-7M275 319l-3-7M285 320l-2-7M295 322l-2-7M260 256l6 1 6 0 6 1 6 1 6 1 6 1 6 1 6 1 6 1 5 1 4 1M262 256l-3-7M272 257l-3-7M282 259l-3-7M292 260l-2-7M302 262l-2-7M312 264l-2-7M321 266l-2-7M405 243l4 5 3 5 3 6 1 5 2 6 1 6 1 6 1 6 1 6 1 6 1 6 1 6 0 4M409 248l3-7M414 257l5-6M417 266l6-5M419 276l6-5M421 286l6-5M423 296l6-4M424 306l6-4M554 109l5 3 5 4 5 3 5 4 5 3 5 3 5 3 5 3 5 3 6 3 5 3 5 3 5 3 6 3M554 109l1-7M562 115l1-7M571 120l1-7M579 126l1-7M587 131l0-7M596 136l0-7M605 141l0-7M613 146l0-7M622 151l0-7M472 250l6 0 6 0 6 0 6 0 6 0 6 0 6 1 4 0M474 250l-3-7M484 250l-4-7M494 250l-3-7M504 250l-3-7M514 251l-3-7M344 399l6-1 6-2 5-2 5-3 5-4 5-4 5-3 4-4 5-4 5-3 4-4 5-4M350 398l-5-6M359 395l-6-4M368 389l-7-3M376 383l-7-3M384 377l-7-3M392 371l-7-3M399 365l-7-3M424 409l0-6 0-6 1-6 0-6 0-6 0-6 0-6 1-6 0-6 0-4M424 407l7-3M424 397l7-3M425 387l7-3M425 377l7-3M425 367l7-3M426 357l7-3M785 108l5 3 6 3 5 3 5 3 5 3 5 3 5 3 5 3M789 110l0-7M797 115l0-7M806 120l0-7M814 125l0-7M823 130l0-7M369 249l4 4 5 5 4 4 3 5 4 5 4 4 3 5 4 5 1 2M373 253l2-7M380 261l3-7M387 268l3-7M393 276l3-7M399 284l3-7M539 221l6 1 6 1 6 1 6 1 6 0 6 1 6 1 2 0M547 223l-3-7M557 224l-3-7M567 225l-3-7M577 226l-3-7M610 261l6 1 5 1 6 1 6 2 6 1 6 2 5 2 6 1 6 2 6 0 6 0 6 1 4 2M614 261l-2-7M623 263l-2-7M633 266l-2-7M643 268l-2-7M652 271l-2-7M662 274l-3-7M672 274l-4-7M682 276l0-7M352 143l5 3 5 3 5 3 5 3 5 4 5 3 5 3M357 146l0-7M365 151l0-7M374 157l1-7M382 162l1-7M598 345l5 1 6 2 6 2 5 2 4 5 2 5 2 6 0 2M603 346l-2-7M613 349l-1-7M622 354l3-7M626 362l5-5M773 192l5 2 6 3 5 3 5 3 5 3 6 3 5 3 6 2 5 2 6 2 6 2 5 2M775 193l-1-7M784 197l0-7M793 202l1-7M801 207l0-7M810 212l-1-7M819 215l-1-7M829 219l-1-7M579 370l6 0 5 2 6 1 6 3 5 3 5 3 4 4 4 5 2 5 2 6 2 6 0 4M585 370l-2-7M594 373l-1-7M604 377l0-7M612 382l1-7M619 389l4-6M623 398l5-5M626 408l6-5M273 389l6 1 6 1 6 1 6 1 6 1 6 1 4 0M279 390l-2-7M289 391l-2-7M299 393l-2-7M309 395l-2-7M642 374l-1-6 3-5 5-4 5-3 5-4 4-4 5-3 5-4M641 370l7-3M646 361l-7-3M654 356l-7-3M662 350l-7-3M670 343l-7-3M443 201l5 2 6 3 5 3 5 3 5 3 6 3 5 2 6 2 6 1 5 2 6 1 6 1 4 1M447 202l-1-7M456 207l0-7M464 212l0-7M473 217l0-7M482 221l-1-7M492 223l-2-7M501 226l-2-7M511 227l-2-7M291 121l5 2 6 3 5 3 5 3 6 2 5 3 5 3 6 3 5 3 3 2M296 123l0-7M305 128l0-7M314 133l0-7M323 137l0-7M332 142l0-7M341 147l0-7M864 314l1-6 1-6 1-5 1-6 0-6-4-5-4-4-5-4-5-4-4-4M865 306l7-2M867 297l7-2M868 287l5-5M863 279l2-7M855 272l2-7M847 266l2-7M837 241l5 2 6 2 6 2 5 2 6 2 5 2 2 1M838 242l-1-7M848 245l-1-7M857 248l-1-7M867 252l-1-7M158 299l6 0 6-1 6 0 6-1 6-1 6 0M162 299l-4-6M172 298l-4-6M182 297l-4-6M192 296l-4-6M354 339l6 0 6 1 6 0 6 1 6 0 6 1 6 0 6 0M360 339l-3-7M370 340l-3-7M380 341l-3-7M390 342l-3-7M400 342l-3-7M708 100l5 2 6 3 5 3 5 3 6 3 5 3 5 2 5 3 2 1M710 100l0-7M719 105l0-7M728 110l0-7M736 115l0-7M745 119l0-7M590 139l6 4 5 3 5 3 5 2 5 3 6 3 5 3 5 3 6 3 5 3M597 144l0-7M606 149l0-7M615 153l0-7M623 158l0-7M632 163l0-7M641 168l0-7M521 411l1-6 1-6 1-5 2-6 2-6 4-4 5-4 3-2M522 409l7-3M523 399l7-2M525 390l7-1M530 381l-7-1M537 374l-7-4M316 261l5 1 6 1 6 2 6 2 5 2 6 2 5 2 6 3 5 3 5 3M321 262l-2-7M331 265l-2-7M341 267l-1-7M350 271l-1-7M359 275l0-7M368 280l1-7M367 235l5 4 4 4 4 4 4 5 4 5 1 1M372 239l2-7M379 246l2-7M385 253l3-7M152 306l6-1 6 0 6-1 6 0 6 0 6-1 6 0 4 0M160 305l-4-6M170 304l-4-6M180 304l-4-6M190 303l-4-6M694 255l5 2 5 3 5 4 5 4 4 4 2 1M694 255l-1-7M703 259l1-7M710 265l2-7M718 272l2-7M715 277l4 4 4 5 2 5 3 6 2 6 1 5M719 281l3-7M725 290l5-6M728 299l5-5M190 350l6 1 6 0 6 1 6 0 6 1 6 1 6 0 6 1 6 1 6 1 6 1 2 0M194 350l-3-7M204 351l-3-7M214 352l-3-7M224 353l-3-7M234 355l-3-7M244 356l-3-7M254 357l-3-7M659 411l-2-6-1-6-2-6-1-6-2-6 2-5 5-4 4-4 5-3 5-4 3-3M657 405l6-5M655 395l5-5M652 385l6-5M653 376l-7-2M661 370l-7-3M669 363l-7-3M530 167l5 3 5 3 6 3 5 3 5 3 6 3 5 2 6 1M532 168l1-7M540 173l0-7M549 179l0-7M558 183l-1-7M567 187l-1-7M679 100l5 3 5 2 5 3 6 3 5 3 3 2M680 101l0-7M689 105l0-7M698 110l0-7M707 115l0-7M817 168l5 3 5 4 5 3 5 3 5 3 6 3 5 1 6 2 6 1 6 1 2 0M822 171l1-7M830 177l1-7M839 182l0-7M848 187l-1-7M857 189l-2-7M867 191l-2-7M614 116l5 4 5 3 5 3 6 3 5 3 5 2 5 3 6 3 5 3 5 3 6 2 5 3 5 3 6 3M619 120l0-7M628 125l0-7M636 130l0-7M645 134l0-7M654 139l0-7M663 144l0-7M672 148l0-7M681 153l0-7M699 152l5 3 5 3 6 3 5 3 5 3 5 3 5 3 6 3 5 2 5 3 6 2 6 2 2 1M706 156l0-7M715 161l0-7M723 166l0-7M732 171l0-7M741 176l0-7M750 180l-1-7M759 184l-1-7M756 162l5 4 5 3 6 3 5 3 5 4 5 3 5 3 5 2 6 2 6 1M756 162l0-7M765 168l1-7M773 173l1-7M782 179l1-7M790 184l0-7M799 188l-1-7M180 99l5 4 5 3 6 3 5 3 5 3 5 3 6 2 5 3 5 3 6 2 3 2M180 99l1-7M189 105l0-7M197 110l0-7M206 115l0-7M215 120l0-7M224 124l0-7M233 128l0-7M726 205l5 1 6 2 5 3 6 2 6 2 5 2 6 1 6 2 4 1M733 207l-1-7M742 211l-1-7M752 214l-1-7M761 217l-1-7M771 220l-2-7M818 148l6 2 5 2 6 3 5 3 5 3 5 4 5 3 5 4 5 3 5 3 3 3M820 149l-1-7M829 152l-1-7M838 157l0-7M847 162l1-7M855 168l1-7M863 174l1-7M871 180l1-7M374 281l5 4 4 4 5 4 4 4 4 5 4 4 4 5 3 5 3 3M374 281l1-7M382 288l2-7M389 294l2-7M396 302l3-7M403 309l3-7M408 317l3-7M782 293l0 6 1 6 0 6 1 6 0 6 0 6 1 6 0 6 0 6 1 6 0 6 0 6 0 4M782 295l6-4M783 305l6-4M784 315l6-4M784 325l6-4M785 335l6-4M785 345l6-4M786 355l6-4M786 365l6-4M659 157l5 3 5 3 5 3 6 3 5 3 5 3 5 3 6 3 5 2 6 2 5 2 6 1 6 1 6 0M659 157l0-7M667 162l0-7M676 167l0-7M685 172l0-7M694 177l0-7M702 181l0-7M712 185l-1-7M721 188l-3-7M731 189l-3-7M662 134l5 2 6 3 5 3 5 3 6 2 5 3 2 1M669 137l0-7M678 142l0-7M687 146l0-7M406 342l6 0 6 1 2 0M406 342l-3-7M416 343l-3-7M531 309l6-2 6-1 5-2 6-1 6-1 6 0 6-1 6 0 2 0M535 308l-5-5M544 305l-5-6M554 303l-5-6M564 302l-4-6M574 301l-4-7M293 162l5 2 6 3 6 2 5 2 6 3 5 2 6 3 5 2 2 1M297 164l-1-7M306 167l-1-7M315 171l-1-7M324 175l0-7M333 179l0-7M737 367l2 6 1 5 2 6 2 6 2 6 1 5 2 6 1 4M739 374l5-5M742 384l5-5M745 394l5-5M748 403l5-5M641 303l6-2 5-2 6-3 5-3 5-3 5-3 6-3 1 0M643 302l-5-5M652 299l-6-4M661 294l-6-4M670 289l-6-4M679 284l-6-5M336 377l6 0 6-1 6-1 6-1 5-2 6-3 5-2 6-3 5-2 6-3M338 377l-4-7M348 376l-4-6M358 374l-5-5M367 371l-6-5M376 367l-6-5M386 363l-6-5M279 327l6 1 6 1 6 1 6 1 6 1 4 0M283 327l-2-7M293 329l-2-7M303 331l-2-7M265 378l6 1 6 1 6 1 5 1 6 1 6 0 6 1 6 1 6 1 6 1 6 1 6 0 6 0 6-1M267 378l-2-7M277 380l-2-7M287 381l-2-7M296 383l-2-7M306 384l-2-7M316 386l-3-7M326 387l-3-7M336 388l-3-7M346 387l-4-6M798 237l6 2 5 2 6 2 2 1M798 237l-1-7M807 240l-1-7M820 154l6 3 5 3 5 3 5 4 5 3 4 4 5 3 5 4 6 3 5 2 2 1M826 157l0-7M834 162l1-7M842 168l1-7M850 174l1-7M859 180l1-7M867 185l0-7M182 208l6-1 6-1 6 0 6-1 6 0 6 0 4-1M190 207l-4-6M200 206l-4-6M210 205l-4-6M220 204l-4-6M515 351l2-5 2-6 3-5 3-5 4-5 5-2 6-2 6-2 6-1 6-1 6-1 5-1 6 0 2 0M515 349l7-1M519 340l7-1M524 331l-7-1M531 324l-6-4M540 321l-5-5M550 318l-5-6M560 316l-4-6M569 315l-4-6M158 386l6 1 6 0 6 0 6 1 6 0 6 1 6 0 2 1M158 386l-3-7M168 387l-3-7M178 388l-3-7M188 388l-3-7M198 389l-3-7M451 336l6-2 6-2 5-2 6-2 6-2 5-2 6-3 5-2 5-3 6-3 4-4 5-4M455 335l-5-5M465 331l-6-5M474 328l-6-5M483 324l-6-5M493 320l-6-4M501 316l-6-4M510 310l-7-3M157 186l6 0 6 0 6 0 6 0 6 0 6 0 6 1 6 0 6 0 6 1 6 0 6 1 6 1 6 0 4 1M163 186l-3-7M173 186l-3-7M183 186l-3-7M193 186l-3-7M203 187l-3-7M213 188l-3-7M223 188l-3-7M233 189l-3-7M243 190l-3-7M293 352l6 1 6 1 6 1 6 1 5 1 6 1 6 0 6 1 6 0 6 0 6-1 6-1 6-1M297 353l-2-7M307 355l-2-7M317 356l-2-7M326 358l-3-7M336 359l-3-7M346 359l-4-7M356 358l-4-6M366 357l-5-6M530 156l5 3 5 3 6 3 5 4 5 3 5 3 5 3 5 2 6 3 5 2 6 2 6 2 6 1 2 0M535 159l1-7M544 164l0-7M552 170l0-7M561 175l0-7M570 180l0-7M579 184l-1-7M588 187l-2-7M598 190l-2-7M852 158l5 3 5 4 5 3 5 4 1 1M859 162l1-7M867 168l1-7M151 240l6 0 6-1 6 0 6 0 6-1 6 0 6 0 6 0 4-1M157 240l-4-6M167 239l-4-6M177 239l-4-6M187 238l-4-6M197 238l-4-6M477 339l5-2 6-1 6-2 6-2 5-3 4-4 4-5 3-5M480 338l-5-6M490 336l-5-5M500 332l-6-4M508 327l-7-2M514 319l-7-1M351 388l6-2 5-2 5-3 5-3 6-3 5-3 5-4M351 388l-5-6M360 385l-6-4M369 380l-6-4M378 375l-7-4M386 370l-7-4M310 325l6 1 6 1 6 2 5 1 6 1 6 1 6 1 6 1 6 1 6 1 6 1 2 0M312 325l-2-7M322 327l-2-7M331 329l-2-7M341 331l-2-7M351 333l-2-7M361 335l-2-7M371 336l-3-7M536 266l6-2 5-1 6-1 6 0 6-1 6 0 6 0 6 0 6 0 6 0 6 1 6 1M540 265l-5-6M549 263l-4-6M559 262l-4-6M569 261l-4-6M579 261l-4-7M589 261l-3-7M599 262l-3-7M214 258l6 1 6 0 6 0 6 0 6 0 6 1 6 0 6 1 6 0 6 1M222 259l-3-7M232 259l-3-7M242 259l-3-7M252 260l-3-7M262 261l-3-7M272 262l-3-7M801 412l1-6 0-6 0-6 1-6 0-6 1-6 0-6 1-6 0-6 0-6 1-6 1-6M802 404l7-3M802 394l7-3M803 384l7-3M804 374l7-3M805 364l7-3M805 354l7-3M806 344l7-3M828 134l6 3 5 2 6 2 5 2 6 3 5 2 6 3 5 2M832 136l0-7M841 140l-1-7M850 143l-1-7M860 147l-1-7M869 151l0-7M315 165l6 3 5 2 5 3 6 2 5 3 5 3 6 3 5 2 6 3 5 2 6 2 6 2M315 165l-1-7M324 169l0-7M333 174l0-7M342 178l0-7M351 183l0-7M360 187l0-7M369 191l-1-7M379 194l-2-7M459 284l3-5 3-5 4-5 4-4 5-4 4-4 5-3 6-1M463 277l-7-1M469 269l-7-2M476 262l-7-3M484 256l-7-4M647 323l5-4 5-3 5-3 5-4 5-3 5-4 5-4 5-3 5-3 5 0 0 2M647 323l-7-4M656 317l-7-3M664 311l-7-3M672 306l-7-3M680 300l-7-3M688 294l-7-4M697 292l6-5M269 243l6 0 6 1 6 1 6 1 6 0 6 1 5 1 6 2 6 1 6 1 6 2M273 243l-3-7M283 244l-3-7M293 246l-3-7M303 247l-2-7M312 249l-2-7M322 251l-2-7M332 254l-1-7M633 178l5 3 5 2 6 2 6 2 6 2 5 1 6 1 2 0M636 180l0-7M645 184l-1-7M655 187l-2-7M664 189l-2-7M234 341l6 1 6 0 6 1 6 1 6 1 6 1 6 1 6 1 6 1 6 1 6 1 6 1 5 0 6 1M242 342l-3-7M252 343l-3-7M262 345l-3-7M272 346l-2-7M282 348l-2-7M292 349l-2-7M302 351l-2-7M311 352l-2-7M535 342l6-3 5-1 6-2 6-1 6-1 6-1 6 0 6 0 6 1 6 1 6 1 3 1M542 339l-5-5M552 336l-5-6M562 334l-4-6M572 333l-4-7M582 333l-3-7M592 335l-2-7M602 336l-2-7M240 212l6 0 6 0 6 1 6 0 6 0 6 1 6 0 6 1 6 1 6 1 6 1 2 0M242 212l-4-7M252 212l-3-7M262 213l-3-7M272 213l-3-7M282 214l-3-7M292 216l-3-7M302 217l-2-7M552 100l5 4 5 3 5 3 5 4 5 3 1 1M559 105l1-7M567 110l1-7M575 116l1-7M573 144l5 3 5 3 6 3 5 3 5 3 5 3 6 3 5 2 5 3 5 3 6 3M575 145l0-7M583 150l0-7M592 155l0-7M601 160l0-7M610 165l0-7M618 169l0-7M627 174l0-7M448 358l5 4 5 3 5 3 5 4 5 3 5 3 5 4 5 3 5 4 3 5 2 5 2 6 0 2M451 361l1-7M460 366l1-7M468 372l1-7M477 377l1-7M485 383l1-7M493 389l2-7M498 397l5-5M559 411l5-3 5-2 6-1 6 1 6 2 5 3M566 407l-6-5M575 405l-3-7M585 407l0-7M429 350l3 5 2 6 1 1M429 350l4-6M433 359l4-6M586 226l6 1 6 1 6 0 5 1 6 1 4 0M592 227l-3-7M602 228l-3-7M611 229l-3-7M651 361l5-4 5-3 5-4 4-4 5-3 5-4 5-4 4-3 5-4 5-4 3-5 1-2M656 357l-7-3M664 351l-7-3M672 345l-7-3M680 339l-7-3M688 333l-7-3M696 327l-7-3M702 319l7-1M268 166l6 2 6 2 5 2 6 1 6 2 5 2 6 3 6 2 5 2 6 2 5 2 6 2M272 167l-1-7M282 170l-1-7M291 173l-1-7M300 177l-1-7M310 180l-1-7M319 184l-1-7M328 188l-1-7M479 277l5-3 5-3 5-3 6-3 5-2 6-2 6-2 5-1 6-1 4-1M481 276l-7-3M489 271l-6-4M498 266l-6-5M507 262l-6-5M517 259l-5-5M526 257l-5-6M798 179l5 3 5 3 6 2 5 2M801 181l0-7M810 186l-1-7M624 101l5 4 5 3 6 3 5 3 5 3 5 3 5 3 6 3 5 2 5 3 4 2M624 101l1-7M633 107l0-7M641 112l0-7M650 117l0-7M659 122l0-7M667 127l0-7M676 131l0-7M268 100l5 2 5 3 6 3 5 3 5 3 2 1M271 102l0-7M280 106l0-7M289 111l0-7M415 99l5 3 5 4 5 3 5 3 3 3M415 99l1-7M423 105l1-7M432 110l1-7M589 100l5 3 5 3 5 4 5 3 3 2M589 100l1-7M597 105l1-7M605 111l1-7M389 197l6 2 5 2 6 2 5 3 5 4 4 4 5 4 4 4 4 5M389 197l-2-7M399 200l-1-7M408 204l0-7M416 210l2-7M423 217l2-7M430 224l2-7M476 117l5 3 5 4 5 3 5 4 5 3 5 4 4 3 5 4 4 2M480 119l1-7M488 125l1-7M496 131l1-7M504 137l1-7M512 143l1-7M262 147l6 2 5 2 6 3 5 2 6 2 6 2 5 2 6 3 5 2 2 1M268 149l-1-7M277 153l-1-7M286 156l-1-7M296 160l-1-7M305 164l-1-7M600 243l6 1 6 1 6 0 6 1 6 1 6 0 6 1M604 244l-3-7M614 245l-3-7M624 246l-3-7M634 247l-3-7M433 208l4 3 5 4 4 4 5 4 4 4 5 4 5 4 5 3 5 2 6 2 6 1 2 0M439 213l2-7M446 219l2-7M454 226l2-7M462 232l1-7M470 238l0-7M479 242l-2-7M326 99l5 3 6 3 5 3 5 3 5 3 4 2M333 103l0-7M342 108l0-7M351 113l0-7M751 99l6 3 5 3 5 3M753 100l0-7M762 105l0-7M151 105l5 3 5 3 5 4 5 3 6 3 5 3M153 106l1-7M161 111l1-7M170 117l0-7M178 122l0-7M151 357l6 0 6 1 6 0 6 0 6 1 6 0 6 1 6 0 4 1M155 357l-3-7M165 358l-3-7M175 358l-3-7M185 359l-3-7M195 360l-3-7M288 288l6 1 6 1 6 1 6 1 6 1 6 2 5 1 6 2 6 2 6 1 5 2 6 3M294 289l-2-7M304 291l-2-7M314 293l-2-7M324 295l-2-7M333 297l-2-7M343 300l-1-7M352 303l-1-7M340 290l6 2 5 2 6 2 5 3 6 2 5 3 5 4 5 3 5 3M346 292l-1-7M355 295l-1-7M364 299l0-7M373 304l0-7M381 310l1-7M503 206l6 1 6 1 6 1 6 1 6 1 6 1 6 1 6 1 6 1 2 0M505 206l-2-7M515 208l-2-7M525 210l-2-7M535 212l-2-7M545 213l-3-7M555 215l-3-7M644 349l5-4 5-3 5-4 5-3 5-4 4-4 5-3 5-4 5-4 1-1M651 344l-7-3M659 338l-7-3M667 332l-7-3M675 326l-7-3M683 320l-7-3M308 124l6 2 5 3 5 3 5 3 6 3 5 3 5 3 5 3 4 2M314 126l0-7M322 131l0-7M331 136l0-7M340 141l0-7M349 146l0-7M513 100l5 3 5 4 5 3 5 4 5 3 3 2M513 100l1-7M521 105l1-7M530 111l1-7M538 117l1-7M651 227l6 1 6 1 6 2 6 1 5 2 6 1 6 2M653 228l-2-7M663 229l-2-7M673 232l-2-7M682 234l-2-7M645 168l5 3 6 3 5 3 5 3 6 2 2 1M650 171l0-7M659 176l0-7M668 180l0-7M820 336l1-6 1-6 1-6 1-6 1-5 1-6 0-6 1-6-2-6-4-4-5-4-4-4-5-4-1-1M821 328l7-2M823 318l7-2M824 308l7-2M826 299l7-3M827 289l6-4M822 280l2-7M815 273l2-7M807 267l2-7M322 121l5 3 6 3 5 3 5 3 5 3 5 3 6 3 5 3 5 3 5 3 1 1M324 122l0-7M333 127l0-7M341 132l0-7M350 137l0-7M359 142l0-7M367 147l1-7M821 391l1-6 1-6 1-6 1-6 1-6 1-6 1-6 1-6 1-4M821 389l7-2M823 379l7-2M824 369l7-2M826 359l7-2M828 349l7-2M229 165l6 2 6 1 6 1 5 1 6 2 6 1 4 1M233 166l-2-7M243 168l-2-7M252 170l-2-7M262 173l-2-7M689 203l5 2 6 2 6 2 5 3 5 3 4 4 5 4 5 3 5 3 6 2 5 2 2 1M696 205l-1-7M706 209l0-7M714 214l1-7M722 220l1-7M730 226l0-7M739 231l-1-7M452 100l5 3 5 3 5 4 5 3 1 2M454 101l1-7M462 106l1-7M470 112l1-7M439 203l5 2 5 4 5 3 5 4 5 3 5 3 5 3 6 2 5 2 6 1 6 1 6 1 6 1 2 1M441 203l0-7M449 209l1-7M457 215l1-7M465 220l0-7M474 225l-1-7M484 228l-2-7M493 231l-2-7M503 232l-2-7M152 380l6 0 6 0 6 1 6 0 6 1 4 0M156 380l-3-7M166 380l-3-7M176 381l-3-7M429 363l0 6 1 5 1 6 1 6 1 6 0 6 1 6 1 6M430 371l6-4M431 380l6-4M432 390l6-4M434 400l6-4M701 375l1 6 1 6 2 6 2 6 2 5 2 6 0 2M702 383l6-5M705 393l5-5M708 402l5-5M580 120l5 3 6 3 5 3 3 2M585 123l1-7M594 128l0-7M803 103l5 3 6 3 5 3 5 3 5 4 5 3 5 3 5 3 5 4 5 3 4 1M808 106l0-7M817 111l0-7M826 116l1-7M834 122l1-7M842 127l1-7M851 133l0-7M597 164l5 2 5 3 6 3 5 3 5 3 6 3 5 2 6 2 5 2M597 164l0-7M606 168l0-7M614 173l0-7M623 178l0-7M632 182l-1-7M641 186l-1-7M552 242l6 1 6 1 6 0 6 1 5 1 6 0 6 1 6 1 6 0 6 1 4 1M556 243l-3-7M566 244l-3-7M576 245l-3-7M585 246l-3-7M595 247l-3-7M605 248l-3-7M391 162l5 4 5 3 5 3 5 4 5 3 5 4 5 3 5 3 4 1M398 167l1-7M406 172l1-7M414 178l1-7M423 184l0-7M431 189l-1-7M560 269l6-1 6 0 6 0 6 0 6 0 6 0 2 1M562 269l-4-6M572 268l-4-6M582 268l-3-7M592 268l-3-7M833 338l1-6 1-6 1-6 1-6 2-6M834 330l7-2M836 320l7-2M838 310l7-2M441 348l6 2 6 2 6 1 5 2 6 2 2 0M445 350l-2-7M455 352l-2-7M464 355l-2-7M426 130l5 4 5 3 4 4 5 3 5 4 5 3 5 4 5 3 4 4 5 4 5 3 5 4M431 134l1-7M439 139l1-7M447 145l1-7M455 151l1-7M463 157l1-7M471 163l1-7M479 169l1-7M548 324l6-1 6-1 5-1 6 0 6 0 6 0 6 1 6 0 6 1 6 2 6 1 6 1M556 322l-5-6M565 321l-4-6M575 321l-3-7M585 321l-3-7M595 322l-2-7M605 324l-2-7M615 326l-2-7M186 175l6 0 6 1 6 0 6 1 6 0 6 1 5 1 6 1 6 1 6 1 6 1 2 0M194 175l-3-7M204 176l-3-7M214 177l-3-7M224 178l-3-7M233 180l-3-7M243 181l-2-7M266 235l6 1 6 0 6 1 6 1 5 1 6 0 6 1 6 2 4 0M266 235l-3-7M276 236l-3-7M286 237l-3-7M295 239l-3-7M305 240l-2-7M315 242l-2-7M388 174l5 3 5 4 5 3 5 3 5 2 6 3 6 1 2 1M388 174l1-7M396 180l1-7M405 185l0-7M413 189l-1-7M423 193l-2-7M307 154l6 3 5 2 6 3 5 2 5 3 6 3 5 3 2 1M307 154l0-7M316 158l0-7M325 163l0-7M334 167l0-7M343 172l0-7M174 114l5 3 6 3 5 3 5 3 6 3 5 2 5 3 6 2 5 2 6 3 4 1M174 114l0-7M183 119l0-7M192 124l0-7M201 129l0-7M210 133l-1-7M219 137l-1-7M228 141l-1-7M707 255l6 3 4 3 5 4 5 4 4 4 5 4 4 4 3 3M714 259l1-7M722 265l2-7M730 272l2-7M737 278l2-7M161 252l6 0 6 0 6 0 6 0 6 0 6 0 6 0 6 0 6 0 6 0 6 1 6 0M165 252l-4-7M175 252l-4-7M185 252l-4-7M195 252l-4-7M205 252l-3-7M215 252l-3-7M225 253l-3-7M635 205l6 1 6 0 6 1 5 1 6 1 2 1M643 206l-3-7M653 207l-2-7M662 209l-2-7M613 226l6 1 6 1 6 0 6 1 6 1 6 0 5 1 6 1 4 1M615 227l-3-7M625 228l-3-7M635 229l-3-7M645 230l-3-7M654 231l-2-7M707 345l0-6 1-6 0-6M707 345l7-3M707 335l7-3M827 264l5 4 5 3 4 4 5 4 3 5 2 6-1 6-1 6-2 5 0 2M829 265l2-7M837 271l2-7M844 278l2-7M850 286l6-5M850 296l7-2M848 306l7-2M610 372l5 3 4 4 3 5 3 6 1 6 2 5 0 2M612 373l1-7M619 379l3-7M624 388l5-6M627 398l6-5M840 412l2-6 1-6 1-6 2-6 1-6 1-4M840 412l7-2M843 402l7-2M845 392l7-2M847 382l7-2M493 242l6 1 5 0 6 1 6 1 6 0 4 1M493 242l-3-7M502 243l-3-7M512 244l-3-7M522 245l-3-7M531 282l6-2 6-1 6-1 6-1 6-1 6-1 6 0 6 0 6 0 6 0 2 0M539 280l-5-6M549 278l-5-6M559 276l-4-6M569 275l-4-6M579 275l-4-7M589 275l-3-7M739 285l3 5 3 5 1 6 2 6 2 6 1 5 2 6 1 4M741 286l4-6M745 295l5-5M748 305l5-5M750 315l6-5M753 324l6-5M508 282l6-2 6-2 5-2 6-1 6-2 6-1 6-1 6-1 2 0M512 281l-6-5M521 277l-5-5M531 275l-5-6M541 272l-5-6M551 271l-4-6M251 401l6 1 6 1 6 1 6 1 6 1 6 1 6 1 3 0M253 402l-3-7M263 403l-3-7M273 405l-2-7M283 406l-2-7M293 408l-2-7M228 289l6 0 6 0 6 1 6 0 6 0 6 1 6 0 6 1 6 0 6 1 6 1 6 1 4 1M228 289l-4-7M238 289l-3-7M248 290l-3-7M258 290l-3-7M268 291l-3-7M278 292l-3-7M288 293l-3-7M298 295l-2-7M706 355l0 6 1 6 1 6 2 4M706 359l6-4M708 369l6-5M348 209l6 2 5 3 5 3 5 4 5 3 5 4 4 4 5 4 4 5 4 4 2 3M356 212l0-7M364 217l1-7M373 223l1-7M380 229l2-7M388 236l2-7M394 244l3-7M162 331l6 0 6 1 6 0 6 0 6 1M168 331l-3-7M178 332l-3-7M188 332l-3-7M748 345l1 6 2 5 1 6 2 6 0 2M749 349l5-5M751 358l6-5M754 368l6-5M601 101l5 3 5 4 5 3 5 3 5 3 5 3 6 3 5 3 5 3 5 3M606 104l1-7M614 110l1-7M623 115l0-7M631 120l0-7M640 125l0-7M649 130l0-7M290 131l5 3 6 3 5 2 6 3 5 3 5 2 6 3 5 3M294 133l0-7M303 138l0-7M312 142l0-7M321 146l0-7M329 151l0-7M431 332l2-5 2-6 2-5 2-6 3-6 2-5 2-6 1-4M434 325l7-1M437 316l7-1M441 306l7-1M444 297l7-1M612 100l5 3 5 3 5 4 2 1M615 102l1-7M623 108l1-7M383 208l5 4 5 4 4 3 4 5 5 4 4 4 4 5 3 5 4 4 2 4M385 210l1-7M393 216l2-7M400 222l2-7M407 229l2-7M414 237l3-7M420 245l3-7M832 100l5 3 5 3 5 3 6 3 5 4 5 3 5 3 4 4M832 100l0-7M841 105l0-7M849 110l1-7M858 116l1-7M866 121l1-7M220 309l6 0 6 0 6 0 6 0 6 1 2 0M226 309l-3-7M236 309l-3-7M246 309l-3-7M565 197l6 1 6 0 6 1 6 1 6 0 6 1 6 1 6 0 6 1 6 1 4 0M573 198l-3-7M583 199l-3-7M593 200l-3-7M603 201l-3-7M613 202l-3-7M623 203l-3-7M743 198l6 1 6 1 6 2 5 2 6 3 5 3 5 4 4 3 5 3 6 3 6 2 5 2 6 2 6 2M745 198l-3-7M755 200l-2-7M765 203l-1-7M773 208l1-7M782 214l1-7M790 219l0-7M799 223l-1-7M808 227l-1-7M818 230l-1-7M456 379l4 5 4 5 3 4 4 5 4 5 3 5 2 3M457 381l3-7M464 389l3-7M470 397l3-7M476 405l4-7M507 127l5 4 4 3 5 4 5 3 5 4 5 3 4 2M510 130l1-7M518 135l1-7M526 141l1-7M535 147l1-7M514 235l6 1 6 1 6 0 6 1 5 1 6 0 6 1 6 1M516 235l-3-7M526 237l-3-7M536 238l-3-7M545 239l-3-7M555 240l-3-7M723 305l2 5 2 6 2 6 1 6 2 5 2 6 1 6 1 2M726 312l5-5M729 322l5-5M731 332l5-5M734 341l5-5M202 372l6 1 5 1 6 0 6 1 6 1 6 0 6 1 2 0M204 372l-3-7M213 374l-3-7M223 375l-3-7M233 376l-3-7M243 377l-3-7M563 99l4 4 5 3 5 3 5 4 5 3 5 3 2 1M567 103l1-7M576 108l1-7M584 114l1-7M592 119l1-7M741 253l5 2 6 3 4 4 5 4 5 3 4 4 5 4 3 3M741 253l-1-7M750 257l0-7M758 263l2-7M766 269l2-7M773 276l2-7M232 329l6 1 6 1 6 0 4 1M240 330l-3-7M250 331l-3-7M209 404l6 1 6 1 6 0 6 1 6 1 6 1 6 0 6 1M211 405l-3-7M221 406l-3-7M231 407l-3-7M241 408l-3-7M251 409l-3-7M224 273l6 0 6 0 6 1 6 0 6 0 6 1 6 0 6 1 6 0 6 1 4 1M228 273l-3-7M238 273l-3-7M248 274l-3-7M258 275l-3-7M268 275l-3-7M278 276l-3-7M374 312l6 3 5 3 5 4 5 3 5 3 5 3 5 3 5 3 4 2M378 314l0-7M386 319l0-7M395 325l0-7M403 330l1-7M412 335l1-7M150 370l6 0 6 0 6 1 6 0 6 0 4 1M150 370l-3-7M160 370l-3-7M170 371l-3-7M180 371l-3-7M579 140l5 3 5 3 5 4 5 2 6 3 5 3 3 2M584 143l0-7M592 149l0-7M601 153l0-7M610 158l0-7M857 410l2-5 1-6 1-6 2-6 1-6 1-6 2-6 1-5 1-6M858 408l7-2M860 399l7-2M862 389l7-2M864 379l7-2M867 369l7-2M869 360l7-2M783 151l5 2 6 2 5 2 5 3 5 4 5 3M784 151l-1-7M794 155l0-7M803 159l0-7M811 165l1-7M168 104l5 4 6 3 5 3 5 3 5 3 5 3 6 2 2 1M170 106l1-7M179 111l0-7M187 116l0-7M196 121l0-7M205 125l0-7M692 167l5 3 5 3 5 3 6 3 5 3 5 2 6 2 2 0M692 167l0-7M700 172l0-7M709 177l0-7M718 182l-1-7M727 185l-2-7M745 369l1 5 2 6 2 6 1 6 2 6 1 5 2 6 0 2M746 372l5-5M749 382l5-5M751 392l6-5M754 401l6-5M516 122l4 4 5 3 5 3 5 4 5 3 5 4 5 3 5 3 5 3 5 3 6 3 5 3 5 3 5 3 4 2M516 122l1-7M524 128l1-7M532 134l1-7M540 139l1-7M549 145l1-7M557 150l1-7M565 155l0-7M574 160l0-7M583 165l0-7M652 200l6 1 6 1 6 1 6 1 5 2 6 1 6 2 6 2 3 2M654 200l-3-7M664 202l-2-7M674 204l-2-7M683 206l-1-7M693 209l-1-7M367 125l5 3 5 3 5 3 5 4 5 3 5 3 5 4 5 3 5 4 2 1M374 129l1-7M382 134l1-7M391 140l1-7M399 146l1-7M407 151l1-7M753 151l6 2 5 2 5 3 6 3 5 3 5 3 5 4 5 3 3 3M757 152l-1-7M766 156l0-7M775 161l0-7M783 166l1-7M791 172l1-7M764 250l6 2 6 1 5 3 6 3 4 3 5 4 4 4 5 4M766 250l-2-7M776 253l-1-7M785 258l1-7M793 264l2-7M800 270l2-7M740 268l5 3 4 4 5 4 4 5 3 5 2 6 1 6 1 5 1 6 1 6M742 269l2-7M749 275l2-7M757 282l3-7M762 291l5-5M764 301l6-5M766 310l6-5M292 265l6 1 6 1 6 1 6 1 6 1 5 2 6 1 6 2 6 2 5 2 6 3 5 2 4 2M296 265l-2-7M306 267l-2-7M316 269l-2-7M326 271l-2-7M335 274l-1-7M345 277l-1-7M354 281l-1-7M363 285l0-7M622 329l6 0 6-2 6-2 3-2M622 329l-3-7M632 328l-5-5M642 324l-6-4M662 100l5 3 6 3 5 3 5 3 5 3 6 2 5 3 2 1M664 101l0-7M673 106l0-7M681 111l0-7M690 115l0-7M699 120l0-7M406 412l1-6 2-6 2-6 1-5 2-6 2-6 2-6 1-3M406 412l7-1M408 402l7-1M411 392l7-1M414 383l7-1M417 373l7-1M844 148l6 2 5 3 5 3 5 3 2 1M848 149l-1-7M857 154l0-7M865 159l1-7M689 141l6 3 5 2 5 3 6 2 5 3 6 3 5 3 5 3 5 3 5 3M691 142l0-7M700 146l0-7M709 151l0-7M718 155l0-7M727 160l0-7M735 165l0-7M678 192l6 1 6 1 6 1 6 1 6 1 6 1 5 1 6 0 2 0M684 193l-3-7M694 195l-2-7M704 196l-2-7M714 198l-2-7M723 199l-3-7M151 150l5 2 6 2 6 1 6 2 5 1 6 2 2 0M153 150l-1-7M162 154l-1-7M172 156l-2-7M181 159l-2-7M497 153l4 3 5 4 5 3M500 155l1-7M508 161l1-7M634 378l1 6 2 6 1 6 1 6 1 6 1 4M634 378l6-5M636 388l6-5M638 398l6-5M640 408l6-5M522 342l3-5 4-4 5-3 6-2 4-2M523 340l-7 0M529 333l-7-4M538 328l-6-5M698 266l4 4 5 4 4 4M698 266l1-7M705 273l1-7M466 359l6 2 6 2 5 2 6 1 6 1 6 0 5-4 3-5 2-5M472 361l-1-7M481 364l-1-7M491 367l-2-7M501 367l-6-4M508 360l-7 0M682 411l0-6 1-6 3-5 3-5 3-3M682 411l6-4M683 401l7-2M687 392l-7-2M447 133l5 3 5 4 5 4 5 3 5 4 4 3 5 4 5 3 5 4 3 2M454 138l1-7M462 144l1-7M470 149l1-7M478 155l1-7M486 161l1-7M417 118l5 3 5 3 5 4 5 3 4 4 5 3 5 4 5 3 5 4 5 4 4 3 2 1M418 119l1-7M427 124l1-7M435 130l1-7M443 136l1-7M451 142l1-7M459 148l1-7M467 154l1-7M151 246l6 0 6-1 6 0 6 0 4 0M159 246l-4-7M169 245l-4-7M152 293l6 0 6-1 6-1 6 0 6-1 5-1 6 0 6-1 2 0M160 292l-4-6M170 291l-4-6M180 290l-4-6M189 289l-4-6M199 288l-4-6M828 246l5 2 6 2 5 2 6 2 6 3 5 3 4 4 5 4 3 2M831 247l-1-7M841 251l-1-7M850 254l-1-7M859 259l1-7M867 265l2-7M539 112l5 3 5 4 5 3 5 4 4 3 6 3 5 4 3 2M544 115l1-7M552 121l1-7M560 127l1-7M569 132l1-7M618 318l6 1 6 0 5-1 6-2 5-3 6-3 5-3 5-3 5-4 5-3 3-2M618 318l-2-7M628 319l-4-6M637 317l-6-5M646 313l-6-4M655 308l-7-4M663 302l-7-4M672 297l-7-3M852 216l5 2 6 3 6 2 3 1M854 217l-1-7M863 221l-1-7M402 250l3 5 3 6 2 5 2 6 1 6 2 5 2 6 1 4M403 252l3-7M408 261l5-6M411 270l5-5M414 280l5-5M417 289l5-5M688 267l5 4 4 3 5 4 4 4 4 5 3 5 2 6 2 5 2 6 1 6 2 6 1 5 2 6 2 6M694 272l1-7M702 278l2-7M709 285l3-7M714 294l5-6M717 303l5-5M720 313l5-5M722 323l5-5M725 332l5-5M218 346l6 1 6 0 6 1 6 1 6 1 6 0 6 1 6 1 6 1M226 347l-3-7M236 348l-3-7M246 349l-3-7M256 351l-3-7M266 352l-2-7M151 207l6-1 6-1 6 0 6-1 6-1 6 0 6-1 6 0 2-1M153 207l-4-6M163 205l-4-6M173 204l-4-6M183 203l-4-6M193 202l-4-6M459 201l6 2 6 2 5 3 6 2 5 2 6 2 6 1 6 2 6 1 2 0M465 203l-1-7M474 207l-1-7M484 211l-1-7M493 214l-2-7M503 216l-2-7M438 333l5-4 4-4 5-4 4-4 5-4 4-4 5-4 4-4 2-1M438 333l-7-3M446 326l-7-3M453 320l-7-3M461 313l-7-3M468 306l-7-3M441 225l4 5 4 4 4 5 4 4 3 5 2 6-2 6-3 5-2 5-3 6-1 4M441 225l2-7M448 233l3-7M454 240l3-7M460 248l4-6M461 258l7-1M456 267l7 0M452 276l7-1M388 412l3-5 3-5 3-6 2-5 3-5 2-4M389 410l-7 0M394 402l-7 0M398 393l-7 0M403 384l-7 0M692 99l6 3 5 3 5 3 5 3 6 2 5 3 5 3 6 3 1 1M692 99l0-7M701 104l0-7M710 109l0-7M719 113l0-7M727 118l0-7M431 363l2 6 2 5 1 6 2 6 2 6 1 6 2 5 1 6 1 2M434 371l5-5M436 380l5-5M439 390l5-5M442 399l5-5M444 409l5-5M788 133l6 2 5 2 2 1M790 134l-1-7M799 137l-1-7M404 136l5 3 5 4 5 3 4 4 5 3 5 4 5 3M404 136l1-7M412 141l1-7M420 147l1-7M428 153l1-7M436 159l1-7M296 345l6 1 6 1 6 1 6 1 6 1 6 1 4 1M304 347l-2-7M314 348l-2-7M324 350l-3-7M334 351l-3-7M249 377l6 1 6 1M253 378l-3-7M431 140l4 3 5 4 5 4 5 3 5 4 5 3 1 1M437 145l1-7M445 151l1-7M453 157l1-7M817 158l5 3 5 4 4 3 5 4 5 3 5 4 5 3 6 3M823 163l1-7M831 168l1-7M840 174l1-7M848 180l1-7M490 219l5 1 6 2 6 1 6 1 6 1 6 1 6 1 6 1 6 0 6 1M497 221l-2-7M507 223l-2-7M517 225l-2-7M527 226l-3-7M537 228l-3-7M547 229l-3-7M689 159l5 3 5 3 5 3 5 3 4 2M692 161l0-7M701 166l0-7M709 171l0-7M811 100l5 3 5 3 5 3 5 3 4 2M817 104l0-7M826 109l0-7M243 247l6 0 6 1 6 0 6 1 6 0 6 1 6 1 6 0 6 1 6 1 6 1 6 1M249 247l-3-7M259 248l-3-7M269 249l-3-7M279 250l-3-7M289 251l-3-7M299 253l-2-7M309 254l-2-7M767 386l1 6 1 6 1 6 1 5 0 2M767 386l6-5M768 396l6-5M770 406l6-4M504 99l5 4 5 3 5 4 5 3 5 4 3 2M504 99l1-7M513 105l1-7M521 111l1-7M529 117l1-7M441 377l2 6 3 5 2 6 2 5 3 6 2 5M442 381l5-6M446 390l5-6M450 399l5-6M454 408l5-6M667 412l-1-6-1-6-1-6 0-6 4-5 4-4 4-4 5-4 5-4 4-4 5-3 4-5 1-1M666 408l6-5M664 398l6-4M664 388l7 0M670 380l-7-2M678 374l-7-3M686 367l-7-3M694 361l-7-3M740 123l5 3 5 3 5 2 6 3 5 2 6 2 6 2 6 2 5 2M745 126l0-7M754 131l0-7M763 135l-1-7M772 138l-1-7M782 141l-2-7M696 129l5 3 5 3 6 3 5 2 4 2M697 130l0-7M706 135l0-7M715 139l-1-7M152 350l6 0 6 0 6 1 6 0 6 0 2 1M154 350l-3-7M164 350l-3-7M174 351l-3-7M604 287l6 1 5 2 6 1 6 2 2 0M610 288l-2-7M619 291l-2-7M446 163l4 4 5 3 5 4 5 3 5 4 5 3 5 3 6 2M446 163l1-7M454 169l1-7M462 175l1-7M470 181l1-7M478 186l0-7M481 148l5 4 4 3 5 4 5 3 5 4 5 3 5 3 5 4 5 3 5 3 4 2M484 151l1-7M492 156l1-7M500 162l1-7M509 168l1-7M517 173l1-7M525 179l0-7M680 221l5 2 6 2 6 1 5 2 6 3 5 2 6 3 5 2 4 2M680 221l-2-7M689 224l-1-7M699 227l-1-7M708 231l-1-7M717 235l0-7M726 239l-1-7M234 100l5 3 5 3 5 3 6 3 5 2 5 3 6 3 5 2 5 3 2 1M235 101l0-7M244 106l0-7M253 111l0-7M262 115l0-7M271 120l0-7M280 124l0-7M754 239l6 1 6 0 6 1 6 1 5 1 6 2 6 2 6 2 5 2 6 2 5 2 6 3 3 2M762 240l-3-7M772 241l-3-7M781 243l-2-7M791 245l-1-7M801 249l-1-7M810 252l-1-7M819 256l0-7M369 100l5 3 6 3 5 3 5 3 5 3 2 1M373 102l0-7M381 107l0-7M390 112l0-7M205 227l6 0 6 0 6-1 6 0 6 0 6 0 6 0 6 1M211 227l-4-6M221 227l-4-7M231 226l-4-7M241 226l-3-7M251 227l-3-7M292 304l6 1 6 2 6 1 6 1 6 1 6 1 6 2 1 0M300 306l-2-7M310 308l-2-7M320 310l-2-7M330 312l-2-7M712 204l5 3 5 3 5 4 5 3 5 4 5 2 6 2 6 2 6 1 6 1 4 0M716 206l0-7M724 211l1-7M732 217l1-7M741 222l0-7M750 226l-1-7M760 228l-3-7M379 274l5 5 4 4 4 4 4 5 4 5 3 5 3 5 1 1M382 277l2-7M389 284l2-7M396 292l3-7M402 300l3-7M151 257l6 0 6 0 6-1 6 0 6 0 6 0 4 0M159 257l-4-6M169 256l-4-6M179 256l-4-7M189 256l-4-7M599 231l6 1 6 1 6 0 5 1 6 1 6 0 4 1M607 232l-3-7M617 233l-3-7M626 234l-3-7M636 235l-3-7M489 189l6 2 6 1 6 1 6 1 6 1 6 1 2 0M497 191l-2-7M507 193l-2-7M517 195l-3-7M587 357l6 1 6 2 6 2 5 2 5 3 5 4 3 5 3 5 1 6 2 6 1 4M593 358l-2-7M603 361l-1-7M612 365l0-7M620 371l3-7M625 380l5-6M628 389l6-5M365 411l4-4 4-4 4-5 4-4 4-5 4-4 3-3M370 406l-7-2M377 398l-7-2M384 391l-7-2M391 383l-7-2M364 142l5 3 5 3 5 4 6 3 5 3 4 4 5 3M368 144l1-7M376 149l1-7M385 155l1-7M393 160l1-7M528 319l6-3 5-2 6-1 6-2 6-1 6-1 6 0 6 0 2 0M532 317l-6-5M541 314l-5-5M551 311l-5-6M561 310l-4-6M571 309l-4-7M316 101l5 3 5 3 5 3 6 2 5 3 5 3 5 3M321 104l0-7M330 109l0-7M338 113l0-7M347 118l0-7M701 247l6 2 5 2 6 2 5 2 6 3 5 3 4 4M701 247l-1-7M710 250l-1-7M720 254l-1-7M729 258l1-7M737 264l2-7M703 121l5 3 4 1M705 122l0-7M456 338l6-2 5-1 6-2 6-1 6-2 5-2 6-2 5-3 5-3 5-4 4-5 4-4 1-1M456 338l-5-6M465 335l-5-6M475 333l-5-5M485 330l-5-5M494 327l-6-5M503 322l-7-4M511 316l-7-2M517 308l-7-3M855 100l5 3 5 3 5 3 2 2M862 104l1-7M870 109l1-7M592 170l6 3 5 3 5 3 6 2 5 3 6 2 5 2 2 0M598 173l0-7M606 178l0-7M615 182l-1-7M625 186l-1-7M246 100l5 3 5 3 5 2 6 3M251 103l0-7M260 108l0-7M661 222l6 1 6 1 6 2 6 1 5 2 6 2 6 2 5 2M663 222l-2-7M673 224l-2-7M683 227l-2-7M692 230l-1-7M702 233l-1-7M369 286l5 4 5 3 5 4 4 4 5 4 4 4 4 5 1 1M376 291l1-7M384 297l2-7M391 304l2-7M398 311l3-7M709 305l1 6 1 5 1 6 1 6 1 6 2 6 1 6 1 6 2 6M710 311l6-5M712 320l6-5M714 330l6-5M716 340l6-5M718 350l6-5M482 196l6 1 6 1 6 1 6 1 6 1M490 197l-2-7M500 199l-2-7M510 200l-2-7M358 118l5 3 2 1M734 202l6 1 6 1 6 1 6 2 5 2 6 3 5 2 6 3 5 3M738 202l-2-7M748 204l-2-7M758 207l-1-7M767 211l0-7M776 215l0-7M771 256l5 3 5 3 5 4 4 4 5 4 4 4 5 4M775 257l1-7M783 264l2-7M790 270l2-7M798 276l2-7M410 213l4 4 5 4 4 5 4 4 4 5 3 4 1 2M413 216l2-7M420 223l2-7M427 230l3-7M433 238l3-7M770 155l5 3 6 3 5 3 5 3 5 4 5 3 4 3 5 4 6 3 5 2 6 2 6 1 4 1M772 156l0-7M781 161l0-7M789 166l1-7M797 172l1-7M805 177l1-7M814 183l0-7M823 187l-1-7M833 189l-2-7M529 193l6 1 6 1 6 1 6 0 6 1 2 0M537 194l-3-7M547 196l-3-7M557 197l-3-7M739 100l5 3 6 2 5 3 5 3 6 3 3 2M739 100l0-7M748 104l0-7M757 109l0-7M766 114l0-7M221 108l5 3 6 3 5 3 5 3 6 2 5 3 5 3 6 2 5 3 6 2 5 3 6 2 5 2 2 1M226 111l0-7M235 116l0-7M244 121l0-7M253 125l0-7M262 129l0-7M271 133l0-7M280 138l0-7M289 142l0-7M533 412l2-6 4-5 4-4 4-4 5-3 6-3 6-2 3 0M534 410l7-1M539 401l-7-1M546 394l-7-3M554 389l-6-5M564 385l-5-6M678 293l5-3 6-3 4 0M681 291l-6-4M691 287l-3-7M860 139l5 3 6 2 2 1M864 141l0-7M522 213l6 1 6 1 6 0 6 1 6 1 6 1 6 1 6 0 6 1 6 1 6 1 6 0 6 1 5 1M528 214l-2-7M538 215l-3-7M548 217l-3-7M558 218l-3-7M568 219l-3-7M578 220l-3-7M588 222l-3-7M598 223l-3-7M812 208l6 3 5 2 6 2 6 2 5 2 6 2 6 2 5 2 6 2 6 2 3 2M820 211l-1-7M829 215l-1-7M838 218l-1-7M848 222l-1-7M857 225l-1-7M867 228l-1-7M791 100l5 3 5 3 6 3 5 3 5 3 2 1M794 102l0-7M803 107l0-7M812 112l0-7M189 162l6 1 6 1 6 1 6 1 6 1 6 1 6 1 4 1M189 162l-2-7M199 164l-2-7M209 165l-2-7M219 167l-2-7M229 169l-2-7M604 297l6 2 6 1 6 1 6 1 6 1 4 0M604 297l-2-7M614 299l-2-7M624 302l-2-7M634 303l-4-7M867 412l2-6 1-6 1-6 2-6 0-1M868 410l7-2M870 400l7-2M872 390l7-2M534 384l4-4 5-3 6-3 5-2 6-1 6-2 6 0 4 0M534 384l-7-2M542 378l-6-4M550 374l-6-5M560 371l-5-6M570 369l-4-6M291 187l6 1 6 2 6 2 5 1 6 1 6 1 6 2 6 1 2 0M291 187l-2-7M301 190l-2-7M310 192l-2-7M320 194l-2-7M330 196l-2-7M433 340l5-4 5-3 6-3 5-3 5-3 5-3 5-4 3-2M433 340l-6-4M442 334l-6-4M450 329l-6-4M459 324l-7-4M467 318l-7-4M272 175l6 2 5 1 6 2 6 2 6 2 5 2 6 2 6 2 2 0M276 176l-2-7M285 179l-1-7M295 182l-1-7M304 185l-1-7M314 188l-1-7M456 349l6 0 6 1 6 1 6 0 6 0 6 0 6-1 6-2 4-4 2-3M460 349l-3-7M470 350l-3-7M480 351l-3-7M490 351l-4-6M500 349l-6-5M508 344l-7-1M817 411l1-6 1-6 1-4M818 409l7-3M819 399l7-2M294 99l6 3 5 3 5 3 6 3 5 2 5 3 6 3M300 102l0-7M309 107l0-7M317 112l0-7M326 116l0-7M316 393l6 1 6 1 6 0 6 0 6 0 5-1 6-2 6-3 5-3M320 394l-3-7M330 395l-3-7M340 395l-4-7M350 394l-5-6M359 391l-6-4M360 314l6 2 5 2 6 3 5 2 6 3 5 3 5 2M360 314l-1-7M369 318l0-7M379 322l0-7M388 326l0-7M397 330l0-7M738 395l2 6 1 6 2 4M739 397l5-5M741 407l5-5M562 328l6-1 6 0 6 0 6 0 6 1 6 1 6 1 5 2 6 1 6 1 6 0 2 0M564 328l-4-6M574 327l-4-7M584 327l-3-7M594 328l-2-7M604 330l-2-7M613 332l-2-7M623 334l-3-7M727 105l6 3 5 3 5 3 5 2 6 3 5 3 5 3 5 3 6 3 5 2 6 3 2 0M734 109l0-7M743 114l0-7M752 118l0-7M761 123l0-7M769 128l0-7M778 133l0-7M562 299l6-1 6 0 6 0 6 1 6 0 6 1 6 1 6 1M564 299l-4-6M574 298l-4-7M584 298l-3-7M594 299l-3-7M604 301l-2-7M581 191l6 1 2 0M587 192l-3-7M152 284l6-1 4 0M154 284l-4-6M571 340l6 0 6 0 6 1 6 1M575 340l-3-7M585 340l-3-7M841 99l5 3 6 4 5 3 5 3 5 3 5 4 1 1M841 99l0-7M850 105l1-7M858 110l1-7M867 115l1-7M379 219l4 3 5 4 4 5 4 4 4 4 3 4M379 219l1-7M386 225l2-7M393 232l2-7M400 239l3-7M732 236l5 2 6 2 4 2M732 236l-1-7M741 240l-1-7M150 166l6 1 6 1 6 1 6 1 6 1 4 0M156 167l-2-7M166 169l-3-7M176 170l-3-7M309 405l6 0 6 1 6 1 6 1 6 0 6 0 6-1M315 405l-2-7M325 407l-3-7M335 408l-3-7M345 408l-4-6M205 286l6 0 6 0 6-1 6 0 6 0 6 0 4 0M211 286l-4-6M221 285l-4-7M231 285l-4-7M241 285l-3-7M159 102v9M159 409v-10M172 102v9M172 409v-10M185 102v9M185 409v-10M198 102v9M198 409v-10M211 102v9M211 409v-10M224 102v9M224 409v-10M237 102v9M237 409v-10M250 102v9M250 409v-10M263 102v9M263 409v-10M275 102v9M275 409v-10M288 102v9M288 409v-10M301 102v9M301 409v-10M314 102v9M314 409v-10M327 102v9M327 409v-10M340 102v9M340 409v-10M353 102v9M353 409v-10M366 102v9M366 409v-10M379 102v9M379 409v-10M391 102v9M391 409v-10M404 102v9M404 409v-10M417 102v9M417 409v-10M430 102v9M430 409v-10M443 102v9M443 409v-10M456 102v9M456 409v-10M469 102v9M469 409v-10M482 102v9M482 409v-10M495 102v9M495 409v-10M508 102v9M508 409v-10M520 102v9M520 409v-10M533 102v9M533 409v-10M546 102v9M546 409v-10M559 102v9M559 409v-10M572 102v9M572 409v-10M585 102v9M585 409v-10M598 102v9M598 409v-10M611 102v9M611 409v-10M624 102v9M624 409v-10M637 102v9M637 409v-10M649 102v9M649 409v-10M662 102v9M662 409v-10M675 102v9M675 409v-10M688 102v9M688 409v-10M701 102v9M701 409v-10M714 102v9M714 409v-10M727 102v9M727 409v-10M740 102v9M740 409v-10M753 102v9M753 409v-10M766 102v9M766 409v-10M778 102v9M778 409v-10M791 102v9M791 409v-10M804 102v9M804 409v-10M817 102v9M817 409v-10M830 102v9M830 409v-10M843 102v9M843 409v-10M856 102v9M856 409v-10M869 102v9M869 409v-10" fill="none" stroke="#000" stroke-width="0.7"/></g><rect x="153.3" y="102.0" width="717.0999999999999" height="307.0" fill="none" stroke="#000" stroke-width="2"/><text x="143.8" y="414.6" text-anchor="end" font-size="14.8">0</text><text x="143.8" y="365.0" text-anchor="end" font-size="14.8">5</text><text x="143.8" y="315.3" text-anchor="end" font-size="14.8">10</text><text x="143.8" y="265.7" text-anchor="end" font-size="14.8">15</text><text x="143.8" y="216.0" text-anchor="end" font-size="14.8">20</text><text x="143.8" y="166.3" text-anchor="end" font-size="14.8">25</text><text x="143.8" y="116.7" text-anchor="end" font-size="14.8">30</text><text transform="translate(153.6 433.2) rotate(-45)" text-anchor="middle" font-size="12.6" dy="4.5">25.00</text><text transform="translate(204.8 433.2) rotate(-45)" text-anchor="middle" font-size="12.6" dy="4.5">25.12</text><text transform="translate(256.0 433.2) rotate(-45)" text-anchor="middle" font-size="12.6" dy="4.5">26.00</text><text transform="translate(307.3 433.2) rotate(-45)" text-anchor="middle" font-size="12.6" dy="4.5">26.12</text><text transform="translate(358.5 433.2) rotate(-45)" text-anchor="middle" font-size="12.6" dy="4.5">27.00</text><text transform="translate(409.7 433.2) rotate(-45)" text-anchor="middle" font-size="12.6" dy="4.5">27.12</text><text transform="translate(460.9 433.2) rotate(-45)" text-anchor="middle" font-size="12.6" dy="4.5">28.00</text><text transform="translate(512.1 433.2) rotate(-45)" text-anchor="middle" font-size="12.6" dy="4.5">28.12</text><text transform="translate(563.4 433.2) rotate(-45)" text-anchor="middle" font-size="12.6" dy="4.5">29.00</text><text transform="translate(614.6 433.2) rotate(-45)" text-anchor="middle" font-size="12.6" dy="4.5">29.12</text><text transform="translate(665.8 433.2) rotate(-45)" text-anchor="middle" font-size="12.6" dy="4.5">30.00</text><text transform="translate(717.0 433.2) rotate(-45)" text-anchor="middle" font-size="12.6" dy="4.5">30.12</text><text transform="translate(768.3 433.2) rotate(-45)" text-anchor="middle" font-size="12.6" dy="4.5">31.00</text><text transform="translate(819.5 433.2) rotate(-45)" text-anchor="middle" font-size="12.6" dy="4.5">31.12</text><text transform="translate(870.7 433.2) rotate(-45)" text-anchor="middle" font-size="12.6" dy="4.5">01.00</text><rect x="954.5" y="113.00" width="19.3" height="3.24" fill="#faa9ac"/><rect x="954.5" y="116.04" width="19.3" height="3.24" fill="#f2949b"/><rect x="954.5" y="119.08" width="19.3" height="3.24" fill="#eb7f89"/><rect x="954.5" y="122.11" width="19.3" height="3.24" fill="#e36a78"/><rect x="954.5" y="125.15" width="19.3" height="3.24" fill="#db5162"/><rect x="954.5" y="128.19" width="19.3" height="3.24" fill="#d13347"/><rect x="954.5" y="131.23" width="19.3" height="3.24" fill="#c7162c"/><rect x="954.5" y="134.27" width="19.3" height="3.24" fill="#c20017"/><rect x="954.5" y="137.31" width="19.3" height="3.24" fill="#c80012"/><rect x="954.5" y="140.34" width="19.3" height="3.24" fill="#cf000d"/><rect x="954.5" y="143.38" width="19.3" height="3.24" fill="#d50008"/><rect x="954.5" y="146.42" width="19.3" height="3.24" fill="#db0003"/><rect x="954.5" y="149.46" width="19.3" height="3.24" fill="#e20000"/><rect x="954.5" y="152.50" width="19.3" height="3.24" fill="#ea0000"/><rect x="954.5" y="155.54" width="19.3" height="3.24" fill="#f20000"/><rect x="954.5" y="158.57" width="19.3" height="3.24" fill="#fa0000"/><rect x="954.5" y="161.61" width="19.3" height="3.24" fill="#ff0500"/><rect x="954.5" y="164.65" width="19.3" height="3.24" fill="#ff1500"/><rect x="954.5" y="167.69" width="19.3" height="3.24" fill="#ff2500"/><rect x="954.5" y="170.73" width="19.3" height="3.24" fill="#ff3500"/><rect x="954.5" y="173.77" width="19.3" height="3.24" fill="#ff4500"/><rect x="954.5" y="176.80" width="19.3" height="3.24" fill="#ff5100"/><rect x="954.5" y="179.84" width="19.3" height="3.24" fill="#ff5d00"/><rect x="954.5" y="182.88" width="19.3" height="3.24" fill="#ff6900"/><rect x="954.5" y="185.92" width="19.3" height="3.24" fill="#ff7600"/><rect x="954.5" y="188.96" width="19.3" height="3.24" fill="#ff8100"/><rect x="954.5" y="192.00" width="19.3" height="3.24" fill="#ff8700"/><rect x="954.5" y="195.03" width="19.3" height="3.24" fill="#ff8e00"/><rect x="954.5" y="198.07" width="19.3" height="3.24" fill="#ff9400"/><rect x="954.5" y="201.11" width="19.3" height="3.24" fill="#ff9b00"/><rect x="954.5" y="204.15" width="19.3" height="3.24" fill="#ffa100"/><rect x="954.5" y="207.19" width="19.3" height="3.24" fill="#ffa800"/><rect x="954.5" y="210.23" width="19.3" height="3.24" fill="#ffae00"/><rect x="954.5" y="213.26" width="19.3" height="3.24" fill="#ffb500"/><rect x="954.5" y="216.30" width="19.3" height="3.24" fill="#ffbb00"/><rect x="954.5" y="219.34" width="19.3" height="3.24" fill="#ffc203"/><rect x="954.5" y="222.38" width="19.3" height="3.24" fill="#ffc810"/><rect x="954.5" y="225.42" width="19.3" height="3.24" fill="#ffcf1d"/><rect x="954.5" y="228.46" width="19.3" height="3.24" fill="#ffd52a"/><rect x="954.5" y="231.49" width="19.3" height="3.24" fill="#ffdc37"/><rect x="954.5" y="234.53" width="19.3" height="3.24" fill="#ffe146"/><rect x="954.5" y="237.57" width="19.3" height="3.24" fill="#ffe559"/><rect x="954.5" y="240.61" width="19.3" height="3.24" fill="#ffe96c"/><rect x="954.5" y="243.65" width="19.3" height="3.24" fill="#ffec7e"/><rect x="954.5" y="246.69" width="19.3" height="3.24" fill="#fff091"/><rect x="954.5" y="249.72" width="19.3" height="3.24" fill="#fff4a8"/><rect x="954.5" y="252.76" width="19.3" height="3.24" fill="#fff8be"/><rect x="954.5" y="255.80" width="19.3" height="3.24" fill="#fffbd4"/><rect x="954.5" y="258.84" width="19.3" height="3.24" fill="#cde8f5"/><rect x="954.5" y="261.88" width="19.3" height="3.24" fill="#c5e4f4"/><rect x="954.5" y="264.91" width="19.3" height="3.24" fill="#bde1f2"/><rect x="954.5" y="267.95" width="19.3" height="3.24" fill="#b6def1"/><rect x="954.5" y="270.99" width="19.3" height="3.24" fill="#aedbef"/><rect x="954.5" y="274.03" width="19.3" height="3.24" fill="#a6d7ee"/><rect x="954.5" y="277.07" width="19.3" height="3.24" fill="#9bd3ee"/><rect x="954.5" y="280.11" width="19.3" height="3.24" fill="#90cfee"/><rect x="954.5" y="283.14" width="19.3" height="3.24" fill="#84cbee"/><rect x="954.5" y="286.18" width="19.3" height="3.24" fill="#79c7ee"/><rect x="954.5" y="289.22" width="19.3" height="3.24" fill="#6bc3ef"/><rect x="954.5" y="292.26" width="19.3" height="3.24" fill="#54c1f2"/><rect x="954.5" y="295.30" width="19.3" height="3.24" fill="#3ebff6"/><rect x="954.5" y="298.34" width="19.3" height="3.24" fill="#27bcf9"/><rect x="954.5" y="301.37" width="19.3" height="3.24" fill="#10bafd"/><rect x="954.5" y="304.41" width="19.3" height="3.24" fill="#01b6ff"/><rect x="954.5" y="307.45" width="19.3" height="3.24" fill="#04b0ff"/><rect x="954.5" y="310.49" width="19.3" height="3.24" fill="#07a9ff"/><rect x="954.5" y="313.53" width="19.3" height="3.24" fill="#0ba3ff"/><rect x="954.5" y="316.57" width="19.3" height="3.24" fill="#0e9cff"/><rect x="954.5" y="319.60" width="19.3" height="3.24" fill="#1296fe"/><rect x="954.5" y="322.64" width="19.3" height="3.24" fill="#1791fa"/><rect x="954.5" y="325.68" width="19.3" height="3.24" fill="#1c8df7"/><rect x="954.5" y="328.72" width="19.3" height="3.24" fill="#2288f3"/><rect x="954.5" y="331.76" width="19.3" height="3.24" fill="#2783f0"/><rect x="954.5" y="334.80" width="19.3" height="3.24" fill="#2b7eec"/><rect x="954.5" y="337.83" width="19.3" height="3.24" fill="#2f78e8"/><rect x="954.5" y="340.87" width="19.3" height="3.24" fill="#3272e3"/><rect x="954.5" y="343.91" width="19.3" height="3.24" fill="#356ddf"/><rect x="954.5" y="346.95" width="19.3" height="3.24" fill="#3867da"/><rect x="954.5" y="349.99" width="19.3" height="3.24" fill="#3760da"/><rect x="954.5" y="353.03" width="19.3" height="3.24" fill="#3057de"/><rect x="954.5" y="356.06" width="19.3" height="3.24" fill="#2a4ee2"/><rect x="954.5" y="359.10" width="19.3" height="3.24" fill="#2344e6"/><rect x="954.5" y="362.14" width="19.3" height="3.24" fill="#1b36ec"/><rect x="954.5" y="365.18" width="19.3" height="3.24" fill="#1123f3"/><rect x="954.5" y="368.22" width="19.3" height="3.24" fill="#080ff9"/><rect x="954.5" y="371.26" width="19.3" height="3.24" fill="#0401fe"/><rect x="954.5" y="374.29" width="19.3" height="3.24" fill="#1a05fb"/><rect x="954.5" y="377.33" width="19.3" height="3.24" fill="#2f09f7"/><rect x="954.5" y="380.37" width="19.3" height="3.24" fill="#440ef4"/><rect x="954.5" y="383.41" width="19.3" height="3.24" fill="#5912f0"/><rect x="954.5" y="386.45" width="19.3" height="3.24" fill="#6215f0"/><rect x="954.5" y="389.49" width="19.3" height="3.24" fill="#6b19f0"/><rect x="954.5" y="392.52" width="19.3" height="3.24" fill="#731cf0"/><rect x="954.5" y="395.56" width="19.3" height="3.24" fill="#7c20f0"/><path d="M954.5 116.04h19.3M954.5 119.08h19.3M954.5 122.11h19.3M954.5 125.15h19.3M954.5 128.19h19.3M954.5 131.23h19.3M954.5 134.27h19.3M954.5 137.31h19.3M954.5 140.34h19.3M954.5 143.38h19.3M954.5 146.42h19.3M954.5 149.46h19.3M954.5 152.50h19.3M954.5 155.54h19.3M954.5 158.57h19.3M954.5 161.61h19.3M954.5 164.65h19.3M954.5 167.69h19.3M954.5 170.73h19.3M954.5 173.77h19.3M954.5 176.80h19.3M954.5 179.84h19.3M954.5 182.88h19.3M954.5 185.92h19.3M954.5 188.96h19.3M954.5 192.00h19.3M954.5 195.03h19.3M954.5 198.07h19.3M954.5 201.11h19.3M954.5 204.15h19.3M954.5 207.19h19.3M954.5 210.23h19.3M954.5 213.26h19.3M954.5 216.30h19.3M954.5 219.34h19.3M954.5 222.38h19.3M954.5 225.42h19.3M954.5 228.46h19.3M954.5 231.49h19.3M954.5 234.53h19.3M954.5 237.57h19.3M954.5 240.61h19.3M954.5 243.65h19.3M954.5 246.69h19.3M954.5 249.72h19.3M954.5 252.76h19.3M954.5 255.80h19.3M954.5 258.84h19.3M954.5 261.88h19.3M954.5 264.91h19.3M954.5 267.95h19.3M954.5 270.99h19.3M954.5 274.03h19.3M954.5 277.07h19.3M954.5 280.11h19.3M954.5 283.14h19.3M954.5 286.18h19.3M954.5 289.22h19.3M954.5 292.26h19.3M954.5 295.30h19.3M954.5 298.34h19.3M954.5 301.37h19.3M954.5 304.41h19.3M954.5 307.45h19.3M954.5 310.49h19.3M954.5 313.53h19.3M954.5 316.57h19.3M954.5 319.60h19.3M954.5 322.64h19.3M954.5 325.68h19.3M954.5 328.72h19.3M954.5 331.76h19.3M954.5 334.80h19.3M954.5 337.83h19.3M954.5 340.87h19.3M954.5 343.91h19.3M954.5 346.95h19.3M954.5 349.99h19.3M954.5 353.03h19.3M954.5 356.06h19.3M954.5 359.10h19.3M954.5 362.14h19.3M954.5 365.18h19.3M954.5 368.22h19.3M954.5 371.26h19.3M954.5 374.29h19.3M954.5 377.33h19.3M954.5 380.37h19.3M954.5 383.41h19.3M954.5 386.45h19.3M954.5 389.49h19.3M954.5 392.52h19.3M954.5 395.56h19.3" stroke="#fff" stroke-opacity="0.22" stroke-width="0.9"/><text x="992" y="122.4" font-size="17">35</text><text x="992" y="143.0" font-size="17">28</text><text x="992" y="163.6" font-size="17">21</text><text x="992" y="184.2" font-size="17">14</text><text x="992" y="204.8" font-size="17">7</text><text x="992" y="225.4" font-size="17">0</text><text x="992" y="246.0" font-size="17">-7</text><text x="992" y="266.6" font-size="17">-14</text><text x="992" y="287.2" font-size="17">-21</text><text x="992" y="307.8" font-size="17">-28</text><text x="992" y="328.4" font-size="17">-35</text><text x="992" y="349.0" font-size="17">-42</text><text x="992" y="369.6" font-size="17">-49</text><text x="992" y="390.2" font-size="17">-56</text><g stroke="#2e2e2e" stroke-width="1" stroke-dasharray="3.4 6.15"><line x1="165.5" y1="563.2" x2="165.5" y2="461.7"/><line x1="177.45" y1="563.2" x2="177.45" y2="461.7"/><line x1="189.4" y1="563.2" x2="189.4" y2="461.7"/><line x1="201.35" y1="563.2" x2="201.35" y2="461.7"/><line x1="213.3" y1="563.2" x2="213.3" y2="461.7"/><line x1="225.25" y1="563.2" x2="225.25" y2="461.7"/><line x1="237.2" y1="563.2" x2="237.2" y2="461.7"/><line x1="249.15" y1="563.2" x2="249.15" y2="461.7"/><line x1="261.1" y1="563.2" x2="261.1" y2="461.7"/><line x1="273.05" y1="563.2" x2="273.05" y2="461.7"/><line x1="285" y1="563.2" x2="285" y2="461.7"/><line x1="296.95" y1="563.2" x2="296.95" y2="461.7"/><line x1="308.9" y1="563.2" x2="308.9" y2="461.7"/><line x1="320.85" y1="563.2" x2="320.85" y2="461.7"/><line x1="332.8" y1="563.2" x2="332.8" y2="461.7"/><line x1="344.75" y1="563.2" x2="344.75" y2="461.7"/><line x1="356.7" y1="563.2" x2="356.7" y2="461.7"/><line x1="368.65" y1="563.2" x2="368.65" y2="461.7"/><line x1="380.6" y1="563.2" x2="380.6" y2="461.7"/><line x1="392.55" y1="563.2" x2="392.55" y2="461.7"/><line x1="404.5" y1="563.2" x2="404.5" y2="461.7"/><line x1="416.45" y1="563.2" x2="416.45" y2="461.7"/><line x1="428.4" y1="563.2" x2="428.4" y2="461.7"/><line x1="440.35" y1="563.2" x2="440.35" y2="461.7"/><line x1="452.3" y1="563.2" x2="452.3" y2="461.7"/><line x1="464.25" y1="563.2" x2="464.25" y2="461.7"/><line x1="476.2" y1="563.2" x2="476.2" y2="461.7"/><line x1="488.15" y1="563.2" x2="488.15" y2="461.7"/><line x1="500.1" y1="563.2" x2="500.1" y2="461.7"/><line x1="512.05" y1="563.2" x2="512.05" y2="461.7"/><line x1="524" y1="563.2" x2="524" y2="461.7"/><line x1="535.95" y1="563.2" x2="535.95" y2="461.7"/><line x1="547.9" y1="563.2" x2="547.9" y2="461.7"/><line x1="559.85" y1="563.2" x2="559.85" y2="461.7"/><line x1="571.8" y1="563.2" x2="571.8" y2="461.7"/><line x1="583.75" y1="563.2" x2="583.75" y2="461.7"/><line x1="595.7" y1="563.2" x2="595.7" y2="461.7"/><line x1="607.65" y1="563.2" x2="607.65" y2="461.7"/><line x1="619.6" y1="563.2" x2="619.6" y2="461.7"/><line x1="631.55" y1="563.2" x2="631.55" y2="461.7"/><line x1="643.5" y1="563.2" x2="643.5" y2="461.7"/><line x1="655.45" y1="563.2" x2="655.45" y2="461.7"/><line x1="667.4" y1="563.2" x2="667.4" y2="461.7"/><line x1="679.35" y1="563.2" x2="679.35" y2="461.7"/><line x1="691.3" y1="563.2" x2="691.3" y2="461.7"/><line x1="703.25" y1="563.2" x2="703.25" y2="461.7"/><line x1="715.2" y1="563.2" x2="715.2" y2="461.7"/><line x1="727.15" y1="563.2" x2="727.15" y2="461.7"/><line x1="739.1" y1="563.2" x2="739.1" y2="461.7"/><line x1="751.05" y1="563.2" x2="751.05" y2="461.7"/><line x1="763" y1="563.2" x2="763" y2="461.7"/><line x1="774.95" y1="563.2" x2="774.95" y2="461.7"/><line x1="786.9" y1="563.2" x2="786.9" y2="461.7"/><line x1="798.85" y1="563.2" x2="798.85" y2="461.7"/><line x1="810.8" y1="563.2" x2="810.8" y2="461.7"/><line x1="822.75" y1="563.2" x2="822.75" y2="461.7"/><line x1="834.7" y1="563.2" x2="834.7" y2="461.7"/></g><g stroke="#555" stroke-width="1" stroke-dasharray="3.4 6.15"><line x1="153.5" y1="546.12" x2="870.3" y2="546.12"/><line x1="153.5" y1="529.03" x2="870.3" y2="529.03"/><line x1="153.5" y1="511.95" x2="870.3" y2="511.95"/><line x1="153.5" y1="494.87" x2="870.3" y2="494.87"/><line x1="153.5" y1="477.78" x2="870.3" y2="477.78"/></g><path d="M139.5 563.2H153.5M870.3 563.2H884.3M139.5 546.12H153.5M870.3 546.12H884.3M139.5 529.03H153.5M870.3 529.03H884.3M139.5 511.95H153.5M870.3 511.95H884.3M139.5 494.87H153.5M870.3 494.87H884.3M139.5 477.78H153.5M870.3 477.78H884.3M139.5 460.7H153.5M870.3 460.7H884.3M165.5 563.2V577.2M177.45 563.2V577.2M189.4 563.2V577.2M201.35 563.2V577.2M213.3 563.2V577.2M225.25 563.2V577.2M237.2 563.2V577.2M249.15 563.2V577.2M261.1 563.2V577.2M273.05 563.2V577.2M285 563.2V577.2M296.95 563.2V577.2M308.9 563.2V577.2M320.85 563.2V577.2M332.8 563.2V577.2M344.75 563.2V577.2M356.7 563.2V577.2M368.65 563.2V577.2M380.6 563.2V577.2M392.55 563.2V577.2M404.5 563.2V577.2M416.45 563.2V577.2M428.4 563.2V577.2M440.35 563.2V577.2M452.3 563.2V577.2M464.25 563.2V577.2M476.2 563.2V577.2M488.15 563.2V577.2M500.1 563.2V577.2M512.05 563.2V577.2M524 563.2V577.2M535.95 563.2V577.2M547.9 563.2V577.2M559.85 563.2V577.2M571.8 563.2V577.2M583.75 563.2V577.2M595.7 563.2V577.2M607.65 563.2V577.2M619.6 563.2V577.2M631.55 563.2V577.2M643.5 563.2V577.2M655.45 563.2V577.2M667.4 563.2V577.2M679.35 563.2V577.2M691.3 563.2V577.2M703.25 563.2V577.2M715.2 563.2V577.2M727.15 563.2V577.2M739.1 563.2V577.2M751.05 563.2V577.2M763 563.2V577.2M774.95 563.2V577.2M786.9 563.2V577.2M798.85 563.2V577.2M810.8 563.2V577.2M822.75 563.2V577.2M834.7 563.2V577.2" stroke="#111" stroke-width="1.3" fill="none"/><path d="M146.5 557.51H153.5M870.3 557.51H877.3M146.5 551.81H153.5M870.3 551.81H877.3M146.5 540.42H153.5M870.3 540.42H877.3M146.5 534.73H153.5M870.3 534.73H877.3M146.5 523.34H153.5M870.3 523.34H877.3M146.5 517.64H153.5M870.3 517.64H877.3M146.5 506.26H153.5M870.3 506.26H877.3M146.5 500.56H153.5M870.3 500.56H877.3M146.5 489.17H153.5M870.3 489.17H877.3M146.5 483.48H153.5M870.3 483.48H877.3M146.5 472.09H153.5M870.3 472.09H877.3M146.5 466.39H153.5M870.3 466.39H877.3" stroke="#333" stroke-width="1" fill="none"/><rect x="153.5" y="460.7" width="716.8" height="102.5" fill="none" stroke="#000" stroke-width="1.4"/><text x="134.5" y="566.4" text-anchor="end" font-size="9">1014</text><text x="134.5" y="549.32" text-anchor="end" font-size="9">1017</text><text x="134.5" y="532.23" text-anchor="end" font-size="9">1020</text><text x="134.5" y="515.15" text-anchor="end" font-size="9">1023</text><text x="134.5" y="498.07" text-anchor="end" font-size="9">1026</text><text x="134.5" y="480.98" text-anchor="end" font-size="9">1029</text><text x="134.5" y="463.9" text-anchor="end" font-size="9">1032</text><text transform="translate(169 590.2) rotate(-45)" text-anchor="middle" font-size="12.6" dy="4.5">25.00</text><text transform="translate(216.8 590.2) rotate(-45)" text-anchor="middle" font-size="12.6" dy="4.5">25.12</text><text transform="translate(264.6 590.2) rotate(-45)" text-anchor="middle" font-size="12.6" dy="4.5">26.00</text><text transform="translate(312.4 590.2) rotate(-45)" text-anchor="middle" font-size="12.6" dy="4.5">26.12</text><text transform="translate(360.2 590.2) rotate(-45)" text-anchor="middle" font-size="12.6" dy="4.5">27.00</text><text transform="translate(408 590.2) rotate(-45)" text-anchor="middle" font-size="12.6" dy="4.5">27.12</text><text transform="translate(455.8 590.2) rotate(-45)" text-anchor="middle" font-size="12.6" dy="4.5">28.00</text><text transform="translate(503.6 590.2) rotate(-45)" text-anchor="middle" font-size="12.6" dy="4.5">28.12</text><text transform="translate(551.4 590.2) rotate(-45)" text-anchor="middle" font-size="12.6" dy="4.5">29.00</text><text transform="translate(599.2 590.2) rotate(-45)" text-anchor="middle" font-size="12.6" dy="4.5">29.12</text><text transform="translate(647 590.2) rotate(-45)" text-anchor="middle" font-size="12.6" dy="4.5">30.00</text><text transform="translate(694.8 590.2) rotate(-45)" text-anchor="middle" font-size="12.6" dy="4.5">30.12</text><text transform="translate(742.6 590.2) rotate(-45)" text-anchor="middle" font-size="12.6" dy="4.5">31.00</text><text transform="translate(790.4 590.2) rotate(-45)" text-anchor="middle" font-size="12.6" dy="4.5">31.12</text><text transform="translate(838.2 590.2) rotate(-45)" text-anchor="middle" font-size="12.6" dy="4.5">01.00</text><text transform="translate(99.5 512.5) rotate(-90)" text-anchor="middle" font-size="24.2">PMSL</text><g stroke="#2e2e2e" stroke-width="1" stroke-dasharray="3.4 6.15"><line x1="165.5" y1="716.2" x2="165.5" y2="615.3"/><line x1="177.45" y1="716.2" x2="177.45" y2="615.3"/><line x1="189.4" y1="716.2" x2="189.4" y2="615.3"/><line x1="201.35" y1="716.2" x2="201.35" y2="615.3"/><line x1="213.3" y1="716.2" x2="213.3" y2="615.3"/><line x1="225.25" y1="716.2" x2="225.25" y2="615.3"/><line x1="237.2" y1="716.2" x2="237.2" y2="615.3"/><line x1="249.15" y1="716.2" x2="249.15" y2="615.3"/><line x1="261.1" y1="716.2" x2="261.1" y2="615.3"/><line x1="273.05" y1="716.2" x2="273.05" y2="615.3"/><line x1="285" y1="716.2" x2="285" y2="615.3"/><line x1="296.95" y1="716.2" x2="296.95" y2="615.3"/><line x1="308.9" y1="716.2" x2="308.9" y2="615.3"/><line x1="320.85" y1="716.2" x2="320.85" y2="615.3"/><line x1="332.8" y1="716.2" x2="332.8" y2="615.3"/><line x1="344.75" y1="716.2" x2="344.75" y2="615.3"/><line x1="356.7" y1="716.2" x2="356.7" y2="615.3"/><line x1="368.65" y1="716.2" x2="368.65" y2="615.3"/><line x1="380.6" y1="716.2" x2="380.6" y2="615.3"/><line x1="392.55" y1="716.2" x2="392.55" y2="615.3"/><line x1="404.5" y1="716.2" x2="404.5" y2="615.3"/><line x1="416.45" y1="716.2" x2="416.45" y2="615.3"/><line x1="428.4" y1="716.2" x2="428.4" y2="615.3"/><line x1="440.35" y1="716.2" x2="440.35" y2="615.3"/><line x1="452.3" y1="716.2" x2="452.3" y2="615.3"/><line x1="464.25" y1="716.2" x2="464.25" y2="615.3"/><line x1="476.2" y1="716.2" x2="476.2" y2="615.3"/><line x1="488.15" y1="716.2" x2="488.15" y2="615.3"/><line x1="500.1" y1="716.2" x2="500.1" y2="615.3"/><line x1="512.05" y1="716.2" x2="512.05" y2="615.3"/><line x1="524" y1="716.2" x2="524" y2="615.3"/><line x1="535.95" y1="716.2" x2="535.95" y2="615.3"/><line x1="547.9" y1="716.2" x2="547.9" y2="615.3"/><line x1="559.85" y1="716.2" x2="559.85" y2="615.3"/><line x1="571.8" y1="716.2" x2="571.8" y2="615.3"/><line x1="583.75" y1="716.2" x2="583.75" y2="615.3"/><line x1="595.7" y1="716.2" x2="595.7" y2="615.3"/><line x1="607.65" y1="716.2" x2="607.65" y2="615.3"/><line x1="619.6" y1="716.2" x2="619.6" y2="615.3"/><line x1="631.55" y1="716.2" x2="631.55" y2="615.3"/><line x1="643.5" y1="716.2" x2="643.5" y2="615.3"/><line x1="655.45" y1="716.2" x2="655.45" y2="615.3"/><line x1="667.4" y1="716.2" x2="667.4" y2="615.3"/><line x1="679.35" y1="716.2" x2="679.35" y2="615.3"/><line x1="691.3" y1="716.2" x2="691.3" y2="615.3"/><line x1="703.25" y1="716.2" x2="703.25" y2="615.3"/><line x1="715.2" y1="716.2" x2="715.2" y2="615.3"/><line x1="727.15" y1="716.2" x2="727.15" y2="615.3"/><line x1="739.1" y1="716.2" x2="739.1" y2="615.3"/><line x1="751.05" y1="716.2" x2="751.05" y2="615.3"/><line x1="763" y1="716.2" x2="763" y2="615.3"/><line x1="774.95" y1="716.2" x2="774.95" y2="615.3"/><line x1="786.9" y1="716.2" x2="786.9" y2="615.3"/><line x1="798.85" y1="716.2" x2="798.85" y2="615.3"/><line x1="810.8" y1="716.2" x2="810.8" y2="615.3"/><line x1="822.75" y1="716.2" x2="822.75" y2="615.3"/><line x1="834.7" y1="716.2" x2="834.7" y2="615.3"/></g><g stroke="#555" stroke-width="1" stroke-dasharray="3.4 6.15"><line x1="153.5" y1="701.64" x2="870.3" y2="701.64"/><line x1="153.5" y1="687.09" x2="870.3" y2="687.09"/><line x1="153.5" y1="672.53" x2="870.3" y2="672.53"/><line x1="153.5" y1="657.97" x2="870.3" y2="657.97"/><line x1="153.5" y1="643.41" x2="870.3" y2="643.41"/><line x1="153.5" y1="628.86" x2="870.3" y2="628.86"/></g><path d="M139.5 716.2H153.5M870.3 716.2H884.3M139.5 701.64H153.5M870.3 701.64H884.3M139.5 687.09H153.5M870.3 687.09H884.3M139.5 672.53H153.5M870.3 672.53H884.3M139.5 657.97H153.5M870.3 657.97H884.3M139.5 643.41H153.5M870.3 643.41H884.3M139.5 628.86H153.5M870.3 628.86H884.3M139.5 614.3H153.5M870.3 614.3H884.3M165.5 716.2V730.2M177.45 716.2V730.2M189.4 716.2V730.2M201.35 716.2V730.2M213.3 716.2V730.2M225.25 716.2V730.2M237.2 716.2V730.2M249.15 716.2V730.2M261.1 716.2V730.2M273.05 716.2V730.2M285 716.2V730.2M296.95 716.2V730.2M308.9 716.2V730.2M320.85 716.2V730.2M332.8 716.2V730.2M344.75 716.2V730.2M356.7 716.2V730.2M368.65 716.2V730.2M380.6 716.2V730.2M392.55 716.2V730.2M404.5 716.2V730.2M416.45 716.2V730.2M428.4 716.2V730.2M440.35 716.2V730.2M452.3 716.2V730.2M464.25 716.2V730.2M476.2 716.2V730.2M488.15 716.2V730.2M500.1 716.2V730.2M512.05 716.2V730.2M524 716.2V730.2M535.95 716.2V730.2M547.9 716.2V730.2M559.85 716.2V730.2M571.8 716.2V730.2M583.75 716.2V730.2M595.7 716.2V730.2M607.65 716.2V730.2M619.6 716.2V730.2M631.55 716.2V730.2M643.5 716.2V730.2M655.45 716.2V730.2M667.4 716.2V730.2M679.35 716.2V730.2M691.3 716.2V730.2M703.25 716.2V730.2M715.2 716.2V730.2M727.15 716.2V730.2M739.1 716.2V730.2M751.05 716.2V730.2M763 716.2V730.2M774.95 716.2V730.2M786.9 716.2V730.2M798.85 716.2V730.2M810.8 716.2V730.2M822.75 716.2V730.2M834.7 716.2V730.2" stroke="#111" stroke-width="1.3" fill="none"/><path d="M146.5 711.35H153.5M870.3 711.35H877.3M146.5 706.5H153.5M870.3 706.5H877.3M146.5 696.79H153.5M870.3 696.79H877.3M146.5 691.94H153.5M870.3 691.94H877.3M146.5 682.23H153.5M870.3 682.23H877.3M146.5 677.38H153.5M870.3 677.38H877.3M146.5 667.68H153.5M870.3 667.68H877.3M146.5 662.82H153.5M870.3 662.82H877.3M146.5 653.12H153.5M870.3 653.12H877.3M146.5 648.27H153.5M870.3 648.27H877.3M146.5 638.56H153.5M870.3 638.56H877.3M146.5 633.71H153.5M870.3 633.71H877.3M146.5 624H153.5M870.3 624H877.3M146.5 619.15H153.5M870.3 619.15H877.3" stroke="#333" stroke-width="1" fill="none"/><rect x="153.5" y="614.3" width="716.8" height="101.9" fill="none" stroke="#000" stroke-width="1.4"/><text x="134.5" y="719.4" text-anchor="end" font-size="9">-3</text><text x="134.5" y="704.84" text-anchor="end" font-size="9">0</text><text x="134.5" y="690.29" text-anchor="end" font-size="9">3</text><text x="134.5" y="675.73" text-anchor="end" font-size="9">6</text><text x="134.5" y="661.17" text-anchor="end" font-size="9">9</text><text x="134.5" y="646.61" text-anchor="end" font-size="9">12</text><text x="134.5" y="632.06" text-anchor="end" font-size="9">15</text><text x="134.5" y="617.5" text-anchor="end" font-size="9">18</text><text transform="translate(169 743.2) rotate(-45)" text-anchor="middle" font-size="12.6" dy="4.5">25.00</text><text transform="translate(216.8 743.2) rotate(-45)" text-anchor="middle" font-size="12.6" dy="4.5">25.12</text><text transform="translate(264.6 743.2) rotate(-45)" text-anchor="middle" font-size="12.6" dy="4.5">26.00</text><text transform="translate(312.4 743.2) rotate(-45)" text-anchor="middle" font-size="12.6" dy="4.5">26.12</text><text transform="translate(360.2 743.2) rotate(-45)" text-anchor="middle" font-size="12.6" dy="4.5">27.00</text><text transform="translate(408 743.2) rotate(-45)" text-anchor="middle" font-size="12.6" dy="4.5">27.12</text><text transform="translate(455.8 743.2) rotate(-45)" text-anchor="middle" font-size="12.6" dy="4.5">28.00</text><text transform="translate(503.6 743.2) rotate(-45)" text-anchor="middle" font-size="12.6" dy="4.5">28.12</text><text transform="translate(551.4 743.2) rotate(-45)" text-anchor="middle" font-size="12.6" dy="4.5">29.00</text><text transform="translate(599.2 743.2) rotate(-45)" text-anchor="middle" font-size="12.6" dy="4.5">29.12</text><text transform="translate(647 743.2) rotate(-45)" text-anchor="middle" font-size="12.6" dy="4.5">30.00</text><text transform="translate(694.8 743.2) rotate(-45)" text-anchor="middle" font-size="12.6" dy="4.5">30.12</text><text transform="translate(742.6 743.2) rotate(-45)" text-anchor="middle" font-size="12.6" dy="4.5">31.00</text><text transform="translate(790.4 743.2) rotate(-45)" text-anchor="middle" font-size="12.6" dy="4.5">31.12</text><text transform="translate(838.2 743.2) rotate(-45)" text-anchor="middle" font-size="12.6" dy="4.5">01.00</text><text transform="translate(109.5 665.3) rotate(-90)" text-anchor="middle" font-size="24.2">TEMP at 2 M</text><polyline points="165.5,704.41 177.45,699.6 189.4,672.04 201.35,657.49 213.3,662.82 225.25,684.66 237.2,686.12 249.15,696.79 261.1,698.49 273.05,689.22 285,660.15 296.95,649.24 308.9,646.08 320.85,671.07 332.8,684.66 344.75,687.38 356.7,687.96 368.65,681.85 380.6,652.73 392.55,634.19 404.5,633.22 416.45,653.12 428.4,672.53 440.35,688.88 452.3,696.06 464.25,681.26 476.2,645.16 488.15,631.43 500.1,637.4 512.05,670.73 524,691.45 535.95,703.49 547.9,704.07 559.85,687.09 571.8,657.39 583.75,637.74 595.7,639.24 607.65,665.54 619.6,680.78 631.55,677.19 643.5,680.53 655.45,681.85 667.4,672.77 679.35,650.89 691.3,654.96 703.25,677.19 715.2,685.53 727.15,692.04 739.1,691.45 751.05,697.03 763,649.97 774.95,623.03 786.9,624.78 798.85,661.47 810.8,677.77 822.75,688.3 834.7,691.06" fill="none" stroke="#f00" stroke-width="1.2"/><polyline points="165.5,506.26 177.45,510.81 189.4,514.8 201.35,519.92 213.3,521.63 225.25,517.64 237.2,516.51 249.15,517.64 261.1,512.52 273.05,503.98 285,503.98 296.95,505.12 308.9,500.56 320.85,492.59 332.8,491.17 344.75,489.74 356.7,481.77 368.65,476.64 380.6,479.49 392.55,481.77 404.5,480.63 416.45,484.05 428.4,493.73 440.35,498.85 452.3,499.42 464.25,503.98 476.2,513.09 488.15,524.48 500.1,530.74 512.05,534.16 524,542.13 535.95,550.1 547.9,551.24 559.85,551.24 571.8,550.1 583.75,550.1 595.7,544.98 607.65,535.3 619.6,531.31 631.55,526.19 643.5,517.64 655.45,510.81 667.4,513.09 679.35,517.07 691.3,517.07 703.25,518.21 715.2,523.34 727.15,527.33 739.1,531.88 751.05,530.74 763,537.01 774.95,543.84 786.9,547.26 798.85,548.39 810.8,554.09 822.75,559.21 834.7,559.78" fill="none" stroke="#00f" stroke-width="1.2"/><path d="M644.32 952.2L644.32 907.63L656.91 907.63L656.91 841.23L669.5 841.23L669.5 863.37L682.09 863.37L682.09 929.77L694.68 929.77L694.68 952.2Z" fill="#00e400"/><g stroke="#2e2e2e" stroke-width="1" stroke-dasharray="3.4 6.15"><line x1="159.6" y1="951.9" x2="159.6" y2="820.1"/><line x1="172.19" y1="951.9" x2="172.19" y2="820.1"/><line x1="184.78" y1="951.9" x2="184.78" y2="820.1"/><line x1="197.37" y1="951.9" x2="197.37" y2="820.1"/><line x1="209.96" y1="951.9" x2="209.96" y2="820.1"/><line x1="222.55" y1="951.9" x2="222.55" y2="820.1"/><line x1="235.14" y1="951.9" x2="235.14" y2="820.1"/><line x1="247.73" y1="951.9" x2="247.73" y2="820.1"/><line x1="260.32" y1="951.9" x2="260.32" y2="820.1"/><line x1="272.91" y1="951.9" x2="272.91" y2="820.1"/><line x1="285.5" y1="951.9" x2="285.5" y2="820.1"/><line x1="298.09" y1="951.9" x2="298.09" y2="820.1"/><line x1="310.68" y1="951.9" x2="310.68" y2="820.1"/><line x1="323.27" y1="951.9" x2="323.27" y2="820.1"/><line x1="335.86" y1="951.9" x2="335.86" y2="820.1"/><line x1="348.45" y1="951.9" x2="348.45" y2="820.1"/><line x1="361.04" y1="951.9" x2="361.04" y2="820.1"/><line x1="373.63" y1="951.9" x2="373.63" y2="820.1"/><line x1="386.22" y1="951.9" x2="386.22" y2="820.1"/><line x1="398.81" y1="951.9" x2="398.81" y2="820.1"/><line x1="411.4" y1="951.9" x2="411.4" y2="820.1"/><line x1="423.99" y1="951.9" x2="423.99" y2="820.1"/><line x1="436.58" y1="951.9" x2="436.58" y2="820.1"/><line x1="449.17" y1="951.9" x2="449.17" y2="820.1"/><line x1="461.76" y1="951.9" x2="461.76" y2="820.1"/><line x1="474.35" y1="951.9" x2="474.35" y2="820.1"/><line x1="486.94" y1="951.9" x2="486.94" y2="820.1"/><line x1="499.53" y1="951.9" x2="499.53" y2="820.1"/><line x1="512.12" y1="951.9" x2="512.12" y2="820.1"/><line x1="524.71" y1="951.9" x2="524.71" y2="820.1"/><line x1="537.3" y1="951.9" x2="537.3" y2="820.1"/><line x1="549.89" y1="951.9" x2="549.89" y2="820.1"/><line x1="562.48" y1="951.9" x2="562.48" y2="820.1"/><line x1="575.07" y1="951.9" x2="575.07" y2="820.1"/><line x1="587.66" y1="951.9" x2="587.66" y2="820.1"/><line x1="600.25" y1="951.9" x2="600.25" y2="820.1"/><line x1="612.84" y1="951.9" x2="612.84" y2="820.1"/><line x1="625.43" y1="951.9" x2="625.43" y2="820.1"/><line x1="638.02" y1="951.9" x2="638.02" y2="820.1"/><line x1="650.61" y1="951.9" x2="650.61" y2="820.1"/><line x1="663.2" y1="951.9" x2="663.2" y2="820.1"/><line x1="675.79" y1="951.9" x2="675.79" y2="820.1"/><line x1="688.38" y1="951.9" x2="688.38" y2="820.1"/><line x1="700.97" y1="951.9" x2="700.97" y2="820.1"/><line x1="713.56" y1="951.9" x2="713.56" y2="820.1"/><line x1="726.15" y1="951.9" x2="726.15" y2="820.1"/><line x1="738.74" y1="951.9" x2="738.74" y2="820.1"/><line x1="751.33" y1="951.9" x2="751.33" y2="820.1"/><line x1="763.92" y1="951.9" x2="763.92" y2="820.1"/><line x1="776.51" y1="951.9" x2="776.51" y2="820.1"/><line x1="789.1" y1="951.9" x2="789.1" y2="820.1"/><line x1="801.69" y1="951.9" x2="801.69" y2="820.1"/><line x1="814.28" y1="951.9" x2="814.28" y2="820.1"/><line x1="826.87" y1="951.9" x2="826.87" y2="820.1"/><line x1="839.46" y1="951.9" x2="839.46" y2="820.1"/><line x1="852.05" y1="951.9" x2="852.05" y2="820.1"/><line x1="864.64" y1="951.9" x2="864.64" y2="820.1"/></g><g stroke="#555" stroke-width="1" stroke-dasharray="3.4 6.15"><line x1="153.3" y1="929.77" x2="870.3" y2="929.77"/><line x1="153.3" y1="907.63" x2="870.3" y2="907.63"/><line x1="153.3" y1="885.5" x2="870.3" y2="885.5"/><line x1="153.3" y1="863.37" x2="870.3" y2="863.37"/><line x1="153.3" y1="841.23" x2="870.3" y2="841.23"/></g><path d="M139.3 951.9H153.3M870.3 951.9H884.3M139.3 929.77H153.3M870.3 929.77H884.3M139.3 907.63H153.3M870.3 907.63H884.3M139.3 885.5H153.3M870.3 885.5H884.3M139.3 863.37H153.3M870.3 863.37H884.3M139.3 841.23H153.3M870.3 841.23H884.3M139.3 819.1H153.3M870.3 819.1H884.3M159.6 951.9V965.9M172.19 951.9V965.9M184.78 951.9V965.9M197.37 951.9V965.9M209.96 951.9V965.9M222.55 951.9V965.9M235.14 951.9V965.9M247.73 951.9V965.9M260.32 951.9V965.9M272.91 951.9V965.9M285.5 951.9V965.9M298.09 951.9V965.9M310.68 951.9V965.9M323.27 951.9V965.9M335.86 951.9V965.9M348.45 951.9V965.9M361.04 951.9V965.9M373.63 951.9V965.9M386.22 951.9V965.9M398.81 951.9V965.9M411.4 951.9V965.9M423.99 951.9V965.9M436.58 951.9V965.9M449.17 951.9V965.9M461.76 951.9V965.9M474.35 951.9V965.9M486.94 951.9V965.9M499.53 951.9V965.9M512.12 951.9V965.9M524.71 951.9V965.9M537.3 951.9V965.9M549.89 951.9V965.9M562.48 951.9V965.9M575.07 951.9V965.9M587.66 951.9V965.9M600.25 951.9V965.9M612.84 951.9V965.9M625.43 951.9V965.9M638.02 951.9V965.9M650.61 951.9V965.9M663.2 951.9V965.9M675.79 951.9V965.9M688.38 951.9V965.9M700.97 951.9V965.9M713.56 951.9V965.9M726.15 951.9V965.9M738.74 951.9V965.9M751.33 951.9V965.9M763.92 951.9V965.9M776.51 951.9V965.9M789.1 951.9V965.9M801.69 951.9V965.9M814.28 951.9V965.9M826.87 951.9V965.9M839.46 951.9V965.9M852.05 951.9V965.9M864.64 951.9V965.9" stroke="#111" stroke-width="1.3" fill="none"/><path d="M146.3 947.47H153.3M870.3 947.47H877.3M146.3 943.05H153.3M870.3 943.05H877.3M146.3 938.62H153.3M870.3 938.62H877.3M146.3 934.19H153.3M870.3 934.19H877.3M146.3 925.34H153.3M870.3 925.34H877.3M146.3 920.91H153.3M870.3 920.91H877.3M146.3 916.49H153.3M870.3 916.49H877.3M146.3 912.06H153.3M870.3 912.06H877.3M146.3 903.21H153.3M870.3 903.21H877.3M146.3 898.78H153.3M870.3 898.78H877.3M146.3 894.35H153.3M870.3 894.35H877.3M146.3 889.93H153.3M870.3 889.93H877.3M146.3 881.07H153.3M870.3 881.07H877.3M146.3 876.65H153.3M870.3 876.65H877.3M146.3 872.22H153.3M870.3 872.22H877.3M146.3 867.79H153.3M870.3 867.79H877.3M146.3 858.94H153.3M870.3 858.94H877.3M146.3 854.51H153.3M870.3 854.51H877.3M146.3 850.09H153.3M870.3 850.09H877.3M146.3 845.66H153.3M870.3 845.66H877.3M146.3 836.81H153.3M870.3 836.81H877.3M146.3 832.38H153.3M870.3 832.38H877.3M146.3 827.95H153.3M870.3 827.95H877.3M146.3 823.53H153.3M870.3 823.53H877.3" stroke="#333" stroke-width="1" fill="none"/><rect x="153.3" y="819.1" width="717" height="132.8" fill="none" stroke="#000" stroke-width="1.4"/><text x="134.3" y="955.1" text-anchor="end" font-size="9">0.000</text><text x="134.3" y="932.97" text-anchor="end" font-size="9">0.010</text><text x="134.3" y="910.83" text-anchor="end" font-size="9">0.020</text><text x="134.3" y="888.7" text-anchor="end" font-size="9">0.030</text><text x="134.3" y="866.57" text-anchor="end" font-size="9">0.040</text><text x="134.3" y="844.43" text-anchor="end" font-size="9">0.050</text><text x="134.3" y="822.3" text-anchor="end" font-size="9">0.060</text><text transform="translate(163.4 978.9) rotate(-45)" text-anchor="middle" font-size="12.6" dy="4.5">25.00</text><text transform="translate(213.76 978.9) rotate(-45)" text-anchor="middle" font-size="12.6" dy="4.5">25.12</text><text transform="translate(264.12 978.9) rotate(-45)" text-anchor="middle" font-size="12.6" dy="4.5">26.00</text><text transform="translate(314.48 978.9) rotate(-45)" text-anchor="middle" font-size="12.6" dy="4.5">26.12</text><text transform="translate(364.84 978.9) rotate(-45)" text-anchor="middle" font-size="12.6" dy="4.5">27.00</text><text transform="translate(415.2 978.9) rotate(-45)" text-anchor="middle" font-size="12.6" dy="4.5">27.12</text><text transform="translate(465.56 978.9) rotate(-45)" text-anchor="middle" font-size="12.6" dy="4.5">28.00</text><text transform="translate(515.92 978.9) rotate(-45)" text-anchor="middle" font-size="12.6" dy="4.5">28.12</text><text transform="translate(566.28 978.9) rotate(-45)" text-anchor="middle" font-size="12.6" dy="4.5">29.00</text><text transform="translate(616.64 978.9) rotate(-45)" text-anchor="middle" font-size="12.6" dy="4.5">29.12</text><text transform="translate(667 978.9) rotate(-45)" text-anchor="middle" font-size="12.6" dy="4.5">30.00</text><text transform="translate(717.36 978.9) rotate(-45)" text-anchor="middle" font-size="12.6" dy="4.5">30.12</text><text transform="translate(767.72 978.9) rotate(-45)" text-anchor="middle" font-size="12.6" dy="4.5">31.00</text><text transform="translate(818.08 978.9) rotate(-45)" text-anchor="middle" font-size="12.6" dy="4.5">31.12</text><text transform="translate(868.44 978.9) rotate(-45)" text-anchor="middle" font-size="12.6" dy="4.5">01.00</text><text transform="translate(91.2 885.2) rotate(-90)" text-anchor="middle" font-size="24.8">PRECIP, mm</text></svg></body></html>
